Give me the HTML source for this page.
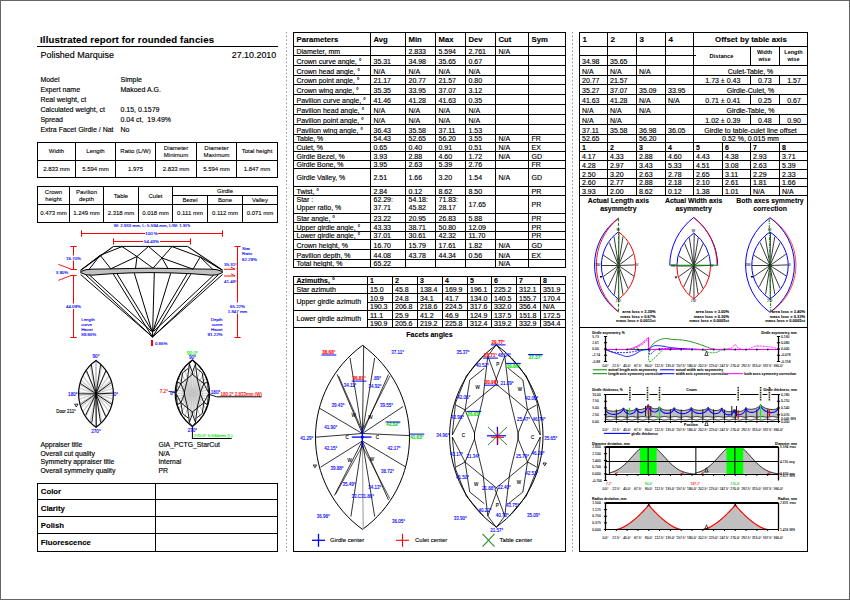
<!DOCTYPE html>
<html><head><meta charset="utf-8"><title>Illustrated report for rounded fancies</title>
<style>html,body{margin:0;padding:0;background:#fff;width:850px;height:600px;overflow:hidden}
svg{display:block} text{font-family:"Liberation Sans",sans-serif}</style></head>
<body><svg width="850" height="600" viewBox="0 0 850 600">
<rect width="850" height="600" fill="#fff"/>
<rect x="0" y="0" width="850" height="1" fill="#646464"/>
<rect x="0" y="599" width="850" height="1" fill="#646464"/>
<rect x="0" y="0" width="1" height="600" fill="#646464"/>
<rect x="849" y="0" width="1" height="600" fill="#646464"/>
<line x1="286.5" y1="32" x2="286.5" y2="552" stroke="#9a9a9a" stroke-width="1" stroke-dasharray="1.6,2.1"/>
<line x1="572.5" y1="32" x2="572.5" y2="552" stroke="#9a9a9a" stroke-width="1" stroke-dasharray="1.6,2.1"/>
<text x="40" y="42.7" font-size="9.6" font-weight="bold" stroke="#000" stroke-width="0.12" letter-spacing="0.15">Illustrated report for rounded fancies</text>
<rect x="37" y="46" width="241" height="1" fill="#000"/>
<text x="40.5" y="57.9" font-size="8.95" stroke="#000" stroke-width="0.15" >Polished Marquise</text>
<text x="276.2" y="57.9" font-size="8.9" text-anchor="end" stroke="#000" stroke-width="0.15" >27.10.2010</text>
<text x="40.4" y="81.8" font-size="7" stroke="#000" stroke-width="0.15" >Model</text>
<text x="120.5" y="81.8" font-size="7" stroke="#000" stroke-width="0.15" xml:space="preserve">Simple</text>
<text x="40.4" y="91.8" font-size="7" stroke="#000" stroke-width="0.15" >Expert name</text>
<text x="120.5" y="91.8" font-size="7" stroke="#000" stroke-width="0.15" xml:space="preserve">Makoed A.G.</text>
<text x="40.4" y="101.8" font-size="7" stroke="#000" stroke-width="0.15" >Real weight, ct</text>
<text x="120.5" y="101.8" font-size="7" stroke="#000" stroke-width="0.15" xml:space="preserve"></text>
<text x="40.4" y="111.8" font-size="7" stroke="#000" stroke-width="0.15" >Calculated weight, ct</text>
<text x="120.5" y="111.8" font-size="7" stroke="#000" stroke-width="0.15" xml:space="preserve">0.15, 0.1579</text>
<text x="40.4" y="121.6" font-size="7" stroke="#000" stroke-width="0.15" >Spread</text>
<text x="120.5" y="121.6" font-size="7" stroke="#000" stroke-width="0.15" xml:space="preserve">0.04 ct,  19.49%</text>
<text x="40.4" y="131.6" font-size="7" stroke="#000" stroke-width="0.15" >Extra Facet Girdle / Nat</text>
<text x="120.5" y="131.6" font-size="7" stroke="#000" stroke-width="0.15" xml:space="preserve">No</text>
<rect x="37" y="142" width="241" height="1" fill="#000"/>
<rect x="37" y="160" width="241" height="1" fill="#000"/>
<rect x="37" y="177" width="241" height="1" fill="#000"/>
<rect x="37" y="142" width="1" height="36" fill="#000"/>
<rect x="75" y="142" width="1" height="36" fill="#000"/>
<rect x="115" y="142" width="1" height="36" fill="#000"/>
<rect x="155" y="142" width="1" height="36" fill="#000"/>
<rect x="196" y="142" width="1" height="36" fill="#000"/>
<rect x="236" y="142" width="1" height="36" fill="#000"/>
<rect x="277" y="142" width="1" height="36" fill="#000"/>
<text x="56.5" y="153.3" font-size="6" text-anchor="middle" stroke="#000" stroke-width="0.1" >Width</text>
<text x="56.5" y="170.8" font-size="6" text-anchor="middle" stroke="#000" stroke-width="0.1" >2.833 mm</text>
<text x="95.5" y="153.3" font-size="6" text-anchor="middle" stroke="#000" stroke-width="0.1" >Length</text>
<text x="95.5" y="170.8" font-size="6" text-anchor="middle" stroke="#000" stroke-width="0.1" >5.594 mm</text>
<text x="135.5" y="153.3" font-size="6" text-anchor="middle" stroke="#000" stroke-width="0.1" >Ratio (L/W)</text>
<text x="135.5" y="170.8" font-size="6" text-anchor="middle" stroke="#000" stroke-width="0.1" >1.975</text>
<text x="176.0" y="149.7" font-size="6" text-anchor="middle" stroke="#000" stroke-width="0.1" >Diameter</text>
<text x="176.0" y="156.9" font-size="6" text-anchor="middle" stroke="#000" stroke-width="0.1" >Minimum</text>
<text x="176.0" y="170.8" font-size="6" text-anchor="middle" stroke="#000" stroke-width="0.1" >2.833 mm</text>
<text x="216.5" y="149.7" font-size="6" text-anchor="middle" stroke="#000" stroke-width="0.1" >Diameter</text>
<text x="216.5" y="156.9" font-size="6" text-anchor="middle" stroke="#000" stroke-width="0.1" >Maximum</text>
<text x="216.5" y="170.8" font-size="6" text-anchor="middle" stroke="#000" stroke-width="0.1" >5.594 mm</text>
<text x="257.0" y="153.3" font-size="6" text-anchor="middle" stroke="#000" stroke-width="0.1" >Total height</text>
<text x="257.0" y="170.8" font-size="6" text-anchor="middle" stroke="#000" stroke-width="0.1" >1.847 mm</text>
<rect x="37" y="186" width="241" height="1" fill="#000"/>
<rect x="37" y="204" width="241" height="1" fill="#000"/>
<rect x="37" y="222" width="241" height="1" fill="#000"/>
<rect x="172" y="195" width="106" height="1" fill="#000"/>
<rect x="37" y="186" width="1" height="37" fill="#000"/>
<rect x="69" y="186" width="1" height="37" fill="#000"/>
<rect x="103" y="186" width="1" height="37" fill="#000"/>
<rect x="138" y="186" width="1" height="37" fill="#000"/>
<rect x="172" y="186" width="1" height="37" fill="#000"/>
<rect x="207" y="195" width="1" height="28" fill="#000"/>
<rect x="242" y="195" width="1" height="28" fill="#000"/>
<rect x="277" y="186" width="1" height="37" fill="#000"/>
<text x="53.5" y="193.7" font-size="6" text-anchor="middle" stroke="#000" stroke-width="0.1" >Crown</text>
<text x="53.5" y="200.6" font-size="6" text-anchor="middle" stroke="#000" stroke-width="0.1" >height</text>
<text x="86.5" y="193.7" font-size="6" text-anchor="middle" stroke="#000" stroke-width="0.1" >Pavilion</text>
<text x="86.5" y="200.6" font-size="6" text-anchor="middle" stroke="#000" stroke-width="0.1" >depth</text>
<text x="121.0" y="197.5" font-size="6" text-anchor="middle" stroke="#000" stroke-width="0.1" >Table</text>
<text x="155.5" y="197.5" font-size="6" text-anchor="middle" stroke="#000" stroke-width="0.1" >Culet</text>
<text x="225.0" y="193" font-size="6" text-anchor="middle" stroke="#000" stroke-width="0.1" >Girdle</text>
<text x="190.0" y="202" font-size="6" text-anchor="middle" stroke="#000" stroke-width="0.1" >Bezel</text>
<text x="225.0" y="202" font-size="6" text-anchor="middle" stroke="#000" stroke-width="0.1" >Bone</text>
<text x="260.0" y="202" font-size="6" text-anchor="middle" stroke="#000" stroke-width="0.1" >Valley</text>
<text x="53.5" y="215.3" font-size="6" text-anchor="middle" stroke="#000" stroke-width="0.1" >0.473 mm</text>
<text x="86.5" y="215.3" font-size="6" text-anchor="middle" stroke="#000" stroke-width="0.1" >1.249 mm</text>
<text x="121.0" y="215.3" font-size="6" text-anchor="middle" stroke="#000" stroke-width="0.1" >2.318 mm</text>
<text x="155.5" y="215.3" font-size="6" text-anchor="middle" stroke="#000" stroke-width="0.1" >0.018 mm</text>
<text x="190.0" y="215.3" font-size="6" text-anchor="middle" stroke="#000" stroke-width="0.1" >0.111 mm</text>
<text x="225.0" y="215.3" font-size="6" text-anchor="middle" stroke="#000" stroke-width="0.1" >0.112 mm</text>
<text x="260.0" y="215.3" font-size="6" text-anchor="middle" stroke="#000" stroke-width="0.1" >0.071 mm</text>
<text x="40.5" y="447.1" font-size="6.85" stroke="#000" stroke-width="0.15" >Appraiser title</text>
<text x="158.4" y="447.1" font-size="6.85" stroke="#000" stroke-width="0.15" >GIA_PCTG_StarCut</text>
<text x="40.5" y="455.8" font-size="6.85" stroke="#000" stroke-width="0.15" >Overall cut quality</text>
<text x="158.4" y="455.8" font-size="6.85" stroke="#000" stroke-width="0.15" >N/A</text>
<text x="40.5" y="464.1" font-size="6.85" stroke="#000" stroke-width="0.15" >Symmetry appraiser title</text>
<text x="158.4" y="464.1" font-size="6.85" stroke="#000" stroke-width="0.15" >Internal</text>
<text x="40.5" y="472.5" font-size="6.85" stroke="#000" stroke-width="0.15" >Overall symmetry quality</text>
<text x="158.4" y="472.5" font-size="6.85" stroke="#000" stroke-width="0.15" >PR</text>
<rect x="37" y="483" width="241" height="1" fill="#000"/>
<rect x="37" y="499" width="241" height="1" fill="#000"/>
<rect x="37" y="516" width="241" height="1" fill="#000"/>
<rect x="37" y="533" width="241" height="1" fill="#000"/>
<rect x="37" y="551" width="241" height="1" fill="#000"/>
<rect x="37" y="483" width="1" height="69" fill="#000"/>
<rect x="155" y="483" width="1" height="69" fill="#000"/>
<rect x="277" y="483" width="1" height="69" fill="#000"/>
<text x="40.8" y="494.4" font-size="7.75" font-weight="bold" stroke="#000" stroke-width="0.12" >Color</text>
<text x="40.8" y="511.3" font-size="7.75" font-weight="bold" stroke="#000" stroke-width="0.12" >Clarity</text>
<text x="40.8" y="528.2" font-size="7.75" font-weight="bold" stroke="#000" stroke-width="0.12" >Polish</text>
<text x="40.8" y="545.4" font-size="7.75" font-weight="bold" stroke="#000" stroke-width="0.12" >Fluorescence</text>
<text x="152" y="227" font-size="4.4" fill="#00f" stroke="#00f" stroke-width="0.12" text-anchor="middle">W: 2.833 mm, L: 5.594 mm, L/W: 1.975</text>
<line x1="81.2" y1="233.5" x2="222.5" y2="233.5" stroke="#f00" stroke-width="1" />
<line x1="81.5" y1="230.3" x2="81.5" y2="236.7" stroke="#f00" stroke-width="1" />
<line x1="222.5" y1="230.3" x2="222.5" y2="236.7" stroke="#f00" stroke-width="1" />
<rect x="145" y="231" width="13" height="5" fill="#fff"/>
<text x="151.5" y="235.2" font-size="4.4" fill="#00f" stroke="#00f" stroke-width="0.12" text-anchor="middle">100 %</text>
<line x1="113.3" y1="241.5" x2="190.4" y2="241.5" stroke="#f00" stroke-width="1" />
<line x1="113.5" y1="238.4" x2="113.5" y2="244.6" stroke="#f00" stroke-width="1" />
<line x1="190.5" y1="238.4" x2="190.5" y2="244.6" stroke="#f00" stroke-width="1" />
<rect x="143" y="238.5" width="17" height="5" fill="#fff"/>
<text x="151.5" y="242.8" font-size="4.4" fill="#00f" stroke="#00f" stroke-width="0.12" text-anchor="middle">54.43%</text>
<line x1="73.5" y1="246.5" x2="73.5" y2="269.4" stroke="#f00" stroke-width="1" />
<line x1="70.5" y1="246.5" x2="76.7" y2="246.5" stroke="#f00" stroke-width="1" />
<line x1="70.5" y1="269.5" x2="76.7" y2="269.5" stroke="#f00" stroke-width="1" />
<rect x="64" y="255.5" width="18" height="5" fill="#fff"/>
<text x="73.4" y="259.6" font-size="4.4" fill="#00f" stroke="#00f" stroke-width="0.12" text-anchor="middle">16.70%</text>
<line x1="58.3" y1="264.3" x2="71.3" y2="269.2" stroke="#f00" stroke-width="0.9" />
<line x1="58.3" y1="280.4" x2="71.3" y2="275.4" stroke="#f00" stroke-width="0.9" />
<line x1="70.5" y1="275.5" x2="76.7" y2="275.5" stroke="#f00" stroke-width="1" />
<text x="62" y="274.2" font-size="4.4" fill="#00f" stroke="#00f" stroke-width="0.12" text-anchor="middle">3.90%</text>
<line x1="73.5" y1="275.6" x2="73.5" y2="337.5" stroke="#f00" stroke-width="1" />
<line x1="70.5" y1="337.5" x2="76.7" y2="337.5" stroke="#f00" stroke-width="1" />
<rect x="64" y="303.5" width="18" height="5.5" fill="#fff"/>
<text x="73.4" y="308" font-size="4.4" fill="#00f" stroke="#00f" stroke-width="0.12" text-anchor="middle">44.09%</text>
<text x="81.2" y="321.0" font-size="4.4" fill="#00f" stroke="#00f" stroke-width="0.12">Length</text>
<text x="81.2" y="326.1" font-size="4.4" fill="#00f" stroke="#00f" stroke-width="0.12">curve</text>
<text x="81.2" y="331.2" font-size="4.4" fill="#00f" stroke="#00f" stroke-width="0.12">Hacet</text>
<text x="81.2" y="336.3" font-size="4.4" fill="#00f" stroke="#00f" stroke-width="0.12">89.90%</text>
<line x1="237.5" y1="246.4" x2="237.5" y2="337.5" stroke="#f00" stroke-width="1" />
<line x1="234.4" y1="246.5" x2="240.6" y2="246.5" stroke="#f00" stroke-width="1" />
<line x1="234.4" y1="337.5" x2="240.6" y2="337.5" stroke="#f00" stroke-width="1" />
<rect x="228" y="302.5" width="20" height="11" fill="#fff"/>
<text x="237.5" y="307.8" font-size="4.4" fill="#00f" stroke="#00f" stroke-width="0.12" text-anchor="middle">65.22%</text>
<text x="237.5" y="312.9" font-size="4.4" fill="#00f" stroke="#00f" stroke-width="0.12" text-anchor="middle">1.847 mm</text>
<text x="242" y="249.6" font-size="4.4" fill="#00f" stroke="#00f" stroke-width="0.12">Star</text>
<text x="242" y="255.1" font-size="4.4" fill="#00f" stroke="#00f" stroke-width="0.12">Ratio</text>
<text x="242" y="261.40000000000003" font-size="4.4" fill="#00f" stroke="#00f" stroke-width="0.12">62.29%</text>
<text x="222.5" y="321.0" font-size="4.4" fill="#00f" stroke="#00f" stroke-width="0.12" text-anchor="end">Depth</text>
<text x="222.5" y="326.1" font-size="4.4" fill="#00f" stroke="#00f" stroke-width="0.12" text-anchor="end">curve</text>
<text x="222.5" y="331.2" font-size="4.4" fill="#00f" stroke="#00f" stroke-width="0.12" text-anchor="end">Hacet</text>
<text x="222.5" y="336.3" font-size="4.4" fill="#00f" stroke="#00f" stroke-width="0.12" text-anchor="end">91.22%</text>
<text x="224.1" y="265.5" font-size="4.4" fill="#00f" stroke="#00f" stroke-width="0.12">35.31°</text>
<text x="224.1" y="282.6" font-size="4.4" fill="#00f" stroke="#00f" stroke-width="0.12">41.48°</text>
<line x1="224" y1="269.3" x2="235" y2="269.3" stroke="#f00" stroke-width="0.9" />
<line x1="235" y1="269.3" x2="231" y2="267.2" stroke="#f00" stroke-width="0.9" />
<line x1="224" y1="276" x2="235" y2="276" stroke="#f00" stroke-width="0.9" />
<line x1="235" y1="276" x2="231" y2="273.8" stroke="#f00" stroke-width="0.9" />
<line x1="152" y1="340" x2="152" y2="346" stroke="#f00" stroke-width="2" />
<text x="155" y="345" font-size="4.4" fill="#00f" stroke="#00f" stroke-width="0.12">0.65%</text>
<polygon points="80.6,271.6 86,269.7 92,269.2 110,268.9 130,268.5 151,268.2 172,268.5 193,268.9 211,269.2 217,269.7 222.5,271.6 222.5,272.6 217,274.8 211,275.2 193,273.8 172,272.9 151,272.6 130,272.9 110,273.8 92,275.2 86,274.8 80.6,272.6" fill="#c0c0c0" stroke="#000" stroke-width="1"/>
<line x1="113.5" y1="246.4" x2="187.5" y2="246.4" stroke="#000" stroke-width="1" />
<polyline points="113.5,246.4 80.6,270.3" fill="none" stroke="#000" stroke-width="1.05" />
<polyline points="187.5,246.4 222.5,270.3" fill="none" stroke="#000" stroke-width="1.05" />
<polyline points="122.0,246.6 100.2,255.3 80.6,270.3" fill="none" stroke="#000" stroke-width="1.0" />
<polyline points="172.0,246.6 200.2,257.0 222.5,270.3" fill="none" stroke="#000" stroke-width="1.0" />
<polyline points="100.2,255.3 110.8,268.8" fill="none" stroke="#000" stroke-width="1.0" />
<polyline points="100.2,255.3 89.0,269.4" fill="none" stroke="#000" stroke-width="1.0" />
<polyline points="200.2,257.0 193.0,269.2" fill="none" stroke="#000" stroke-width="1.0" />
<polyline points="200.2,257.0 213.0,269.6" fill="none" stroke="#000" stroke-width="1.0" />
<polyline points="122.0,246.6 137.0,256.5 148.5,246.4 162.0,258.0 172.0,246.6" fill="none" stroke="#000" stroke-width="1.0" />
<polyline points="110.8,268.8 137.0,256.5 153.0,268.2 162.0,258.0 193.0,269.2" fill="none" stroke="#000" stroke-width="1.0" />
<polyline points="137.0,256.5 135.5,268.6" fill="none" stroke="#000" stroke-width="1.0" />
<polyline points="162.0,258.0 168.0,268.6" fill="none" stroke="#000" stroke-width="1.0" />
<line x1="80.6" y1="274.5" x2="152.5" y2="337" stroke="#000" stroke-width="1.0" />
<line x1="89.6" y1="275.2" x2="151.0" y2="331" stroke="#000" stroke-width="1.0" />
<line x1="86" y1="275" x2="152.5" y2="337" stroke="#000" stroke-width="1.0" />
<line x1="113.3" y1="274" x2="152.5" y2="337" stroke="#000" stroke-width="1.0" />
<line x1="117" y1="273.8" x2="152.0" y2="331" stroke="#000" stroke-width="1.0" />
<line x1="134.3" y1="273.2" x2="152.2" y2="332" stroke="#000" stroke-width="1.0" />
<line x1="154.3" y1="272.6" x2="152.5" y2="337" stroke="#000" stroke-width="1.0" />
<line x1="170.7" y1="273.2" x2="152.8" y2="332" stroke="#000" stroke-width="1.0" />
<line x1="187" y1="274" x2="153.0" y2="331" stroke="#000" stroke-width="1.0" />
<line x1="190.8" y1="274.2" x2="152.5" y2="337" stroke="#000" stroke-width="1.0" />
<line x1="213.6" y1="275.2" x2="154.0" y2="331" stroke="#000" stroke-width="1.0" />
<line x1="218" y1="275" x2="152.5" y2="337" stroke="#000" stroke-width="1.0" />
<line x1="222.5" y1="274.5" x2="152.5" y2="337" stroke="#000" stroke-width="1.0" />
<clipPath id="clipp96"><path d="M96,360.40000000000003 A40.76,40.76 0 0,1 96,427.2 A40.76,40.76 0 0,1 96,360.40000000000003 Z"/></clipPath>
<g clip-path="url(#clipp96)">
<line x1="113.4" y1="392.0" x2="78.6" y2="395.6" stroke="#c8c8c8" stroke-width="1.2"/>
<line x1="113.0" y1="388.3" x2="79.0" y2="399.3" stroke="#c8c8c8" stroke-width="1.2"/>
<line x1="112.3" y1="384.4" x2="79.7" y2="403.2" stroke="#c8c8c8" stroke-width="1.2"/>
<line x1="111.1" y1="380.2" x2="80.9" y2="407.4" stroke="#c8c8c8" stroke-width="1.2"/>
<line x1="109.2" y1="375.7" x2="82.8" y2="411.9" stroke="#c8c8c8" stroke-width="1.2"/>
<line x1="106.3" y1="370.8" x2="85.7" y2="416.8" stroke="#c8c8c8" stroke-width="1.2"/>
<line x1="102.0" y1="365.5" x2="90.0" y2="422.1" stroke="#c8c8c8" stroke-width="1.2"/>
<line x1="96.0" y1="360.4" x2="96.0" y2="427.2" stroke="#c8c8c8" stroke-width="1.2"/>
<line x1="90.0" y1="365.5" x2="102.0" y2="422.1" stroke="#c8c8c8" stroke-width="1.2"/>
<line x1="85.7" y1="370.8" x2="106.3" y2="416.8" stroke="#c8c8c8" stroke-width="1.2"/>
<line x1="82.8" y1="375.7" x2="109.2" y2="411.9" stroke="#c8c8c8" stroke-width="1.2"/>
<line x1="80.9" y1="380.2" x2="111.1" y2="407.4" stroke="#c8c8c8" stroke-width="1.2"/>
<line x1="79.7" y1="384.4" x2="112.3" y2="403.2" stroke="#c8c8c8" stroke-width="1.2"/>
<line x1="79.0" y1="388.3" x2="113.0" y2="399.3" stroke="#c8c8c8" stroke-width="1.2"/>
<line x1="78.6" y1="392.0" x2="113.4" y2="395.6" stroke="#c8c8c8" stroke-width="1.2"/>
<line x1="96" y1="360.40000000000003" x2="96" y2="427.2" stroke="#c8c8c8" stroke-width="1.8"/>
</g>
<line x1="91.4" y1="365.0" x2="96.0" y2="393.8" stroke="#000" stroke-width="0.9" />
<line x1="100.6" y1="365.0" x2="96.0" y2="393.8" stroke="#000" stroke-width="0.9" />
<line x1="86.7" y1="371.0" x2="96.0" y2="393.8" stroke="#000" stroke-width="0.9" />
<line x1="105.7" y1="371.0" x2="96.0" y2="393.8" stroke="#000" stroke-width="0.9" />
<line x1="80.2" y1="383.3" x2="96.0" y2="393.8" stroke="#000" stroke-width="0.9" />
<line x1="111.1" y1="382.7" x2="96.0" y2="393.8" stroke="#000" stroke-width="0.9" />
<line x1="78.6" y1="393.8" x2="96.0" y2="393.8" stroke="#000" stroke-width="0.9" />
<line x1="113.4" y1="393.2" x2="96.0" y2="393.8" stroke="#000" stroke-width="0.9" />
<line x1="96.3" y1="427.3" x2="96.0" y2="393.8" stroke="#000" stroke-width="0.9" />
<line x1="80.6" y1="404.7" x2="96.0" y2="393.8" stroke="#000" stroke-width="0.9" />
<line x1="85.7" y1="415.0" x2="96.0" y2="393.8" stroke="#000" stroke-width="0.9" />
<line x1="91.8" y1="422.6" x2="96.0" y2="393.8" stroke="#000" stroke-width="0.9" />
<line x1="100.6" y1="422.6" x2="96.0" y2="393.8" stroke="#000" stroke-width="0.9" />
<line x1="105.7" y1="416.6" x2="96.0" y2="393.8" stroke="#000" stroke-width="0.9" />
<line x1="112.1" y1="404.7" x2="96.0" y2="393.8" stroke="#000" stroke-width="0.9" />
<path d="M96,360.40000000000003 A40.76,40.76 0 0,1 96,427.2 A40.76,40.76 0 0,1 96,360.40000000000003 Z" fill="none" stroke="#000" stroke-width="1.2"/>
<text x="96" y="358.2" font-size="4.6" fill="#00f" stroke="#00f" stroke-width="0.12" text-anchor="middle">90°</text>
<text x="96" y="432.5" font-size="4.6" fill="#00f" stroke="#00f" stroke-width="0.12" text-anchor="middle">270°</text>
<text x="77.6" y="395.6" font-size="4.6" fill="#00f" stroke="#00f" stroke-width="0.12" text-anchor="end">180°</text>
<text x="113.8" y="395.6" font-size="4.6" fill="#00f" stroke="#00f" stroke-width="0.12">0°</text>
<path d="M74.6,404.2 L78,404.2 L76.3,407 Z" fill="none" stroke="#000" stroke-width="0.8"/>
<text x="56.2" y="412.6" font-size="4.45" fill="#000" stroke="#000" stroke-width="0.12">Door 211°</text>
<clipPath id="clipc192"><path d="M192.4,360.0 A40.64,40.64 0 0,1 192.4,426.4 A40.64,40.64 0 0,1 192.4,360.0 Z"/></clipPath>
<g clip-path="url(#clipc192)">
<path d="M192.4,372.616 A25.20,25.20 0 0,1 192.4,413.784 A25.20,25.20 0 0,1 192.4,372.616 Z" fill="#e2e2e2"/>
<line x1="209.6" y1="393.2" x2="175.2" y2="393.2" stroke="#c4c4c4" stroke-width="1.1"/>
<line x1="209.4" y1="389.6" x2="175.4" y2="396.8" stroke="#c4c4c4" stroke-width="1.1"/>
<line x1="208.9" y1="385.8" x2="175.9" y2="400.6" stroke="#c4c4c4" stroke-width="1.1"/>
<line x1="208.0" y1="381.9" x2="176.8" y2="404.5" stroke="#c4c4c4" stroke-width="1.1"/>
<line x1="206.5" y1="377.6" x2="178.3" y2="408.8" stroke="#c4c4c4" stroke-width="1.1"/>
<line x1="204.1" y1="372.9" x2="180.7" y2="413.5" stroke="#c4c4c4" stroke-width="1.1"/>
<line x1="200.7" y1="367.8" x2="184.1" y2="418.6" stroke="#c4c4c4" stroke-width="1.1"/>
<line x1="195.6" y1="362.5" x2="189.2" y2="423.9" stroke="#c4c4c4" stroke-width="1.1"/>
<line x1="189.2" y1="362.5" x2="195.6" y2="423.9" stroke="#c4c4c4" stroke-width="1.1"/>
<line x1="184.1" y1="367.8" x2="200.7" y2="418.6" stroke="#c4c4c4" stroke-width="1.1"/>
<line x1="180.7" y1="372.9" x2="204.1" y2="413.5" stroke="#c4c4c4" stroke-width="1.1"/>
<line x1="178.3" y1="377.6" x2="206.5" y2="408.8" stroke="#c4c4c4" stroke-width="1.1"/>
<line x1="176.8" y1="381.9" x2="208.0" y2="404.5" stroke="#c4c4c4" stroke-width="1.1"/>
<line x1="175.9" y1="385.8" x2="208.9" y2="400.6" stroke="#c4c4c4" stroke-width="1.1"/>
<line x1="175.4" y1="389.6" x2="209.4" y2="396.8" stroke="#c4c4c4" stroke-width="1.1"/>
</g>
<polyline points="192.4,359.8 189.3,364.0" fill="none" stroke="#000" stroke-width="0.9" />
<polyline points="189.3,364.0 193.0,373.9" fill="none" stroke="#000" stroke-width="0.9" />
<polyline points="193.0,373.9 180.9,383.7" fill="none" stroke="#000" stroke-width="0.9" />
<polyline points="189.3,364.0 187.5,379.3 184.4,392.1" fill="none" stroke="#000" stroke-width="0.9" />
<polyline points="188.0,368.5 182.6,372.8 180.9,383.7" fill="none" stroke="#000" stroke-width="0.9" />
<polyline points="180.9,383.7 176.2,392.8" fill="none" stroke="#000" stroke-width="0.9" />
<polyline points="180.9,383.7 184.4,392.1" fill="none" stroke="#000" stroke-width="0.9" />
<polyline points="187.6,364.0 181.4,371.3 177.4,381.2 176.2,392.8" fill="none" stroke="#000" stroke-width="0.9" />
<polyline points="180.9,383.7 177.6,381.9" fill="none" stroke="#000" stroke-width="0.9" />
<polyline points="184.4,392.1 184.4,394.3" fill="none" stroke="#000" stroke-width="0.9" />
<polyline points="192.4,426.6 189.3,422.4" fill="none" stroke="#000" stroke-width="0.9" />
<polyline points="189.3,422.4 193.0,412.5" fill="none" stroke="#000" stroke-width="0.9" />
<polyline points="193.0,412.5 180.9,402.7" fill="none" stroke="#000" stroke-width="0.9" />
<polyline points="189.3,422.4 187.5,407.1 184.4,394.3" fill="none" stroke="#000" stroke-width="0.9" />
<polyline points="188.0,417.9 182.6,413.6 180.9,402.7" fill="none" stroke="#000" stroke-width="0.9" />
<polyline points="180.9,402.7 176.2,393.6" fill="none" stroke="#000" stroke-width="0.9" />
<polyline points="180.9,402.7 184.4,394.3" fill="none" stroke="#000" stroke-width="0.9" />
<polyline points="187.6,422.4 181.4,415.1 177.4,405.2 176.2,393.6" fill="none" stroke="#000" stroke-width="0.9" />
<polyline points="180.9,402.7 177.6,404.5" fill="none" stroke="#000" stroke-width="0.9" />
<polyline points="184.4,394.3 184.4,392.1" fill="none" stroke="#000" stroke-width="0.9" />
<polyline points="192.4,359.8 195.5,364.0" fill="none" stroke="#000" stroke-width="0.9" />
<polyline points="195.5,364.0 191.8,373.9" fill="none" stroke="#000" stroke-width="0.9" />
<polyline points="191.8,373.9 203.9,383.7" fill="none" stroke="#000" stroke-width="0.9" />
<polyline points="195.5,364.0 197.3,379.3 200.4,392.1" fill="none" stroke="#000" stroke-width="0.9" />
<polyline points="196.8,368.5 202.2,372.8 203.9,383.7" fill="none" stroke="#000" stroke-width="0.9" />
<polyline points="203.9,383.7 208.6,392.8" fill="none" stroke="#000" stroke-width="0.9" />
<polyline points="203.9,383.7 200.4,392.1" fill="none" stroke="#000" stroke-width="0.9" />
<polyline points="197.2,364.0 203.4,371.3 207.4,381.2 208.6,392.8" fill="none" stroke="#000" stroke-width="0.9" />
<polyline points="203.9,383.7 207.2,381.9" fill="none" stroke="#000" stroke-width="0.9" />
<polyline points="200.4,392.1 200.4,394.3" fill="none" stroke="#000" stroke-width="0.9" />
<polyline points="192.4,426.6 195.5,422.4" fill="none" stroke="#000" stroke-width="0.9" />
<polyline points="195.5,422.4 191.8,412.5" fill="none" stroke="#000" stroke-width="0.9" />
<polyline points="191.8,412.5 203.9,402.7" fill="none" stroke="#000" stroke-width="0.9" />
<polyline points="195.5,422.4 197.3,407.1 200.4,394.3" fill="none" stroke="#000" stroke-width="0.9" />
<polyline points="196.8,417.9 202.2,413.6 203.9,402.7" fill="none" stroke="#000" stroke-width="0.9" />
<polyline points="203.9,402.7 208.6,393.6" fill="none" stroke="#000" stroke-width="0.9" />
<polyline points="203.9,402.7 200.4,394.3" fill="none" stroke="#000" stroke-width="0.9" />
<polyline points="197.2,422.4 203.4,415.1 207.4,405.2 208.6,393.6" fill="none" stroke="#000" stroke-width="0.9" />
<polyline points="203.9,402.7 207.2,404.5" fill="none" stroke="#000" stroke-width="0.9" />
<polyline points="200.4,394.3 200.4,392.1" fill="none" stroke="#000" stroke-width="0.9" />
<path d="M192.4,360.0 A40.64,40.64 0 0,1 192.4,426.4 A40.64,40.64 0 0,1 192.4,360.0 Z" fill="none" stroke="#000" stroke-width="1.2"/>
<line x1="192.4" y1="426.4" x2="192.4" y2="438.5" stroke="#000" stroke-width="1" />
<line x1="191.9" y1="438.5" x2="231.7" y2="438.5" stroke="#000" stroke-width="1" />
<line x1="209.6" y1="394.5" x2="216.7" y2="396.8" stroke="#000" stroke-width="0.9" />
<line x1="216.7" y1="396.8" x2="261.7" y2="396.8" stroke="#000" stroke-width="1" />
<line x1="168.5" y1="391.3" x2="175.3" y2="392.5" stroke="#000" stroke-width="0.8" />
<text x="192.4" y="355.2" font-size="4.6" fill="#0e0" stroke="#0e0" stroke-width="0.12" text-anchor="middle">90.0°</text>
<text x="192.4" y="359.2" font-size="4.6" fill="#00f" stroke="#00f" stroke-width="0.12" text-anchor="middle">90°</text>
<text x="192.4" y="432.2" font-size="4.6" fill="#00f" stroke="#00f" stroke-width="0.12" text-anchor="middle">270°</text>
<text x="174.6" y="394.5" font-size="4.6" fill="#00f" stroke="#00f" stroke-width="0.12" text-anchor="end">0°</text>
<text x="168" y="392.8" font-size="4.6" fill="#f00" stroke="#f00" stroke-width="0.12" text-anchor="end">7.2°</text>
<text x="210.8" y="394.2" font-size="4.6" fill="#00f" stroke="#00f" stroke-width="0.12">180°</text>
<text x="220.5" y="395.5" font-size="4.5" fill="#f00" stroke="#f00" stroke-width="0.12">180.2° 2.833mm (W)</text>
<text x="193.7" y="437.2" font-size="4.4" fill="#0e0" stroke="#0e0" stroke-width="0.12">270.0° 5.594mm (L)</text>
<rect x="293" y="32" width="273" height="1" fill="#000"/>
<rect x="293" y="46" width="273" height="1" fill="#000"/>
<rect x="293" y="55" width="273" height="1" fill="#000"/>
<rect x="293" y="65" width="273" height="1" fill="#000"/>
<rect x="293" y="75" width="273" height="1" fill="#000"/>
<rect x="293" y="84" width="273" height="1" fill="#000"/>
<rect x="293" y="94" width="273" height="1" fill="#000"/>
<rect x="293" y="104" width="273" height="1" fill="#000"/>
<rect x="293" y="114" width="273" height="1" fill="#000"/>
<rect x="293" y="124" width="273" height="1" fill="#000"/>
<rect x="293" y="134" width="273" height="1" fill="#000"/>
<rect x="293" y="142" width="273" height="1" fill="#000"/>
<rect x="293" y="151" width="273" height="1" fill="#000"/>
<rect x="293" y="160" width="273" height="1" fill="#000"/>
<rect x="293" y="168" width="273" height="1" fill="#000"/>
<rect x="293" y="186" width="273" height="1" fill="#000"/>
<rect x="293" y="195" width="273" height="1" fill="#000"/>
<rect x="293" y="213" width="273" height="1" fill="#000"/>
<rect x="293" y="222" width="273" height="1" fill="#000"/>
<rect x="293" y="231" width="273" height="1" fill="#000"/>
<rect x="293" y="239" width="273" height="1" fill="#000"/>
<rect x="293" y="249" width="273" height="1" fill="#000"/>
<rect x="293" y="259" width="273" height="1" fill="#000"/>
<rect x="293" y="267" width="273" height="1" fill="#000"/>
<rect x="293" y="32" width="1" height="236" fill="#000"/>
<rect x="370" y="32" width="1" height="236" fill="#000"/>
<rect x="405" y="32" width="1" height="236" fill="#000"/>
<rect x="435" y="32" width="1" height="236" fill="#000"/>
<rect x="465" y="32" width="1" height="236" fill="#000"/>
<rect x="495" y="32" width="1" height="236" fill="#000"/>
<rect x="528" y="32" width="1" height="236" fill="#000"/>
<rect x="565" y="32" width="1" height="236" fill="#000"/>
<text x="296.5" y="42.2" font-size="7.7" font-weight="bold" stroke="#000" stroke-width="0.12" >Parameters</text>
<text x="373.5" y="42.2" font-size="7.7" font-weight="bold" stroke="#000" stroke-width="0.12" >Avg</text>
<text x="408.5" y="42.2" font-size="7.7" font-weight="bold" stroke="#000" stroke-width="0.12" >Min</text>
<text x="438.5" y="42.2" font-size="7.7" font-weight="bold" stroke="#000" stroke-width="0.12" >Max</text>
<text x="468.5" y="42.2" font-size="7.7" font-weight="bold" stroke="#000" stroke-width="0.12" >Dev</text>
<text x="498.5" y="42.2" font-size="7.7" font-weight="bold" stroke="#000" stroke-width="0.12" >Cut</text>
<text x="531.5" y="42.2" font-size="7.7" font-weight="bold" stroke="#000" stroke-width="0.12" >Sym</text>
<text x="296.5" y="54.1" font-size="7" stroke="#000" stroke-width="0.15" >Diameter, mm</text>
<text x="408.5" y="54.1" font-size="7" stroke="#000" stroke-width="0.15" >2.833</text>
<text x="438.5" y="54.1" font-size="7" stroke="#000" stroke-width="0.15" >5.594</text>
<text x="468.5" y="54.1" font-size="7" stroke="#000" stroke-width="0.15" >2.761</text>
<text x="498.5" y="54.1" font-size="7" stroke="#000" stroke-width="0.15" >N/A</text>
<text x="296.5" y="64.1" font-size="7" stroke="#000" stroke-width="0.15" >Crown curve angle, °</text>
<text x="373.5" y="64.1" font-size="7" stroke="#000" stroke-width="0.15" >35.31</text>
<text x="408.5" y="64.1" font-size="7" stroke="#000" stroke-width="0.15" >34.98</text>
<text x="438.5" y="64.1" font-size="7" stroke="#000" stroke-width="0.15" >35.65</text>
<text x="468.5" y="64.1" font-size="7" stroke="#000" stroke-width="0.15" >0.67</text>
<text x="296.5" y="74.1" font-size="7" stroke="#000" stroke-width="0.15" >Crown head angle, °</text>
<text x="373.5" y="74.1" font-size="7" stroke="#000" stroke-width="0.15" >N/A</text>
<text x="408.5" y="74.1" font-size="7" stroke="#000" stroke-width="0.15" >N/A</text>
<text x="438.5" y="74.1" font-size="7" stroke="#000" stroke-width="0.15" >N/A</text>
<text x="468.5" y="74.1" font-size="7" stroke="#000" stroke-width="0.15" >N/A</text>
<text x="296.5" y="83.1" font-size="7" stroke="#000" stroke-width="0.15" >Crown point angle, °</text>
<text x="373.5" y="83.1" font-size="7" stroke="#000" stroke-width="0.15" >21.17</text>
<text x="408.5" y="83.1" font-size="7" stroke="#000" stroke-width="0.15" >20.77</text>
<text x="438.5" y="83.1" font-size="7" stroke="#000" stroke-width="0.15" >21.57</text>
<text x="468.5" y="83.1" font-size="7" stroke="#000" stroke-width="0.15" >0.80</text>
<text x="296.5" y="93.1" font-size="7" stroke="#000" stroke-width="0.15" >Crown wing angle, °</text>
<text x="373.5" y="93.1" font-size="7" stroke="#000" stroke-width="0.15" >35.35</text>
<text x="408.5" y="93.1" font-size="7" stroke="#000" stroke-width="0.15" >33.95</text>
<text x="438.5" y="93.1" font-size="7" stroke="#000" stroke-width="0.15" >37.07</text>
<text x="468.5" y="93.1" font-size="7" stroke="#000" stroke-width="0.15" >3.12</text>
<text x="296.5" y="103.1" font-size="7" stroke="#000" stroke-width="0.15" >Pavilion curve angle, °</text>
<text x="373.5" y="103.1" font-size="7" stroke="#000" stroke-width="0.15" >41.46</text>
<text x="408.5" y="103.1" font-size="7" stroke="#000" stroke-width="0.15" >41.28</text>
<text x="438.5" y="103.1" font-size="7" stroke="#000" stroke-width="0.15" >41.63</text>
<text x="468.5" y="103.1" font-size="7" stroke="#000" stroke-width="0.15" >0.35</text>
<text x="296.5" y="113.1" font-size="7" stroke="#000" stroke-width="0.15" >Pavilion head angle, °</text>
<text x="373.5" y="113.1" font-size="7" stroke="#000" stroke-width="0.15" >N/A</text>
<text x="408.5" y="113.1" font-size="7" stroke="#000" stroke-width="0.15" >N/A</text>
<text x="438.5" y="113.1" font-size="7" stroke="#000" stroke-width="0.15" >N/A</text>
<text x="468.5" y="113.1" font-size="7" stroke="#000" stroke-width="0.15" >N/A</text>
<text x="296.5" y="123.1" font-size="7" stroke="#000" stroke-width="0.15" >Pavilion point angle, °</text>
<text x="373.5" y="123.1" font-size="7" stroke="#000" stroke-width="0.15" >N/A</text>
<text x="408.5" y="123.1" font-size="7" stroke="#000" stroke-width="0.15" >N/A</text>
<text x="438.5" y="123.1" font-size="7" stroke="#000" stroke-width="0.15" >N/A</text>
<text x="468.5" y="123.1" font-size="7" stroke="#000" stroke-width="0.15" >N/A</text>
<text x="296.5" y="133.1" font-size="7" stroke="#000" stroke-width="0.15" >Pavilion wing angle, °</text>
<text x="373.5" y="133.1" font-size="7" stroke="#000" stroke-width="0.15" >36.43</text>
<text x="408.5" y="133.1" font-size="7" stroke="#000" stroke-width="0.15" >35.58</text>
<text x="438.5" y="133.1" font-size="7" stroke="#000" stroke-width="0.15" >37.11</text>
<text x="468.5" y="133.1" font-size="7" stroke="#000" stroke-width="0.15" >1.53</text>
<text x="296.5" y="141.1" font-size="7" stroke="#000" stroke-width="0.15" >Table, %</text>
<text x="373.5" y="141.1" font-size="7" stroke="#000" stroke-width="0.15" >54.43</text>
<text x="408.5" y="141.1" font-size="7" stroke="#000" stroke-width="0.15" >52.65</text>
<text x="438.5" y="141.1" font-size="7" stroke="#000" stroke-width="0.15" >56.20</text>
<text x="468.5" y="141.1" font-size="7" stroke="#000" stroke-width="0.15" >3.55</text>
<text x="498.5" y="141.1" font-size="7" stroke="#000" stroke-width="0.15" >N/A</text>
<text x="531.5" y="141.1" font-size="7" stroke="#000" stroke-width="0.15" >FR</text>
<text x="296.5" y="150.1" font-size="7" stroke="#000" stroke-width="0.15" >Culet, %</text>
<text x="373.5" y="150.1" font-size="7" stroke="#000" stroke-width="0.15" >0.65</text>
<text x="408.5" y="150.1" font-size="7" stroke="#000" stroke-width="0.15" >0.40</text>
<text x="438.5" y="150.1" font-size="7" stroke="#000" stroke-width="0.15" >0.91</text>
<text x="468.5" y="150.1" font-size="7" stroke="#000" stroke-width="0.15" >0.51</text>
<text x="498.5" y="150.1" font-size="7" stroke="#000" stroke-width="0.15" >N/A</text>
<text x="531.5" y="150.1" font-size="7" stroke="#000" stroke-width="0.15" >EX</text>
<text x="296.5" y="159.1" font-size="7" stroke="#000" stroke-width="0.15" >Girdle Bezel, %</text>
<text x="373.5" y="159.1" font-size="7" stroke="#000" stroke-width="0.15" >3.93</text>
<text x="408.5" y="159.1" font-size="7" stroke="#000" stroke-width="0.15" >2.88</text>
<text x="438.5" y="159.1" font-size="7" stroke="#000" stroke-width="0.15" >4.60</text>
<text x="468.5" y="159.1" font-size="7" stroke="#000" stroke-width="0.15" >1.72</text>
<text x="498.5" y="159.1" font-size="7" stroke="#000" stroke-width="0.15" >N/A</text>
<text x="531.5" y="159.1" font-size="7" stroke="#000" stroke-width="0.15" >GD</text>
<text x="296.5" y="167.1" font-size="7" stroke="#000" stroke-width="0.15" >Girdle Bone, %</text>
<text x="373.5" y="167.1" font-size="7" stroke="#000" stroke-width="0.15" >3.95</text>
<text x="408.5" y="167.1" font-size="7" stroke="#000" stroke-width="0.15" >2.63</text>
<text x="438.5" y="167.1" font-size="7" stroke="#000" stroke-width="0.15" >5.39</text>
<text x="468.5" y="167.1" font-size="7" stroke="#000" stroke-width="0.15" >2.76</text>
<text x="531.5" y="167.1" font-size="7" stroke="#000" stroke-width="0.15" >FR</text>
<text x="296.5" y="179.8" font-size="7" stroke="#000" stroke-width="0.15" >Girdle Valley, %</text>
<text x="373.5" y="179.8" font-size="7" stroke="#000" stroke-width="0.15" >2.51</text>
<text x="408.5" y="179.8" font-size="7" stroke="#000" stroke-width="0.15" >1.66</text>
<text x="438.5" y="179.8" font-size="7" stroke="#000" stroke-width="0.15" >3.20</text>
<text x="468.5" y="179.8" font-size="7" stroke="#000" stroke-width="0.15" >1.54</text>
<text x="498.5" y="179.8" font-size="7" stroke="#000" stroke-width="0.15" >N/A</text>
<text x="531.5" y="179.8" font-size="7" stroke="#000" stroke-width="0.15" >GD</text>
<text x="296.5" y="194.1" font-size="7" stroke="#000" stroke-width="0.15" >Twist, °</text>
<text x="373.5" y="194.1" font-size="7" stroke="#000" stroke-width="0.15" >2.84</text>
<text x="408.5" y="194.1" font-size="7" stroke="#000" stroke-width="0.15" >0.12</text>
<text x="438.5" y="194.1" font-size="7" stroke="#000" stroke-width="0.15" >8.62</text>
<text x="468.5" y="194.1" font-size="7" stroke="#000" stroke-width="0.15" >8.50</text>
<text x="531.5" y="194.1" font-size="7" stroke="#000" stroke-width="0.15" >PR</text>
<text x="468.5" y="206.8" font-size="7" stroke="#000" stroke-width="0.15" >17.65</text>
<text x="531.5" y="206.8" font-size="7" stroke="#000" stroke-width="0.15" >PR</text>
<text x="296.5" y="221.1" font-size="7" stroke="#000" stroke-width="0.15" >Star angle, °</text>
<text x="373.5" y="221.1" font-size="7" stroke="#000" stroke-width="0.15" >23.22</text>
<text x="408.5" y="221.1" font-size="7" stroke="#000" stroke-width="0.15" >20.95</text>
<text x="438.5" y="221.1" font-size="7" stroke="#000" stroke-width="0.15" >26.83</text>
<text x="468.5" y="221.1" font-size="7" stroke="#000" stroke-width="0.15" >5.88</text>
<text x="531.5" y="221.1" font-size="7" stroke="#000" stroke-width="0.15" >PR</text>
<text x="296.5" y="230.1" font-size="7" stroke="#000" stroke-width="0.15" >Upper girdle angle, °</text>
<text x="373.5" y="230.1" font-size="7" stroke="#000" stroke-width="0.15" >43.33</text>
<text x="408.5" y="230.1" font-size="7" stroke="#000" stroke-width="0.15" >38.71</text>
<text x="438.5" y="230.1" font-size="7" stroke="#000" stroke-width="0.15" >50.80</text>
<text x="468.5" y="230.1" font-size="7" stroke="#000" stroke-width="0.15" >12.09</text>
<text x="531.5" y="230.1" font-size="7" stroke="#000" stroke-width="0.15" >PR</text>
<text x="296.5" y="238.1" font-size="7" stroke="#000" stroke-width="0.15" >Lower girdle angle, °</text>
<text x="373.5" y="238.1" font-size="7" stroke="#000" stroke-width="0.15" >37.01</text>
<text x="408.5" y="238.1" font-size="7" stroke="#000" stroke-width="0.15" >30.61</text>
<text x="438.5" y="238.1" font-size="7" stroke="#000" stroke-width="0.15" >42.32</text>
<text x="468.5" y="238.1" font-size="7" stroke="#000" stroke-width="0.15" >11.70</text>
<text x="531.5" y="238.1" font-size="7" stroke="#000" stroke-width="0.15" >PR</text>
<text x="296.5" y="248.1" font-size="7" stroke="#000" stroke-width="0.15" >Crown height, %</text>
<text x="373.5" y="248.1" font-size="7" stroke="#000" stroke-width="0.15" >16.70</text>
<text x="408.5" y="248.1" font-size="7" stroke="#000" stroke-width="0.15" >15.79</text>
<text x="438.5" y="248.1" font-size="7" stroke="#000" stroke-width="0.15" >17.61</text>
<text x="468.5" y="248.1" font-size="7" stroke="#000" stroke-width="0.15" >1.82</text>
<text x="498.5" y="248.1" font-size="7" stroke="#000" stroke-width="0.15" >N/A</text>
<text x="531.5" y="248.1" font-size="7" stroke="#000" stroke-width="0.15" >GD</text>
<text x="296.5" y="258.1" font-size="7" stroke="#000" stroke-width="0.15" >Pavilion depth, %</text>
<text x="373.5" y="258.1" font-size="7" stroke="#000" stroke-width="0.15" >44.08</text>
<text x="408.5" y="258.1" font-size="7" stroke="#000" stroke-width="0.15" >43.78</text>
<text x="438.5" y="258.1" font-size="7" stroke="#000" stroke-width="0.15" >44.34</text>
<text x="468.5" y="258.1" font-size="7" stroke="#000" stroke-width="0.15" >0.56</text>
<text x="498.5" y="258.1" font-size="7" stroke="#000" stroke-width="0.15" >N/A</text>
<text x="531.5" y="258.1" font-size="7" stroke="#000" stroke-width="0.15" >EX</text>
<text x="296.5" y="266.1" font-size="7" stroke="#000" stroke-width="0.15" >Total height, %</text>
<text x="373.5" y="266.1" font-size="7" stroke="#000" stroke-width="0.15" >65.22</text>
<text x="498.5" y="266.1" font-size="7" stroke="#000" stroke-width="0.15" >N/A</text>
<text x="296.5" y="202.1" font-size="7" stroke="#000" stroke-width="0.15" >Star :</text>
<text x="296.5" y="210.4" font-size="7" stroke="#000" stroke-width="0.15" >Upper ratio, %</text>
<text x="373.5" y="202.1" font-size="7" stroke="#000" stroke-width="0.15" >62.29:</text>
<text x="373.5" y="210.4" font-size="7" stroke="#000" stroke-width="0.15" >37.71</text>
<text x="408.5" y="202.1" font-size="7" stroke="#000" stroke-width="0.15" >54.18:</text>
<text x="408.5" y="210.4" font-size="7" stroke="#000" stroke-width="0.15" >45.82</text>
<text x="438.5" y="202.1" font-size="7" stroke="#000" stroke-width="0.15" >71.83:</text>
<text x="438.5" y="210.4" font-size="7" stroke="#000" stroke-width="0.15" >28.17</text>
<rect x="293" y="276" width="273" height="1" fill="#000"/>
<rect x="293" y="284" width="273" height="1" fill="#000"/>
<rect x="293" y="293" width="273" height="1" fill="#000"/>
<rect x="293" y="310" width="273" height="1" fill="#000"/>
<rect x="293" y="327" width="273" height="1" fill="#000"/>
<rect x="367" y="302" width="199" height="1" fill="#000"/>
<rect x="367" y="319" width="199" height="1" fill="#000"/>
<rect x="293" y="276" width="1" height="52" fill="#000"/>
<rect x="367" y="276" width="1" height="52" fill="#000"/>
<rect x="392" y="276" width="1" height="52" fill="#000"/>
<rect x="417" y="276" width="1" height="52" fill="#000"/>
<rect x="442" y="276" width="1" height="52" fill="#000"/>
<rect x="467" y="276" width="1" height="52" fill="#000"/>
<rect x="491" y="276" width="1" height="52" fill="#000"/>
<rect x="516" y="276" width="1" height="52" fill="#000"/>
<rect x="540" y="276" width="1" height="52" fill="#000"/>
<rect x="565" y="276" width="1" height="52" fill="#000"/>
<text x="296.5" y="282.5" font-size="7" font-weight="bold" stroke="#000" stroke-width="0.12" >Azimuths, °</text>
<text x="370" y="282.5" font-size="7" font-weight="bold" stroke="#000" stroke-width="0.12" >1</text>
<text x="395" y="282.5" font-size="7" font-weight="bold" stroke="#000" stroke-width="0.12" >2</text>
<text x="420" y="282.5" font-size="7" font-weight="bold" stroke="#000" stroke-width="0.12" >3</text>
<text x="445" y="282.5" font-size="7" font-weight="bold" stroke="#000" stroke-width="0.12" >4</text>
<text x="470" y="282.5" font-size="7" font-weight="bold" stroke="#000" stroke-width="0.12" >5</text>
<text x="494" y="282.5" font-size="7" font-weight="bold" stroke="#000" stroke-width="0.12" >6</text>
<text x="519" y="282.5" font-size="7" font-weight="bold" stroke="#000" stroke-width="0.12" >7</text>
<text x="543" y="282.5" font-size="7" font-weight="bold" stroke="#000" stroke-width="0.12" >8</text>
<text x="370" y="292.1" font-size="7" stroke="#000" stroke-width="0.15" >15.0</text>
<text x="395" y="292.1" font-size="7" stroke="#000" stroke-width="0.15" >45.8</text>
<text x="420" y="292.1" font-size="7" stroke="#000" stroke-width="0.15" >138.4</text>
<text x="445" y="292.1" font-size="7" stroke="#000" stroke-width="0.15" >169.9</text>
<text x="470" y="292.1" font-size="7" stroke="#000" stroke-width="0.15" >196.1</text>
<text x="494" y="292.1" font-size="7" stroke="#000" stroke-width="0.15" >225.2</text>
<text x="519" y="292.1" font-size="7" stroke="#000" stroke-width="0.15" >312.1</text>
<text x="543" y="292.1" font-size="7" stroke="#000" stroke-width="0.15" >351.9</text>
<text x="370" y="301.1" font-size="7" stroke="#000" stroke-width="0.15" >10.9</text>
<text x="395" y="301.1" font-size="7" stroke="#000" stroke-width="0.15" >24.8</text>
<text x="420" y="301.1" font-size="7" stroke="#000" stroke-width="0.15" >34.1</text>
<text x="445" y="301.1" font-size="7" stroke="#000" stroke-width="0.15" >41.7</text>
<text x="470" y="301.1" font-size="7" stroke="#000" stroke-width="0.15" >134.0</text>
<text x="494" y="301.1" font-size="7" stroke="#000" stroke-width="0.15" >140.5</text>
<text x="519" y="301.1" font-size="7" stroke="#000" stroke-width="0.15" >155.7</text>
<text x="543" y="301.1" font-size="7" stroke="#000" stroke-width="0.15" >170.4</text>
<text x="370" y="309.1" font-size="7" stroke="#000" stroke-width="0.15" >190.3</text>
<text x="395" y="309.1" font-size="7" stroke="#000" stroke-width="0.15" >206.8</text>
<text x="420" y="309.1" font-size="7" stroke="#000" stroke-width="0.15" >218.6</text>
<text x="445" y="309.1" font-size="7" stroke="#000" stroke-width="0.15" >224.5</text>
<text x="470" y="309.1" font-size="7" stroke="#000" stroke-width="0.15" >317.6</text>
<text x="494" y="309.1" font-size="7" stroke="#000" stroke-width="0.15" >332.0</text>
<text x="519" y="309.1" font-size="7" stroke="#000" stroke-width="0.15" >356.4</text>
<text x="543" y="309.1" font-size="7" stroke="#000" stroke-width="0.15" >N/A</text>
<text x="370" y="318.1" font-size="7" stroke="#000" stroke-width="0.15" >11.1</text>
<text x="395" y="318.1" font-size="7" stroke="#000" stroke-width="0.15" >25.9</text>
<text x="420" y="318.1" font-size="7" stroke="#000" stroke-width="0.15" >41.2</text>
<text x="445" y="318.1" font-size="7" stroke="#000" stroke-width="0.15" >46.9</text>
<text x="470" y="318.1" font-size="7" stroke="#000" stroke-width="0.15" >124.9</text>
<text x="494" y="318.1" font-size="7" stroke="#000" stroke-width="0.15" >137.5</text>
<text x="519" y="318.1" font-size="7" stroke="#000" stroke-width="0.15" >151.8</text>
<text x="543" y="318.1" font-size="7" stroke="#000" stroke-width="0.15" >172.5</text>
<text x="370" y="326.1" font-size="7" stroke="#000" stroke-width="0.15" >190.9</text>
<text x="395" y="326.1" font-size="7" stroke="#000" stroke-width="0.15" >205.6</text>
<text x="420" y="326.1" font-size="7" stroke="#000" stroke-width="0.15" >219.2</text>
<text x="445" y="326.1" font-size="7" stroke="#000" stroke-width="0.15" >225.8</text>
<text x="470" y="326.1" font-size="7" stroke="#000" stroke-width="0.15" >312.4</text>
<text x="494" y="326.1" font-size="7" stroke="#000" stroke-width="0.15" >319.2</text>
<text x="519" y="326.1" font-size="7" stroke="#000" stroke-width="0.15" >332.9</text>
<text x="543" y="326.1" font-size="7" stroke="#000" stroke-width="0.15" >354.4</text>
<text x="296.5" y="292.1" font-size="7" stroke="#000" stroke-width="0.15" >Star azimuth</text>
<text x="296.5" y="304" font-size="7" stroke="#000" stroke-width="0.15" >Upper girdle azimuth</text>
<text x="296.5" y="321" font-size="7" stroke="#000" stroke-width="0.15" >Lower girdle azimuth</text>
<rect x="293" y="551" width="273" height="1" fill="#000"/>
<rect x="293" y="327" width="1" height="225" fill="#000"/>
<rect x="565" y="327" width="1" height="225" fill="#000"/>
<text x="429.5" y="337" font-size="7" font-weight="bold" text-anchor="middle" stroke="#000" stroke-width="0.12" >Facets angles</text>
<path d="M362.5,345.4 A113.54,113.54 0 0,1 362.5,529.4 A113.54,113.54 0 0,1 362.5,345.4 Z" fill="none" stroke="#000" stroke-width="1"/>
<line x1="363.7" y1="345.4" x2="362.5" y2="430" stroke="#000" stroke-width="0.8" />
<line x1="362.5" y1="445" x2="363.2" y2="529.5" stroke="#999" stroke-width="1" />
<line x1="350" y1="357.9" x2="362.3" y2="433.5" stroke="#000" stroke-width="0.8" />
<line x1="374.7" y1="357.9" x2="362.3" y2="433.5" stroke="#000" stroke-width="0.8" />
<line x1="337.1" y1="374.4" x2="362.3" y2="433.5" stroke="#000" stroke-width="0.8" />
<line x1="388.5" y1="374.4" x2="362.3" y2="433.5" stroke="#000" stroke-width="0.8" />
<line x1="319.7" y1="408.3" x2="362.3" y2="433.5" stroke="#000" stroke-width="0.8" />
<line x1="403.1" y1="406.5" x2="362.3" y2="433.5" stroke="#000" stroke-width="0.8" />
<line x1="315.4" y1="437.2" x2="362.3" y2="433.5" stroke="#000" stroke-width="0.8" />
<line x1="409.4" y1="435.6" x2="362.3" y2="433.5" stroke="#000" stroke-width="0.8" />
<line x1="338.6" y1="375.9" x2="361.055" y2="428" stroke="#000" stroke-width="0.7" />
<line x1="390.0" y1="375.9" x2="363.625" y2="428" stroke="#000" stroke-width="0.7" />
<line x1="320.7" y1="467.1" x2="362.3" y2="441" stroke="#000" stroke-width="0.8" />
<line x1="334.4" y1="495.6" x2="362.3" y2="441" stroke="#000" stroke-width="0.8" />
<line x1="350.9" y1="516.6" x2="362.3" y2="441" stroke="#000" stroke-width="0.8" />
<line x1="374.7" y1="516.6" x2="362.3" y2="441" stroke="#000" stroke-width="0.8" />
<line x1="388.5" y1="500.1" x2="362.3" y2="441" stroke="#000" stroke-width="0.8" />
<line x1="405.9" y1="467.1" x2="362.3" y2="441" stroke="#000" stroke-width="0.8" />
<line x1="335.7" y1="494.1" x2="362.3" y2="446" stroke="#000" stroke-width="0.7" />
<line x1="389.8" y1="498.6" x2="362.3" y2="446" stroke="#000" stroke-width="0.7" />
<line x1="351.8" y1="437.1" x2="371.5" y2="437.1" stroke="#00f" stroke-width="1.3" />
<line x1="362.3" y1="427.5" x2="362.3" y2="447.5" stroke="#00f" stroke-width="1.3" />
<circle cx="362.3" cy="437.1" r="1.6" fill="#00f"/>
<text x="328.9" y="354.0" font-size="4.6" fill="#f00" stroke="#f00" stroke-width="0.1" text-anchor="middle" font-weight="bold">38.68°</text>
<line x1="321.5" y1="355.0" x2="336.3" y2="355.0" stroke="#00f" stroke-width="1"/>
<text x="397.6" y="354.0" font-size="4.5" fill="#00f" stroke="#00f" stroke-width="0.12" text-anchor="middle">37.11°</text>
<text x="359.1" y="380.1" font-size="4.6" fill="#f00" stroke="#f00" stroke-width="0.1" text-anchor="middle" font-weight="bold">36.81°</text>
<line x1="351.7" y1="381.1" x2="366.5" y2="381.1" stroke="#00f" stroke-width="1"/>
<text x="377" y="379.6" font-size="4.5" fill="#00f" stroke="#00f" stroke-width="0.12" text-anchor="middle">.89°</text>
<text x="350" y="387.0" font-size="4.5" fill="#00f" stroke="#00f" stroke-width="0.12" text-anchor="middle">34.11°</text>
<text x="375" y="388.3" font-size="4.5" fill="#00f" stroke="#00f" stroke-width="0.12" text-anchor="middle">34.92°</text>
<text x="338" y="407.1" font-size="4.5" fill="#00f" stroke="#00f" stroke-width="0.12" text-anchor="middle">39.43°</text>
<text x="386.6" y="407.1" font-size="4.5" fill="#00f" stroke="#00f" stroke-width="0.12" text-anchor="middle">39.55°</text>
<text x="330.7" y="429.1" font-size="4.5" fill="#00f" stroke="#00f" stroke-width="0.12" text-anchor="middle">41.90°</text>
<text x="306.9" y="440.3" font-size="4.5" fill="#00f" stroke="#00f" stroke-width="0.12" text-anchor="middle">41.29°</text>
<text x="330.7" y="450.40000000000003" font-size="4.5" fill="#00f" stroke="#00f" stroke-width="0.12" text-anchor="middle">42.15°</text>
<text x="394" y="449.5" font-size="4.5" fill="#00f" stroke="#00f" stroke-width="0.12" text-anchor="middle">42.17°</text>
<text x="337.1" y="470.0" font-size="4.5" fill="#00f" stroke="#00f" stroke-width="0.12" text-anchor="middle">39.88°</text>
<text x="387.5" y="473.3" font-size="4.5" fill="#00f" stroke="#00f" stroke-width="0.12" text-anchor="middle">38.72°</text>
<text x="349" y="486.20000000000005" font-size="4.5" fill="#00f" stroke="#00f" stroke-width="0.12" text-anchor="middle">35.49°</text>
<text x="374.7" y="488.90000000000003" font-size="4.5" fill="#00f" stroke="#00f" stroke-width="0.12" text-anchor="middle">34.13°</text>
<text x="362.8" y="497.70000000000005" font-size="4.5" fill="#00f" stroke="#00f" stroke-width="0.12" text-anchor="middle">33.C31.86°</text>
<text x="323.4" y="518.2" font-size="4.5" fill="#00f" stroke="#00f" stroke-width="0.12" text-anchor="middle">36.98°</text>
<text x="398.5" y="522.8000000000001" font-size="4.5" fill="#00f" stroke="#00f" stroke-width="0.12" text-anchor="middle">36.05°</text>
<text x="393" y="426.40000000000003" font-size="4.6" fill="#0d0" stroke="#0d0" stroke-width="0.1" text-anchor="middle" font-weight="bold">42.52°</text>
<line x1="385.6" y1="422.0" x2="400.4" y2="422.0" stroke="#00f" stroke-width="1"/>
<text x="416.9" y="438.5" font-size="4.6" fill="#0d0" stroke="#0d0" stroke-width="0.1" text-anchor="middle" font-weight="bold">41.63°</text>
<line x1="409.5" y1="434.1" x2="424.3" y2="434.1" stroke="#00f" stroke-width="1"/>
<text x="353.6" y="417.20000000000005" font-size="4.6" fill="#000" stroke="#000" stroke-width="0.12" text-anchor="middle">W</text>
<text x="370.5" y="419.40000000000003" font-size="4.6" fill="#000" stroke="#000" stroke-width="0.12" text-anchor="middle">W</text>
<text x="349.6" y="462.3" font-size="4.6" fill="#000" stroke="#000" stroke-width="0.12" text-anchor="middle">W</text>
<text x="372" y="460.5" font-size="4.6" fill="#000" stroke="#000" stroke-width="0.12" text-anchor="middle">W</text>
<text x="347.2" y="439.1" font-size="4.6" fill="#000" stroke="#000" stroke-width="0.12" text-anchor="middle">C</text>
<text x="377.5" y="439.1" font-size="4.6" fill="#000" stroke="#000" stroke-width="0.12" text-anchor="middle">C</text>
<path d="M313.2,465 L316.6,465 L314.9,467.8 Z" fill="none" stroke="#000" stroke-width="0.8"/>
<polyline points="496.3,344.5 487.8,356.0" fill="none" stroke="#000" stroke-width="0.8" />
<polyline points="487.8,356.0 497.8,383.0" fill="none" stroke="#000" stroke-width="0.8" />
<polyline points="497.8,383.0 465.1,410.0" fill="none" stroke="#000" stroke-width="0.8" />
<polyline points="487.8,356.0 483.0,398.0 474.5,433.0" fill="none" stroke="#000" stroke-width="0.8" />
<polyline points="484.3,368.3 469.7,380.0 465.1,410.0" fill="none" stroke="#000" stroke-width="0.8" />
<polyline points="465.1,410.0 452.3,435.0" fill="none" stroke="#000" stroke-width="0.8" />
<polyline points="465.1,410.0 474.5,433.0" fill="none" stroke="#000" stroke-width="0.8" />
<polyline points="483.3,356.0 466.3,376.0 455.5,403.0 452.3,435.0" fill="none" stroke="#000" stroke-width="0.8" />
<polyline points="465.1,410.0 456.0,405.0" fill="none" stroke="#000" stroke-width="0.8" />
<polyline points="474.5,433.0 474.5,439.0" fill="none" stroke="#000" stroke-width="0.8" />
<polyline points="496.3,527.5 487.8,516.0" fill="none" stroke="#000" stroke-width="0.8" />
<polyline points="487.8,516.0 497.8,489.0" fill="none" stroke="#000" stroke-width="0.8" />
<polyline points="497.8,489.0 465.1,462.0" fill="none" stroke="#000" stroke-width="0.8" />
<polyline points="487.8,516.0 483.0,474.0 474.5,439.0" fill="none" stroke="#000" stroke-width="0.8" />
<polyline points="484.3,503.7 469.7,492.0 465.1,462.0" fill="none" stroke="#000" stroke-width="0.8" />
<polyline points="465.1,462.0 452.3,437.0" fill="none" stroke="#000" stroke-width="0.8" />
<polyline points="465.1,462.0 474.5,439.0" fill="none" stroke="#000" stroke-width="0.8" />
<polyline points="483.3,516.0 466.3,496.0 455.5,469.0 452.3,437.0" fill="none" stroke="#000" stroke-width="0.8" />
<polyline points="465.1,462.0 456.0,467.0" fill="none" stroke="#000" stroke-width="0.8" />
<polyline points="474.5,439.0 474.5,433.0" fill="none" stroke="#000" stroke-width="0.8" />
<polyline points="496.3,344.5 504.8,356.0" fill="none" stroke="#000" stroke-width="0.8" />
<polyline points="504.8,356.0 494.8,383.0" fill="none" stroke="#000" stroke-width="0.8" />
<polyline points="494.8,383.0 527.5,410.0" fill="none" stroke="#000" stroke-width="0.8" />
<polyline points="504.8,356.0 509.6,398.0 518.1,433.0" fill="none" stroke="#000" stroke-width="0.8" />
<polyline points="508.3,368.3 522.9,380.0 527.5,410.0" fill="none" stroke="#000" stroke-width="0.8" />
<polyline points="527.5,410.0 540.3,435.0" fill="none" stroke="#000" stroke-width="0.8" />
<polyline points="527.5,410.0 518.1,433.0" fill="none" stroke="#000" stroke-width="0.8" />
<polyline points="509.3,356.0 526.3,376.0 537.1,403.0 540.3,435.0" fill="none" stroke="#000" stroke-width="0.8" />
<polyline points="527.5,410.0 536.6,405.0" fill="none" stroke="#000" stroke-width="0.8" />
<polyline points="518.1,433.0 518.1,439.0" fill="none" stroke="#000" stroke-width="0.8" />
<polyline points="496.3,527.5 504.8,516.0" fill="none" stroke="#000" stroke-width="0.8" />
<polyline points="504.8,516.0 494.8,489.0" fill="none" stroke="#000" stroke-width="0.8" />
<polyline points="494.8,489.0 527.5,462.0" fill="none" stroke="#000" stroke-width="0.8" />
<polyline points="504.8,516.0 509.6,474.0 518.1,439.0" fill="none" stroke="#000" stroke-width="0.8" />
<polyline points="508.3,503.7 522.9,492.0 527.5,462.0" fill="none" stroke="#000" stroke-width="0.8" />
<polyline points="527.5,462.0 540.3,437.0" fill="none" stroke="#000" stroke-width="0.8" />
<polyline points="527.5,462.0 518.1,439.0" fill="none" stroke="#000" stroke-width="0.8" />
<polyline points="509.3,516.0 526.3,496.0 537.1,469.0 540.3,437.0" fill="none" stroke="#000" stroke-width="0.8" />
<polyline points="527.5,462.0 536.6,467.0" fill="none" stroke="#000" stroke-width="0.8" />
<polyline points="518.1,439.0 518.1,433.0" fill="none" stroke="#000" stroke-width="0.8" />
<path d="M496.3,345.0 A112.01,112.01 0 0,1 496.3,527.0 A112.01,112.01 0 0,1 496.3,345.0 Z" fill="none" stroke="#000" stroke-width="1"/>
<line x1="488" y1="427" x2="507" y2="445" stroke="#2a8a2a" stroke-width="1" />
<line x1="488" y1="445" x2="507" y2="427" stroke="#2a8a2a" stroke-width="1" />
<line x1="487" y1="435.8" x2="506" y2="435.8" stroke="#00f" stroke-width="1.2" />
<line x1="497.4" y1="426.8" x2="497.4" y2="445" stroke="#00f" stroke-width="1.2" />
<line x1="491" y1="437.3" x2="504" y2="437.3" stroke="#f00" stroke-width="1" />
<line x1="497.8" y1="431" x2="497.8" y2="444" stroke="#f00" stroke-width="1" />
<text x="498.2" y="343.90000000000003" font-size="4.6" fill="#f00" stroke="#f00" stroke-width="0.1" text-anchor="middle" font-weight="bold">29.77°</text>
<line x1="490.8" y1="344.9" x2="505.6" y2="344.9" stroke="#00f" stroke-width="1"/>
<text x="490.5" y="357.1" font-size="4.6" fill="#f00" stroke="#f00" stroke-width="0.1" text-anchor="middle" font-weight="bold">28.71°</text>
<line x1="483.1" y1="358.1" x2="497.9" y2="358.1" stroke="#00f" stroke-width="1"/>
<text x="504.2" y="357.1" font-size="4.5" fill="#00f" stroke="#00f" stroke-width="0.12" text-anchor="middle">48.04°</text>
<text x="535.4" y="359.0" font-size="4.6" fill="#0d0" stroke="#0d0" stroke-width="0.1" text-anchor="middle" font-weight="bold">27.37°</text>
<line x1="528.0" y1="354.6" x2="542.8" y2="354.6" stroke="#00f" stroke-width="1"/>
<text x="513.4" y="367.8" font-size="4.6" fill="#0d0" stroke="#0d0" stroke-width="0.1" text-anchor="middle" font-weight="bold">30.86°</text>
<line x1="506.0" y1="363.4" x2="520.8" y2="363.4" stroke="#00f" stroke-width="1"/>
<text x="491.4" y="384.20000000000005" font-size="4.6" fill="#f00" stroke="#f00" stroke-width="0.1" text-anchor="middle" font-weight="bold">20.96°</text>
<line x1="484.0" y1="385.2" x2="498.8" y2="385.2" stroke="#00f" stroke-width="1"/>
<text x="507" y="385.20000000000005" font-size="4.5" fill="#00f" stroke="#00f" stroke-width="0.12" text-anchor="middle">21.09°</text>
<text x="474" y="415.8" font-size="4.6" fill="#0d0" stroke="#0d0" stroke-width="0.1" text-anchor="middle" font-weight="bold">26.63°</text>
<line x1="466.6" y1="411.4" x2="481.4" y2="411.4" stroke="#00f" stroke-width="1"/>
<text x="463" y="354.0" font-size="4.5" fill="#00f" stroke="#00f" stroke-width="0.12" text-anchor="middle">35.37°</text>
<text x="482.2" y="366.8" font-size="4.5" fill="#00f" stroke="#00f" stroke-width="0.12" text-anchor="middle">40.52°</text>
<text x="463.9" y="398.90000000000003" font-size="4.5" fill="#00f" stroke="#00f" stroke-width="0.12" text-anchor="middle">42.06°</text>
<text x="531.7" y="399.8" font-size="4.5" fill="#00f" stroke="#00f" stroke-width="0.12" text-anchor="middle">42.00°</text>
<text x="457.5" y="419.1" font-size="4.5" fill="#00f" stroke="#00f" stroke-width="0.12" text-anchor="middle">43.98°</text>
<text x="523.5" y="420.90000000000003" font-size="4.5" fill="#00f" stroke="#00f" stroke-width="0.12" text-anchor="middle">25.47°</text>
<text x="539" y="420.90000000000003" font-size="4.5" fill="#00f" stroke="#00f" stroke-width="0.12" text-anchor="middle">46.74°</text>
<text x="442.8" y="436.70000000000005" font-size="4.5" fill="#00f" stroke="#00f" stroke-width="0.12" text-anchor="middle">34.96°</text>
<text x="550.9" y="439.8" font-size="4.5" fill="#00f" stroke="#00f" stroke-width="0.12" text-anchor="middle">35.65°</text>
<text x="456.6" y="455.90000000000003" font-size="4.5" fill="#00f" stroke="#00f" stroke-width="0.12" text-anchor="middle">43.17°</text>
<text x="473" y="458.1" font-size="4.5" fill="#00f" stroke="#00f" stroke-width="0.12" text-anchor="middle">21.34°</text>
<text x="522.5" y="458.1" font-size="4.5" fill="#00f" stroke="#00f" stroke-width="0.12" text-anchor="middle">25.79°</text>
<text x="538.1" y="455.0" font-size="4.5" fill="#00f" stroke="#00f" stroke-width="0.12" text-anchor="middle">46.20°</text>
<text x="462.6" y="478.8" font-size="4.5" fill="#00f" stroke="#00f" stroke-width="0.12" text-anchor="middle">41.50°</text>
<text x="531.7" y="475.20000000000005" font-size="4.5" fill="#00f" stroke="#00f" stroke-width="0.12" text-anchor="middle">42.51°</text>
<text x="488.6" y="489.8" font-size="4.5" fill="#00f" stroke="#00f" stroke-width="0.12" text-anchor="middle">21.88°</text>
<text x="504.2" y="488.90000000000003" font-size="4.5" fill="#00f" stroke="#00f" stroke-width="0.12" text-anchor="middle">22.40°</text>
<text x="512.5" y="506.90000000000003" font-size="4.5" fill="#00f" stroke="#00f" stroke-width="0.12" text-anchor="middle">43.75°</text>
<text x="485" y="511.8" font-size="4.5" fill="#00f" stroke="#00f" stroke-width="0.12" text-anchor="middle">40.22°</text>
<text x="502.4" y="517.3000000000001" font-size="4.5" fill="#00f" stroke="#00f" stroke-width="0.12" text-anchor="middle">40.73°</text>
<text x="460.2" y="520.1" font-size="4.5" fill="#00f" stroke="#00f" stroke-width="0.12" text-anchor="middle">33.90°</text>
<text x="533.5" y="517.3000000000001" font-size="4.5" fill="#00f" stroke="#00f" stroke-width="0.12" text-anchor="middle">35.09°</text>
<text x="496.9" y="532.0" font-size="4.5" fill="#00f" stroke="#00f" stroke-width="0.12" text-anchor="middle">21.57°</text>
<text x="497.8" y="365.6" font-size="4.6" fill="#000" stroke="#000" stroke-width="0.12" text-anchor="middle">P</text>
<text x="497.3" y="507.20000000000005" font-size="4.6" fill="#000" stroke="#000" stroke-width="0.12" text-anchor="middle">P</text>
<text x="477.6" y="388.8" font-size="4.6" fill="#000" stroke="#000" stroke-width="0.12" text-anchor="middle">W</text>
<text x="519.8" y="390.70000000000005" font-size="4.6" fill="#000" stroke="#000" stroke-width="0.12" text-anchor="middle">W</text>
<text x="476.2" y="485.6" font-size="4.6" fill="#000" stroke="#000" stroke-width="0.12" text-anchor="middle">W</text>
<text x="518.9" y="483.8" font-size="4.6" fill="#000" stroke="#000" stroke-width="0.12" text-anchor="middle">W</text>
<text x="463.5" y="437.1" font-size="4.6" fill="#000" stroke="#000" stroke-width="0.12" text-anchor="middle">C</text>
<text x="532.6" y="439.1" font-size="4.6" fill="#000" stroke="#000" stroke-width="0.12" text-anchor="middle">C</text>
<path d="M543,463 L546.4,463 L544.7,465.8 Z" fill="none" stroke="#000" stroke-width="0.8"/>
<line x1="312" y1="540.3" x2="325" y2="540.3" stroke="#00f" stroke-width="1.3" />
<line x1="318.5" y1="533.8" x2="318.5" y2="546.8" stroke="#00f" stroke-width="1.3" />
<text x="330" y="542.1" font-size="6.0" fill="#000" stroke="#000" stroke-width="0.1">Girdle center</text>
<line x1="396" y1="540.3" x2="409" y2="540.3" stroke="#f00" stroke-width="1.1" />
<line x1="402.5" y1="533.8" x2="402.5" y2="546.8" stroke="#f00" stroke-width="1.1" />
<text x="415" y="542.1" font-size="6.0" fill="#000" stroke="#000" stroke-width="0.1">Culet center</text>
<line x1="482.5" y1="533.8" x2="494.5" y2="546.6" stroke="#2a8a2a" stroke-width="1.1" />
<line x1="482.5" y1="546.6" x2="494.5" y2="533.8" stroke="#2a8a2a" stroke-width="1.1" />
<text x="499.6" y="542.1" font-size="6.0" fill="#000" stroke="#000" stroke-width="0.1">Table center</text>
<rect x="579" y="32" width="229" height="1" fill="#000"/>
<rect x="579" y="46" width="229" height="1" fill="#000"/>
<rect x="579" y="55" width="117" height="1" fill="#000"/>
<rect x="579" y="65" width="229" height="1" fill="#000"/>
<rect x="579" y="75" width="229" height="1" fill="#000"/>
<rect x="579" y="84" width="229" height="1" fill="#000"/>
<rect x="579" y="94" width="229" height="1" fill="#000"/>
<rect x="579" y="104" width="229" height="1" fill="#000"/>
<rect x="579" y="114" width="229" height="1" fill="#000"/>
<rect x="579" y="124" width="229" height="1" fill="#000"/>
<rect x="579" y="134" width="229" height="1" fill="#000"/>
<rect x="579" y="142" width="229" height="1" fill="#000"/>
<rect x="579" y="151" width="229" height="1" fill="#000"/>
<rect x="579" y="160" width="229" height="1" fill="#000"/>
<rect x="579" y="169" width="229" height="1" fill="#000"/>
<rect x="579" y="178" width="229" height="1" fill="#000"/>
<rect x="579" y="186" width="229" height="1" fill="#000"/>
<rect x="579" y="195" width="229" height="1" fill="#000"/>
<rect x="579" y="32" width="1" height="164" fill="#000"/>
<rect x="607" y="32" width="1" height="164" fill="#000"/>
<rect x="636" y="32" width="1" height="164" fill="#000"/>
<rect x="665" y="32" width="1" height="164" fill="#000"/>
<rect x="693" y="32" width="1" height="164" fill="#000"/>
<rect x="807" y="32" width="1" height="164" fill="#000"/>
<rect x="750" y="46" width="1" height="20" fill="#000"/>
<rect x="750" y="75" width="1" height="10" fill="#000"/>
<rect x="750" y="94" width="1" height="11" fill="#000"/>
<rect x="750" y="114" width="1" height="11" fill="#000"/>
<rect x="779" y="46" width="1" height="20" fill="#000"/>
<rect x="779" y="75" width="1" height="10" fill="#000"/>
<rect x="779" y="94" width="1" height="11" fill="#000"/>
<rect x="779" y="114" width="1" height="11" fill="#000"/>
<rect x="722" y="142" width="1" height="54" fill="#000"/>
<rect x="750" y="142" width="1" height="54" fill="#000"/>
<rect x="779" y="142" width="1" height="54" fill="#000"/>
<text x="582.5" y="42" font-size="8" font-weight="bold" stroke="#000" stroke-width="0.12" >1</text>
<text x="610.5" y="42" font-size="8" font-weight="bold" stroke="#000" stroke-width="0.12" >2</text>
<text x="639.5" y="42" font-size="8" font-weight="bold" stroke="#000" stroke-width="0.12" >3</text>
<text x="668.5" y="42" font-size="8" font-weight="bold" stroke="#000" stroke-width="0.12" >4</text>
<text x="751" y="42.2" font-size="7.83" font-weight="bold" text-anchor="middle" stroke="#000" stroke-width="0.12" >Offset by table axis</text>
<text x="721.5" y="58.2" font-size="5.75" font-weight="bold" text-anchor="middle" stroke="none" >Distance</text>
<text x="764.5" y="54" font-size="5.5" font-weight="bold" text-anchor="middle" stroke="none" >Width</text>
<text x="764.5" y="61" font-size="5.5" font-weight="bold" text-anchor="middle" stroke="none" >wise</text>
<text x="793.5" y="54" font-size="5.5" font-weight="bold" text-anchor="middle" stroke="none" >Length</text>
<text x="793.5" y="61" font-size="5.5" font-weight="bold" text-anchor="middle" stroke="none" >wise</text>
<text x="582" y="64.1" font-size="7" stroke="#000" stroke-width="0.15" >34.98</text>
<text x="610" y="64.1" font-size="7" stroke="#000" stroke-width="0.15" >35.65</text>
<text x="582" y="74.1" font-size="7" stroke="#000" stroke-width="0.15" >N/A</text>
<text x="610" y="74.1" font-size="7" stroke="#000" stroke-width="0.15" >N/A</text>
<text x="639" y="74.1" font-size="7" stroke="#000" stroke-width="0.15" >N/A</text>
<text x="582" y="83.1" font-size="7" stroke="#000" stroke-width="0.15" >20.77</text>
<text x="610" y="83.1" font-size="7" stroke="#000" stroke-width="0.15" >21.57</text>
<text x="582" y="93.1" font-size="7" stroke="#000" stroke-width="0.15" >35.27</text>
<text x="610" y="93.1" font-size="7" stroke="#000" stroke-width="0.15" >37.07</text>
<text x="639" y="93.1" font-size="7" stroke="#000" stroke-width="0.15" >35.09</text>
<text x="668" y="93.1" font-size="7" stroke="#000" stroke-width="0.15" >33.95</text>
<text x="582" y="103.1" font-size="7" stroke="#000" stroke-width="0.15" >41.63</text>
<text x="610" y="103.1" font-size="7" stroke="#000" stroke-width="0.15" >41.28</text>
<text x="639" y="103.1" font-size="7" stroke="#000" stroke-width="0.15" >N/A</text>
<text x="668" y="103.1" font-size="7" stroke="#000" stroke-width="0.15" >N/A</text>
<text x="582" y="113.1" font-size="7" stroke="#000" stroke-width="0.15" >N/A</text>
<text x="610" y="113.1" font-size="7" stroke="#000" stroke-width="0.15" >N/A</text>
<text x="639" y="113.1" font-size="7" stroke="#000" stroke-width="0.15" >N/A</text>
<text x="582" y="123.1" font-size="7" stroke="#000" stroke-width="0.15" >N/A</text>
<text x="610" y="123.1" font-size="7" stroke="#000" stroke-width="0.15" >N/A</text>
<text x="582" y="133.1" font-size="7" stroke="#000" stroke-width="0.15" >37.11</text>
<text x="610" y="133.1" font-size="7" stroke="#000" stroke-width="0.15" >35.58</text>
<text x="639" y="133.1" font-size="7" stroke="#000" stroke-width="0.15" >36.98</text>
<text x="668" y="133.1" font-size="7" stroke="#000" stroke-width="0.15" >36.05</text>
<text x="582" y="141.1" font-size="7" stroke="#000" stroke-width="0.15" >52.65</text>
<text x="639" y="141.1" font-size="7" stroke="#000" stroke-width="0.15" >56.20</text>
<text x="750.5" y="74.1" font-size="7" text-anchor="middle" stroke="#000" stroke-width="0.15" >Culet-Table, %</text>
<text x="750.5" y="93.1" font-size="7" text-anchor="middle" stroke="#000" stroke-width="0.15" >Girdle-Culet, %</text>
<text x="750.5" y="113.1" font-size="7" text-anchor="middle" stroke="#000" stroke-width="0.15" >Girdle-Table, %</text>
<text x="750.5" y="133.1" font-size="7" text-anchor="middle" stroke="#000" stroke-width="0.15" >Girdle to table-culet line offset</text>
<text x="750.5" y="141.1" font-size="7" text-anchor="middle" stroke="#000" stroke-width="0.15" >0.52 %, 0.015 mm</text>
<text x="722.8" y="83.1" font-size="7" text-anchor="middle" stroke="#000" stroke-width="0.15" >1.73 ± 0.43</text>
<text x="764.8" y="83.1" font-size="7" text-anchor="middle" stroke="#000" stroke-width="0.15" >0.73</text>
<text x="794" y="83.1" font-size="7" text-anchor="middle" stroke="#000" stroke-width="0.15" >1.57</text>
<text x="722.8" y="103.1" font-size="7" text-anchor="middle" stroke="#000" stroke-width="0.15" >0.71 ± 0.41</text>
<text x="764.8" y="103.1" font-size="7" text-anchor="middle" stroke="#000" stroke-width="0.15" >0.25</text>
<text x="794" y="103.1" font-size="7" text-anchor="middle" stroke="#000" stroke-width="0.15" >0.67</text>
<text x="722.8" y="123.1" font-size="7" text-anchor="middle" stroke="#000" stroke-width="0.15" >1.02 ± 0.39</text>
<text x="764.8" y="123.1" font-size="7" text-anchor="middle" stroke="#000" stroke-width="0.15" >0.48</text>
<text x="794" y="123.1" font-size="7" text-anchor="middle" stroke="#000" stroke-width="0.15" >0.90</text>
<text x="582" y="149.5" font-size="7" font-weight="bold" stroke="#000" stroke-width="0.12" >1</text>
<text x="610" y="149.5" font-size="7" font-weight="bold" stroke="#000" stroke-width="0.12" >2</text>
<text x="639" y="149.5" font-size="7" font-weight="bold" stroke="#000" stroke-width="0.12" >3</text>
<text x="668" y="149.5" font-size="7" font-weight="bold" stroke="#000" stroke-width="0.12" >4</text>
<text x="696" y="149.5" font-size="7" font-weight="bold" stroke="#000" stroke-width="0.12" >5</text>
<text x="725" y="149.5" font-size="7" font-weight="bold" stroke="#000" stroke-width="0.12" >6</text>
<text x="753" y="149.5" font-size="7" font-weight="bold" stroke="#000" stroke-width="0.12" >7</text>
<text x="782" y="149.5" font-size="7" font-weight="bold" stroke="#000" stroke-width="0.12" >8</text>
<text x="582" y="159.1" font-size="7" stroke="#000" stroke-width="0.15" >4.17</text>
<text x="610" y="159.1" font-size="7" stroke="#000" stroke-width="0.15" >4.33</text>
<text x="639" y="159.1" font-size="7" stroke="#000" stroke-width="0.15" >2.88</text>
<text x="668" y="159.1" font-size="7" stroke="#000" stroke-width="0.15" >4.60</text>
<text x="696" y="159.1" font-size="7" stroke="#000" stroke-width="0.15" >4.43</text>
<text x="725" y="159.1" font-size="7" stroke="#000" stroke-width="0.15" >4.38</text>
<text x="753" y="159.1" font-size="7" stroke="#000" stroke-width="0.15" >2.93</text>
<text x="782" y="159.1" font-size="7" stroke="#000" stroke-width="0.15" >3.71</text>
<text x="582" y="168.1" font-size="7" stroke="#000" stroke-width="0.15" >4.28</text>
<text x="610" y="168.1" font-size="7" stroke="#000" stroke-width="0.15" >2.97</text>
<text x="639" y="168.1" font-size="7" stroke="#000" stroke-width="0.15" >3.43</text>
<text x="668" y="168.1" font-size="7" stroke="#000" stroke-width="0.15" >5.33</text>
<text x="696" y="168.1" font-size="7" stroke="#000" stroke-width="0.15" >4.51</text>
<text x="725" y="168.1" font-size="7" stroke="#000" stroke-width="0.15" >3.08</text>
<text x="753" y="168.1" font-size="7" stroke="#000" stroke-width="0.15" >2.63</text>
<text x="782" y="168.1" font-size="7" stroke="#000" stroke-width="0.15" >5.39</text>
<text x="582" y="177.1" font-size="7" stroke="#000" stroke-width="0.15" >2.50</text>
<text x="610" y="177.1" font-size="7" stroke="#000" stroke-width="0.15" >3.20</text>
<text x="639" y="177.1" font-size="7" stroke="#000" stroke-width="0.15" >2.63</text>
<text x="668" y="177.1" font-size="7" stroke="#000" stroke-width="0.15" >2.78</text>
<text x="696" y="177.1" font-size="7" stroke="#000" stroke-width="0.15" >2.65</text>
<text x="725" y="177.1" font-size="7" stroke="#000" stroke-width="0.15" >3.11</text>
<text x="753" y="177.1" font-size="7" stroke="#000" stroke-width="0.15" >2.29</text>
<text x="782" y="177.1" font-size="7" stroke="#000" stroke-width="0.15" >2.33</text>
<text x="582" y="185.1" font-size="7" stroke="#000" stroke-width="0.15" >2.60</text>
<text x="610" y="185.1" font-size="7" stroke="#000" stroke-width="0.15" >2.77</text>
<text x="639" y="185.1" font-size="7" stroke="#000" stroke-width="0.15" >2.88</text>
<text x="668" y="185.1" font-size="7" stroke="#000" stroke-width="0.15" >2.18</text>
<text x="696" y="185.1" font-size="7" stroke="#000" stroke-width="0.15" >2.10</text>
<text x="725" y="185.1" font-size="7" stroke="#000" stroke-width="0.15" >2.61</text>
<text x="753" y="185.1" font-size="7" stroke="#000" stroke-width="0.15" >1.81</text>
<text x="782" y="185.1" font-size="7" stroke="#000" stroke-width="0.15" >1.66</text>
<text x="582" y="194.1" font-size="7" stroke="#000" stroke-width="0.15" >3.93</text>
<text x="610" y="194.1" font-size="7" stroke="#000" stroke-width="0.15" >2.00</text>
<text x="639" y="194.1" font-size="7" stroke="#000" stroke-width="0.15" >8.62</text>
<text x="668" y="194.1" font-size="7" stroke="#000" stroke-width="0.15" >0.12</text>
<text x="696" y="194.1" font-size="7" stroke="#000" stroke-width="0.15" >1.38</text>
<text x="725" y="194.1" font-size="7" stroke="#000" stroke-width="0.15" >1.01</text>
<text x="753" y="194.1" font-size="7" stroke="#000" stroke-width="0.15" >N/A</text>
<text x="782" y="194.1" font-size="7" stroke="#000" stroke-width="0.15" >N/A</text>
<rect x="579" y="195" width="1" height="357" fill="#000"/>
<rect x="807" y="195" width="1" height="357" fill="#000"/>
<rect x="579" y="327" width="229" height="1" fill="#000"/>
<rect x="579" y="551" width="229" height="1" fill="#000"/>
<text x="618.4" y="203.2" font-size="6.9" fill="#000" stroke="#000" stroke-width="0.1" text-anchor="middle" font-weight="bold">Actual Length axis</text>
<text x="618.4" y="211.1" font-size="6.9" fill="#000" stroke="#000" stroke-width="0.1" text-anchor="middle" font-weight="bold">asymmetry</text>
<text x="693.7" y="203.2" font-size="6.9" fill="#000" stroke="#000" stroke-width="0.1" text-anchor="middle" font-weight="bold">Actual Width axis</text>
<text x="693.7" y="211.1" font-size="6.9" fill="#000" stroke="#000" stroke-width="0.1" text-anchor="middle" font-weight="bold">asymmetry</text>
<text x="770" y="203.2" font-size="6.9" fill="#000" stroke="#000" stroke-width="0.1" text-anchor="middle" font-weight="bold">Both axes symmetry</text>
<text x="770" y="211.1" font-size="6.9" fill="#000" stroke="#000" stroke-width="0.1" text-anchor="middle" font-weight="bold">correction</text>
<line x1="614.0" y1="236.5" x2="618.5" y2="265.5" stroke="#222" stroke-width="0.9"/>
<line x1="623.0" y1="236.5" x2="618.5" y2="265.5" stroke="#222" stroke-width="0.9"/>
<line x1="609.3" y1="242.5" x2="618.5" y2="265.5" stroke="#222" stroke-width="0.9"/>
<line x1="628.0" y1="242.5" x2="618.5" y2="265.5" stroke="#222" stroke-width="0.9"/>
<line x1="603.0" y1="254.9" x2="618.5" y2="265.5" stroke="#222" stroke-width="0.9"/>
<line x1="633.3" y1="254.3" x2="618.5" y2="265.5" stroke="#222" stroke-width="0.9"/>
<line x1="601.4" y1="265.5" x2="618.5" y2="265.5" stroke="#222" stroke-width="0.9"/>
<line x1="635.6" y1="264.9" x2="618.5" y2="265.5" stroke="#222" stroke-width="0.9"/>
<line x1="603.4" y1="276.5" x2="618.5" y2="265.5" stroke="#222" stroke-width="0.9"/>
<line x1="608.3" y1="286.9" x2="618.5" y2="265.5" stroke="#222" stroke-width="0.9"/>
<line x1="614.4" y1="294.6" x2="618.5" y2="265.5" stroke="#222" stroke-width="0.9"/>
<line x1="623.0" y1="294.6" x2="618.5" y2="265.5" stroke="#222" stroke-width="0.9"/>
<line x1="628.0" y1="288.5" x2="618.5" y2="265.5" stroke="#222" stroke-width="0.9"/>
<line x1="634.4" y1="276.5" x2="618.5" y2="265.5" stroke="#222" stroke-width="0.9"/>
<line x1="619.0" y1="231.9" x2="618.5" y2="265.5" stroke="#222" stroke-width="0.9"/>
<line x1="618.8" y1="299.3" x2="618.5" y2="265.5" stroke="#222" stroke-width="0.9"/>
<path d="M618.5,231.8 A41.76,41.76 0 0,0 618.5,299.2" fill="none" stroke="#00f" stroke-width="1"/>
<path d="M618.5,231.8 A41.76,41.76 0 0,1 618.5,299.2" fill="none" stroke="#f00" stroke-width="1"/>
<path d="M618.5,218.20000000000002 A57.68,57.68 0 0,0 618.5,311.8" fill="none" stroke="#00f" stroke-width="1"/>
<path d="M618.5,218.20000000000002 A60.43,60.43 0 0,0 618.5,311.8" fill="none" stroke="#f00" stroke-width="0.9"/>
<line x1="618.5" y1="218.4" x2="618.5" y2="312.6" stroke="#080" stroke-width="1" stroke-dasharray="3,1.5"/>
<text x="618.5" y="231.0" font-size="2.6" fill="#000" stroke="#000" stroke-width="0.06" text-anchor="middle">90°</text>
<text x="618.5" y="301.8" font-size="2.6" fill="#000" stroke="#000" stroke-width="0.06" text-anchor="middle">270°</text>
<text x="600.8" y="266.4" font-size="2.6" fill="#000" stroke="#000" stroke-width="0.06" text-anchor="end">180°</text>
<text x="636.2" y="266.4" font-size="2.6" fill="#000" stroke="#000" stroke-width="0.06">0°</text>
<path d="M599.6,276 L602.4,276 L601,278.3 Z" fill="#000"/>
<line x1="689.3" y1="237.6" x2="693.7" y2="266.0" stroke="#222" stroke-width="0.9"/>
<line x1="698.2" y1="237.6" x2="693.7" y2="266.0" stroke="#222" stroke-width="0.9"/>
<line x1="684.6" y1="243.5" x2="693.7" y2="266.0" stroke="#222" stroke-width="0.9"/>
<line x1="703.1" y1="243.5" x2="693.7" y2="266.0" stroke="#222" stroke-width="0.9"/>
<line x1="678.4" y1="255.6" x2="693.7" y2="266.0" stroke="#222" stroke-width="0.9"/>
<line x1="708.4" y1="255.0" x2="693.7" y2="266.0" stroke="#222" stroke-width="0.9"/>
<line x1="676.8" y1="266.0" x2="693.7" y2="266.0" stroke="#222" stroke-width="0.9"/>
<line x1="710.6" y1="265.4" x2="693.7" y2="266.0" stroke="#222" stroke-width="0.9"/>
<line x1="678.7" y1="276.7" x2="693.7" y2="266.0" stroke="#222" stroke-width="0.9"/>
<line x1="683.7" y1="286.9" x2="693.7" y2="266.0" stroke="#222" stroke-width="0.9"/>
<line x1="689.6" y1="294.5" x2="693.7" y2="266.0" stroke="#222" stroke-width="0.9"/>
<line x1="698.2" y1="294.5" x2="693.7" y2="266.0" stroke="#222" stroke-width="0.9"/>
<line x1="703.1" y1="288.6" x2="693.7" y2="266.0" stroke="#222" stroke-width="0.9"/>
<line x1="709.4" y1="276.7" x2="693.7" y2="266.0" stroke="#222" stroke-width="0.9"/>
<line x1="694.2" y1="233.1" x2="693.7" y2="266.0" stroke="#222" stroke-width="0.9"/>
<line x1="694.0" y1="299.1" x2="693.7" y2="266.0" stroke="#222" stroke-width="0.9"/>
<path d="M676.8000000000001,266 A40.67,40.67 0 0,1 693.7,233 A40.67,40.67 0 0,1 710.6,266" fill="none" stroke="#00f" stroke-width="1"/>
<path d="M710.6,266 A40.67,40.67 0 0,1 693.7,299 A40.67,40.67 0 0,1 676.8000000000001,266" fill="none" stroke="#f00" stroke-width="1"/>
<path d="M669.7,265.2 A61.01,61.01 0 0,1 693.7,217.5 A61.01,61.01 0 0,1 717.7,265.2" fill="none" stroke="#00f" stroke-width="1"/>
<path d="M693.7,217.5 A60.01,60.01 0 0,1 717.1,265.2" fill="none" stroke="#f00" stroke-width="0.9"/>
<line x1="669.7" y1="265.2" x2="717.7" y2="265.2" stroke="#080" stroke-width="1.1" />
<text x="693.7" y="232.2" font-size="2.6" fill="#000" stroke="#000" stroke-width="0.06" text-anchor="middle">90°</text>
<text x="693.7" y="301.6" font-size="2.6" fill="#000" stroke="#000" stroke-width="0.06" text-anchor="middle">270°</text>
<text x="676.2" y="266.9" font-size="2.6" fill="#000" stroke="#000" stroke-width="0.06" text-anchor="end">180°</text>
<text x="711.2" y="266.9" font-size="2.6" fill="#000" stroke="#000" stroke-width="0.06">0°</text>
<path d="M674.6,276.5 L677.4,276.5 L676,278.8 Z" fill="#000"/>
<line x1="765.2" y1="236.6" x2="770.0" y2="265.5" stroke="#222" stroke-width="0.9"/>
<line x1="774.8" y1="236.6" x2="770.0" y2="265.5" stroke="#222" stroke-width="0.9"/>
<line x1="760.2" y1="242.6" x2="770.0" y2="265.5" stroke="#222" stroke-width="0.9"/>
<line x1="780.1" y1="242.6" x2="770.0" y2="265.5" stroke="#222" stroke-width="0.9"/>
<line x1="753.5" y1="255.0" x2="770.0" y2="265.5" stroke="#222" stroke-width="0.9"/>
<line x1="785.8" y1="254.3" x2="770.0" y2="265.5" stroke="#222" stroke-width="0.9"/>
<line x1="751.8" y1="265.5" x2="770.0" y2="265.5" stroke="#222" stroke-width="0.9"/>
<line x1="788.2" y1="264.9" x2="770.0" y2="265.5" stroke="#222" stroke-width="0.9"/>
<line x1="753.9" y1="276.4" x2="770.0" y2="265.5" stroke="#222" stroke-width="0.9"/>
<line x1="759.2" y1="286.8" x2="770.0" y2="265.5" stroke="#222" stroke-width="0.9"/>
<line x1="765.6" y1="294.4" x2="770.0" y2="265.5" stroke="#222" stroke-width="0.9"/>
<line x1="774.8" y1="294.4" x2="770.0" y2="265.5" stroke="#222" stroke-width="0.9"/>
<line x1="780.1" y1="288.4" x2="770.0" y2="265.5" stroke="#222" stroke-width="0.9"/>
<line x1="786.9" y1="276.4" x2="770.0" y2="265.5" stroke="#222" stroke-width="0.9"/>
<line x1="770.5" y1="232.1" x2="770.0" y2="265.5" stroke="#222" stroke-width="0.9"/>
<line x1="770.3" y1="299.1" x2="770.0" y2="265.5" stroke="#222" stroke-width="0.9"/>
<path d="M770,232.0 A39.93,39.93 0 0,1 770,299.0 A39.93,39.93 0 0,1 770,232.0 Z" fill="none" stroke="#00f" stroke-width="1"/>
<path d="M770,217.7 A58.05,58.05 0 0,1 770,312.3 A58.05,58.05 0 0,1 770,217.7 Z" fill="none" stroke="#00f" stroke-width="1"/>
<path d="M770,217.7 A56.05,56.05 0 0,1 770,312.3" fill="none" stroke="#f00" stroke-width="0.7"/>
<line x1="769.2" y1="219.2" x2="770.8" y2="311.8" stroke="#080" stroke-width="1" stroke-dasharray="3,1,1,1"/>
<text x="770" y="231.2" font-size="2.6" fill="#000" stroke="#000" stroke-width="0.06" text-anchor="middle">90°</text>
<text x="770" y="301.6" font-size="2.6" fill="#000" stroke="#000" stroke-width="0.06" text-anchor="middle">270°</text>
<text x="751.1999999999999" y="266.4" font-size="2.6" fill="#000" stroke="#000" stroke-width="0.06" text-anchor="end">180°</text>
<text x="788.8000000000001" y="266.4" font-size="2.6" fill="#000" stroke="#000" stroke-width="0.06">0°</text>
<path d="M750.6,276 L753.4,276 L752,278.3 Z" fill="#000"/>
<text x="655.6" y="313.4" font-size="4.0" fill="#000" stroke="#000" stroke-width="0.06" text-anchor="end" font-weight="bold">area loss = 3.39%</text>
<text x="655.6" y="317.7" font-size="4.0" fill="#000" stroke="#000" stroke-width="0.06" text-anchor="end" font-weight="bold">mass loss = 0.67%</text>
<text x="655.6" y="322.4" font-size="4.0" fill="#000" stroke="#000" stroke-width="0.06" text-anchor="end" font-weight="bold">mass loss = 0.0011ct</text>
<text x="729" y="313.4" font-size="4.0" fill="#000" stroke="#000" stroke-width="0.06" text-anchor="end" font-weight="bold">area loss = 3.00%</text>
<text x="729" y="317.7" font-size="4.0" fill="#000" stroke="#000" stroke-width="0.06" text-anchor="end" font-weight="bold">mass loss = 0.30%</text>
<text x="729" y="322.4" font-size="4.0" fill="#000" stroke="#000" stroke-width="0.06" text-anchor="end" font-weight="bold">mass loss = 0.0005ct</text>
<text x="805" y="313.4" font-size="4.0" fill="#000" stroke="#000" stroke-width="0.06" text-anchor="end" font-weight="bold">area loss = 3.40%</text>
<text x="805" y="317.7" font-size="4.0" fill="#000" stroke="#000" stroke-width="0.06" text-anchor="end" font-weight="bold">mass loss = 0.33%</text>
<text x="805" y="322.4" font-size="4.0" fill="#000" stroke="#000" stroke-width="0.06" text-anchor="end" font-weight="bold">mass loss = 0.0005ct</text>
<text x="592" y="334.1" font-size="3.35" fill="#000" stroke="#000" stroke-width="0.06" font-weight="bold">Girdle asymmetry, %</text>
<text x="796.8" y="334.1" font-size="3.35" fill="#000" stroke="#000" stroke-width="0.06" text-anchor="end" font-weight="bold">Girdle asymmetry, mm</text>
<line x1="605.5" y1="349.5" x2="778.5" y2="349.5" stroke="#000" stroke-width="1.1" />
<path d="M605.5,349.5 L648.8,349.5 L648.8,349.5 L649.1,349.0 L649.6,348.4 L650.2,347.6 L650.8,346.7 L651.5,345.8 L652.2,345.0 L652.9,344.2 L653.6,343.5 L654.2,342.9 L654.9,342.4 L655.6,341.9 L656.3,341.5 L657.1,341.1 L657.8,340.7 L658.6,340.3 L659.3,340.0 L660.1,339.7 L660.8,339.4 L661.6,339.2 L662.4,339.0 L663.1,338.8 L663.9,338.7 L664.7,338.6 L665.6,338.5 L666.4,338.5 L667.2,338.6 L668.1,338.7 L669.0,338.9 L669.9,339.1 L670.8,339.2 L671.8,339.4 L672.8,339.5 L673.9,339.6 L675.0,339.6 L676.2,339.7 L677.4,339.7 L678.7,339.7 L679.9,339.8 L681.2,339.9 L682.4,340.0 L683.6,340.2 L684.8,340.4 L686.0,340.6 L687.2,340.8 L688.4,341.1 L689.6,341.4 L690.8,341.7 L692.0,342.0 L693.2,342.3 L694.4,342.7 L695.6,343.0 L696.8,343.4 L698.0,343.8 L699.2,344.2 L700.4,344.6 L701.6,345.0 L702.8,345.4 L704.1,345.9 L705.3,346.4 L706.6,346.9 L707.8,347.3 L709.0,347.8 L710.1,348.2 L711.2,348.5 L712.2,348.8 L713.2,349.0 L714.1,349.1 L715.0,349.2 L715.8,349.3 L716.7,349.4 L717.5,349.5 L718.4,349.5 L719.3,349.5 L720.2,349.5 L721.0,349.5 L721.9,349.4 L722.8,349.3 L723.7,349.3 L724.6,349.2 L725.6,349.2 L726.8,349.2 L728.1,349.2 L729.5,349.3 L730.9,349.3 L732.2,349.4 L733.5,349.4 L734.5,349.5 L735.2,349.5 L778.5,349.5" fill="none" stroke="#080" stroke-width="0.9"/>
<path d="M648.8,349.5 L648.7,350.5 L648.7,352.1 L648.6,353.9 L648.6,355.8 L648.6,357.7 L648.7,359.4 L648.9,360.7 L649.2,361.5 L649.8,361.7 L650.5,361.5 L651.3,360.9 L652.2,360.1 L653.2,359.2 L654.2,358.2 L655.1,357.3 L656.0,356.5 L656.8,355.8 L657.6,355.0 L658.4,354.1 L659.1,353.2 L659.9,352.4 L660.7,351.7 L661.5,351.0 L662.2,350.5 L662.8,350.1 L663.0,349.9 L663.2,349.7 L663.4,349.6 L663.8,349.5 L664.6,349.5 L665.9,349.5 L668.0,349.5 L671.0,349.5 L675.0,349.5 L679.7,349.5 L684.7,349.5 L689.7,349.6 L694.4,349.7 L698.5,349.8 L701.6,350.0 L703.8,350.2 L705.3,350.5 L706.3,350.9 L706.9,351.3 L707.3,351.7 L707.6,352.0 L708.1,352.3 L708.8,352.5 L709.7,352.6 L710.6,352.7 L711.5,352.8 L712.4,352.8 L713.3,352.8 L714.2,352.8 L715.1,352.7 L716.0,352.5 L716.9,352.2 L717.7,351.9 L718.5,351.5 L719.3,351.0 L720.2,350.5 L721.1,350.1 L722.1,349.8 L723.2,349.5 L724.6,349.4 L726.2,349.3 L727.9,349.3 L729.7,349.3 L731.4,349.4 L733.0,349.4 L734.3,349.5 L735.2,349.5" fill="none" stroke="#080" stroke-width="0.9" stroke-dasharray="2,1"/>
<path d="M605.5,349.5 L606.1,349.7 L606.8,350.0 L607.7,350.4 L608.7,350.8 L609.7,351.2 L610.7,351.6 L611.8,352.0 L612.7,352.3 L613.6,352.6 L614.5,352.9 L615.4,353.2 L616.3,353.5 L617.2,353.7 L618.1,354.0 L619.0,354.2 L619.9,354.5 L620.8,354.8 L621.7,355.1 L622.6,355.4 L623.5,355.8 L624.4,356.1 L625.3,356.3 L626.2,356.4 L627.1,356.5 L628.0,356.5 L628.9,356.3 L629.8,356.1 L630.7,355.9 L631.6,355.6 L632.5,355.2 L633.4,354.9 L634.3,354.5 L635.2,354.1 L636.1,353.6 L637.0,353.0 L637.9,352.4 L638.8,351.9 L639.7,351.3 L640.6,350.9 L641.5,350.5 L642.5,350.2 L643.5,350.0 L644.6,349.9 L645.6,349.8 L646.6,349.7 L647.5,349.6 L648.2,349.6 L648.8,349.5 L648.8,349.5 L649.1,349.2 L649.6,348.8 L650.1,348.3 L650.7,347.8 L651.4,347.2 L652.1,346.7 L652.8,346.3 L653.6,346.0 L654.3,345.8 L655.1,345.7 L656.0,345.6 L656.9,345.6 L657.8,345.7 L658.7,345.7 L659.7,345.8 L660.8,345.9 L661.8,346.0 L662.9,346.2 L664.1,346.4 L665.3,346.6 L666.5,346.9 L667.7,347.1 L669.0,347.3 L670.4,347.5 L671.7,347.7 L673.0,347.8 L674.4,348.0 L675.8,348.1 L677.3,348.3 L678.8,348.4 L680.5,348.6 L682.4,348.7 L684.1,348.8 L685.3,348.9 L686.5,349.1 L687.9,349.2 L689.9,349.3 L692.6,349.4 L696.4,349.4 L701.6,349.5 L709.0,349.5 L718.6,349.6 L729.6,349.6 L741.3,349.6 L752.8,349.5 L763.3,349.5 L772.2,349.5 L778.5,349.5" fill="none" stroke="#00f" stroke-width="0.9"/>
<path d="M605.5,349.5 L606.1,349.7 L606.8,350.0 L607.7,350.3 L608.7,350.7 L609.7,351.1 L610.7,351.5 L611.8,351.8 L612.7,352.0 L613.6,352.2 L614.5,352.3 L615.4,352.4 L616.3,352.4 L617.2,352.4 L618.1,352.5 L619.0,352.5 L619.9,352.5 L620.8,352.5 L621.7,352.6 L622.6,352.6 L623.5,352.6 L624.4,352.6 L625.3,352.6 L626.2,352.6 L627.1,352.5 L628.0,352.4 L628.9,352.3 L629.8,352.2 L630.7,352.1 L631.6,352.0 L632.5,351.8 L633.4,351.7 L634.3,351.5 L635.2,351.3 L636.1,351.1 L637.0,350.9 L637.9,350.7 L638.8,350.5 L639.7,350.3 L640.6,350.1 L641.5,350.0 L642.5,349.9 L643.5,349.7 L644.5,349.5 L645.5,349.3 L646.5,349.2 L647.4,349.2 L648.1,349.3 L648.8,349.5 L649.1,349.9 L649.4,350.6 L649.4,351.3 L649.4,352.2 L649.4,353.0 L649.4,353.7 L649.5,354.2 L649.7,354.5 L650.0,354.5 L650.4,354.3 L650.9,353.9 L651.4,353.5 L651.9,352.9 L652.5,352.4 L653.0,351.9 L653.6,351.5 L654.0,351.1 L654.5,350.8 L654.9,350.4 L655.3,350.1 L655.8,349.8 L656.5,349.5 L657.3,349.2 L658.4,349.0 L659.7,348.8 L661.2,348.7 L662.9,348.6 L664.7,348.6 L666.6,348.5 L668.6,348.5 L670.7,348.5 L672.8,348.5 L675.0,348.5 L677.5,348.6 L680.1,348.6 L682.7,348.7 L685.3,348.8 L687.8,348.9 L690.0,348.9 L692.0,349.0 L693.7,349.1 L695.3,349.1 L696.7,349.2 L698.0,349.3 L699.1,349.3 L700.1,349.4 L700.9,349.5 L701.6,349.5" fill="none" stroke="#00f" stroke-width="0.9" stroke-dasharray="2,1"/>
<path d="M605.5,349.5 L627.1,349.5 L627.1,349.5 L627.7,349.4 L628.4,349.2 L629.3,349.0 L630.3,348.8 L631.3,348.5 L632.4,348.2 L633.4,347.9 L634.3,347.5 L635.2,347.1 L636.2,346.7 L637.1,346.2 L638.0,345.7 L638.9,345.2 L639.8,344.7 L640.7,344.1 L641.5,343.5 L642.4,342.8 L643.3,342.1 L644.2,341.3 L645.1,340.5 L645.9,339.7 L646.7,339.0 L647.3,338.4 L647.8,338.0 L648.5,337.5 L648.8,349.5 L778.5,349.5" fill="none" stroke="#f0f" stroke-width="1"/>
<path d="M627.1,349.5 L627.7,349.4 L628.4,349.4 L629.3,349.3 L630.3,349.2 L631.3,349.1 L632.4,348.9 L633.4,348.8 L634.3,348.5 L635.2,348.2 L636.2,347.8 L637.1,347.4 L638.0,347.0 L638.9,346.5 L639.8,346.0 L640.7,345.5 L641.5,345.0 L642.4,344.4 L643.3,343.6 L644.2,342.8 L645.1,342.0 L645.9,341.2 L646.6,340.7 L647.3,340.4 L647.8,340.5 L648.1,341.0 L648.3,342.0 L648.4,343.3 L648.4,344.7 L648.3,346.2 L648.4,347.6 L648.5,348.7 L648.8,349.5 L649.2,349.9 L649.7,350.1 L650.3,350.2 L650.9,350.1 L651.6,349.9 L652.3,349.7 L652.9,349.6 L653.6,349.5 L654.1,349.5 L654.6,349.4 L655.1,349.3 L655.7,349.3 L656.2,349.2 L656.8,349.1 L657.5,349.1 L658.4,349.0 L659.3,348.9 L660.4,348.9 L661.6,348.8 L662.9,348.8 L664.2,348.8 L665.5,348.7 L666.7,348.7 L668.0,348.7 L669.2,348.7 L670.4,348.7 L671.6,348.8 L672.8,348.8 L674.0,348.8 L675.2,348.9 L676.4,348.9 L677.6,349.0 L678.9,349.1 L680.2,349.1 L681.6,349.2 L683.0,349.3 L684.3,349.3 L685.5,349.4 L686.5,349.5 L687.2,349.5" fill="none" stroke="#f0f" stroke-width="0.9" stroke-dasharray="2,1"/>
<path d="M728.0,349.5 L728.4,349.3 L729.0,349.1 L729.6,348.7 L730.3,348.4 L731.0,348.0 L731.7,347.7 L732.3,347.3 L732.8,347.0 L733.3,346.6 L733.6,346.2 L733.9,345.8 L734.2,345.4 L734.5,345.0 L734.7,344.7 L735.0,344.5 L735.2,344.5 L735.5,344.6 L735.8,344.9 L736.0,345.3 L736.3,345.7 L736.6,346.2 L736.9,346.7 L737.2,347.1 L737.7,347.5 L738.1,347.8 L738.7,348.1 L739.3,348.4 L739.9,348.7 L740.6,348.9 L741.2,349.2 L741.8,349.4 L742.5,349.5 L743.1,349.6 L743.7,349.7 L744.3,349.7 L744.9,349.8 L745.5,349.7 L746.1,349.7 L746.7,349.6 L747.3,349.5 L747.9,349.3 L748.5,349.1 L749.1,348.9 L749.7,348.6 L750.3,348.3 L750.9,348.0 L751.5,347.7 L752.1,347.5 L752.6,347.3 L753.2,347.0 L753.7,346.8 L754.2,346.6 L754.7,346.4 L755.3,346.2 L756.0,346.1 L756.9,346.0 L757.9,346.0 L759.0,346.0 L760.2,346.0 L761.5,346.1 L762.8,346.2 L764.1,346.3 L765.4,346.4 L766.5,346.5 L767.5,346.6 L768.5,346.7 L769.5,346.8 L770.4,346.9 L771.3,347.0 L772.1,347.2 L772.9,347.3 L773.7,347.5 L774.4,347.7 L775.2,348.0 L775.9,348.3 L776.5,348.6 L777.2,348.9 L777.7,349.1 L778.1,349.3 L778.5,349.5" fill="none" stroke="#f0f" stroke-width="0.9" stroke-dasharray="2,1"/>
<line x1="605.5" y1="336.5" x2="605.5" y2="361.5" stroke="#000" stroke-width="1.3" />
<line x1="603.9" y1="336.5" x2="607.1" y2="336.5" stroke="#000" stroke-width="1" />
<line x1="603.9" y1="342.75" x2="607.1" y2="342.75" stroke="#000" stroke-width="1" />
<line x1="603.9" y1="349.0" x2="607.1" y2="349.0" stroke="#000" stroke-width="1" />
<line x1="603.9" y1="355.25" x2="607.1" y2="355.25" stroke="#000" stroke-width="1" />
<line x1="603.9" y1="361.5" x2="607.1" y2="361.5" stroke="#000" stroke-width="1" />
<line x1="778.5" y1="336.5" x2="778.5" y2="361.5" stroke="#000" stroke-width="1.3" />
<line x1="776.9" y1="336.5" x2="780.1" y2="336.5" stroke="#000" stroke-width="1" />
<line x1="776.9" y1="342.75" x2="780.1" y2="342.75" stroke="#000" stroke-width="1" />
<line x1="776.9" y1="349.0" x2="780.1" y2="349.0" stroke="#000" stroke-width="1" />
<line x1="776.9" y1="355.25" x2="780.1" y2="355.25" stroke="#000" stroke-width="1" />
<line x1="776.9" y1="361.5" x2="780.1" y2="361.5" stroke="#000" stroke-width="1" />
<circle cx="605.5" cy="349.5" r="0.9" fill="#000"/>
<circle cx="616.3" cy="349.5" r="0.9" fill="#000"/>
<circle cx="627.1" cy="349.5" r="0.9" fill="#000"/>
<circle cx="637.9" cy="349.5" r="0.9" fill="#000"/>
<circle cx="648.8" cy="349.5" r="0.9" fill="#000"/>
<circle cx="659.6" cy="349.5" r="0.9" fill="#000"/>
<circle cx="670.4" cy="349.5" r="0.9" fill="#000"/>
<circle cx="681.2" cy="349.5" r="0.9" fill="#000"/>
<circle cx="692.0" cy="349.5" r="0.9" fill="#000"/>
<circle cx="702.8" cy="349.5" r="0.9" fill="#000"/>
<circle cx="713.6" cy="349.5" r="0.9" fill="#000"/>
<circle cx="724.4" cy="349.5" r="0.9" fill="#000"/>
<circle cx="735.2" cy="349.5" r="0.9" fill="#000"/>
<circle cx="746.1" cy="349.5" r="0.9" fill="#000"/>
<circle cx="756.9" cy="349.5" r="0.9" fill="#000"/>
<circle cx="767.7" cy="349.5" r="0.9" fill="#000"/>
<circle cx="778.5" cy="349.5" r="0.9" fill="#000"/>
<text x="592.3" y="337.7" font-size="3.4" fill="#000" stroke="#000" stroke-width="0.06">5.73</text>
<text x="592.3" y="343.95" font-size="3.4" fill="#000" stroke="#000" stroke-width="0.06">2.61</text>
<text x="592.3" y="350.2" font-size="3.4" fill="#000" stroke="#000" stroke-width="0.06">0.00</text>
<text x="592.3" y="356.45" font-size="3.4" fill="#000" stroke="#000" stroke-width="0.06">-2.74</text>
<text x="592.3" y="362.7" font-size="3.4" fill="#000" stroke="#000" stroke-width="0.06">-5.88</text>
<text x="781" y="337.7" font-size="3.4" fill="#000" stroke="#000" stroke-width="0.06">0.160</text>
<text x="781" y="343.95" font-size="3.4" fill="#000" stroke="#000" stroke-width="0.06">0.080</text>
<text x="781" y="350.2" font-size="3.4" fill="#000" stroke="#000" stroke-width="0.06">0.000</text>
<text x="781" y="356.45" font-size="3.4" fill="#000" stroke="#000" stroke-width="0.06">-0.078</text>
<text x="781" y="362.7" font-size="3.4" fill="#000" stroke="#000" stroke-width="0.06">-0.158</text>
<text x="605.5" y="367.2" font-size="3.4" fill="#000" stroke="#000" stroke-width="0.06" text-anchor="middle">0.0°</text>
<text x="616.3125" y="367.2" font-size="3.4" fill="#000" stroke="#000" stroke-width="0.06" text-anchor="middle">22.5°</text>
<text x="627.125" y="367.2" font-size="3.4" fill="#000" stroke="#000" stroke-width="0.06" text-anchor="middle">45.0°</text>
<text x="637.9375" y="367.2" font-size="3.4" fill="#000" stroke="#000" stroke-width="0.06" text-anchor="middle">67.5°</text>
<text x="648.75" y="367.2" font-size="3.4" fill="#000" stroke="#000" stroke-width="0.06" text-anchor="middle">90.0°</text>
<text x="659.5625" y="367.2" font-size="3.4" fill="#000" stroke="#000" stroke-width="0.06" text-anchor="middle">112.5°</text>
<text x="670.375" y="367.2" font-size="3.4" fill="#000" stroke="#000" stroke-width="0.06" text-anchor="middle">135.0°</text>
<text x="681.1875" y="367.2" font-size="3.4" fill="#000" stroke="#000" stroke-width="0.06" text-anchor="middle">157.5°</text>
<text x="692.0" y="367.2" font-size="3.4" fill="#000" stroke="#000" stroke-width="0.06" text-anchor="middle">180.0°</text>
<text x="702.8125" y="367.2" font-size="3.4" fill="#000" stroke="#000" stroke-width="0.06" text-anchor="middle">202.5°</text>
<text x="713.625" y="367.2" font-size="3.4" fill="#000" stroke="#000" stroke-width="0.06" text-anchor="middle">225.0°</text>
<text x="724.4375" y="367.2" font-size="3.4" fill="#000" stroke="#000" stroke-width="0.06" text-anchor="middle">247.5°</text>
<text x="735.25" y="367.2" font-size="3.4" fill="#000" stroke="#000" stroke-width="0.06" text-anchor="middle">270.0°</text>
<text x="746.0625" y="367.2" font-size="3.4" fill="#000" stroke="#000" stroke-width="0.06" text-anchor="middle">292.5°</text>
<text x="756.875" y="367.2" font-size="3.4" fill="#000" stroke="#000" stroke-width="0.06" text-anchor="middle">315.0°</text>
<text x="767.6875" y="367.2" font-size="3.4" fill="#000" stroke="#000" stroke-width="0.06" text-anchor="middle">337.5°</text>
<text x="778.5" y="367.2" font-size="3.4" fill="#000" stroke="#000" stroke-width="0.06" text-anchor="middle">360.0°</text>
<path d="M704.8,355.5 L708.2,355.5 L706.5,351.3 Z" fill="none" stroke="#000" stroke-width="0.7"/>
<line x1="592.8" y1="369.8" x2="607" y2="369.8" stroke="#080" stroke-width="1" />
<text x="608.3" y="371.0" font-size="3.5" fill="#000" stroke="#000" stroke-width="0.06" font-weight="bold">actual length axis asymmetry</text>
<line x1="660.1" y1="369.8" x2="674.4" y2="369.8" stroke="#00f" stroke-width="1" />
<text x="675.6999999999999" y="371.0" font-size="3.5" fill="#000" stroke="#000" stroke-width="0.06" font-weight="bold">actual width axis asymmetry</text>
<line x1="592.8" y1="373.7" x2="607" y2="373.7" stroke="#080" stroke-width="1" />
<text x="608.3" y="374.9" font-size="3.5" fill="#000" stroke="#000" stroke-width="0.06" font-weight="bold">length axis symmetry correction</text>
<line x1="660.1" y1="373.7" x2="674.4" y2="373.7" stroke="#00f" stroke-width="1" />
<text x="675.6999999999999" y="374.9" font-size="3.5" fill="#000" stroke="#000" stroke-width="0.06" font-weight="bold">width axis symmetry correction</text>
<line x1="726.2" y1="373.7" x2="743" y2="373.7" stroke="#f0f" stroke-width="1" />
<text x="744.3" y="374.9" font-size="3.5" fill="#000" stroke="#000" stroke-width="0.06" font-weight="bold">both axes symmetry correction</text>
<text x="592" y="391.2" font-size="3.35" fill="#000" stroke="#000" stroke-width="0.06" font-weight="bold">Girdle thickness, %</text>
<text x="691.5" y="391.2" font-size="3.35" fill="#000" stroke="#000" stroke-width="0.06" text-anchor="middle" font-weight="bold">Crown</text>
<text x="797" y="391.2" font-size="3.35" fill="#000" stroke="#000" stroke-width="0.06" text-anchor="end" font-weight="bold">Girdle thickness, mm</text>
<polygon points="605.3,408.5 606.1,409.5 607.0,409.9 607.8,410.3 608.6,410.5 609.4,410.7 610.3,410.9 611.1,411.0 611.9,411.1 612.7,411.2 613.6,411.2 614.4,411.1 615.2,411.1 616.1,411.0 616.9,410.9 617.7,410.8 618.5,410.6 619.4,410.4 620.2,410.1 621.0,409.8 621.8,409.4 622.7,408.8 623.5,407.8 624.3,409.0 625.1,409.6 625.9,410.0 626.8,410.3 627.6,410.5 628.4,410.7 629.2,410.8 630.0,410.8 630.8,410.8 631.6,410.7 632.4,410.5 633.2,410.3 634.1,410.0 634.9,409.6 635.7,409.0 636.5,407.8 637.3,408.9 638.2,409.3 639.0,409.5 639.8,409.5 640.7,409.5 641.5,409.4 642.4,409.2 643.2,408.9 644.0,408.6 644.9,408.2 645.7,407.6 646.5,407.0 647.4,406.1 648.2,404.6 649.1,406.1 649.9,406.9 650.8,407.5 651.6,408.0 652.5,408.3 653.4,408.6 654.2,408.8 655.1,408.9 656.0,408.8 656.8,408.7 657.7,408.5 658.5,408.0 659.4,406.8 660.2,408.0 661.0,408.6 661.9,409.0 662.7,409.4 663.5,409.6 664.3,409.9 665.1,410.0 665.9,410.1 666.8,410.2 667.6,410.2 668.4,410.2 669.2,410.1 670.0,410.0 670.8,409.8 671.6,409.5 672.5,409.2 673.3,408.7 674.1,407.6 674.9,408.6 675.7,409.1 676.5,409.5 677.4,409.8 678.2,410.0 679.0,410.2 679.8,410.3 680.6,410.4 681.4,410.5 682.2,410.5 683.1,410.5 683.9,410.4 684.7,410.4 685.5,410.3 686.3,410.1 687.1,409.9 687.9,409.7 688.8,409.3 689.6,409.0 690.4,408.4 691.2,407.4 692.0,408.4 692.8,408.9 693.6,409.3 694.4,409.6 695.2,409.8 696.1,410.0 696.9,410.1 697.7,410.2 698.5,410.3 699.3,410.3 700.1,410.3 700.9,410.2 701.7,410.2 702.5,410.1 703.3,409.9 704.2,409.7 705.0,409.5 705.8,409.1 706.6,408.8 707.4,408.2 708.2,407.2 709.1,408.4 709.9,409.1 710.8,409.5 711.6,409.9 712.5,410.1 713.3,410.3 714.1,410.4 715.0,410.5 715.9,410.5 716.7,410.5 717.5,410.3 718.4,410.2 719.2,409.9 720.1,409.5 720.9,409.0 721.8,407.8 722.6,409.2 723.4,409.9 724.3,410.4 725.1,410.8 725.9,411.2 726.7,411.4 727.5,411.6 728.4,411.7 729.2,411.7 730.0,411.7 730.8,411.6 731.6,411.4 732.5,411.1 733.3,410.6 734.1,409.5 734.9,410.7 735.8,411.1 736.6,411.4 737.5,411.6 738.3,411.6 739.2,411.6 740.0,411.5 740.8,411.3 741.7,411.1 742.5,410.7 743.4,410.3 744.2,409.7 745.1,409.0 745.9,407.5 746.7,408.5 747.5,408.9 748.4,409.1 749.2,409.2 750.0,409.3 750.8,409.3 751.6,409.3 752.4,409.2 753.2,409.1 754.1,408.9 754.9,408.6 755.7,408.4 756.5,408.0 757.3,407.6 758.1,407.2 759.0,406.6 759.8,405.9 760.6,404.6 761.4,405.8 762.2,406.4 763.1,407.0 763.9,407.4 764.7,407.8 765.5,408.2 766.3,408.5 767.2,408.7 768.0,408.9 768.8,409.1 769.6,409.3 770.4,409.4 771.2,409.5 772.1,409.5 772.9,409.5 773.7,409.5 774.5,409.4 775.3,409.3 776.2,409.0 777.0,408.7 777.8,407.8 778.1,417.2 777.2,417.2 776.3,417.1 775.4,417.0 774.5,416.8 773.6,416.7 772.7,416.6 771.8,416.6 770.9,416.7 770.0,416.8 769.1,417.0 768.2,417.1 767.3,417.2 766.4,417.2 765.5,417.1 764.6,417.0 763.7,416.8 762.8,416.7 761.9,416.6 761.0,416.6 760.1,416.7 759.2,416.8 758.3,417.0 757.4,417.1 756.5,417.2 755.6,417.2 754.7,417.1 753.8,417.0 752.9,416.8 752.0,416.7 751.1,416.6 750.2,416.6 749.3,416.7 748.4,416.8 747.5,417.0 746.6,417.1 745.7,417.2 744.8,417.2 743.9,417.1 743.0,417.0 742.1,416.8 741.2,416.7 740.3,416.6 739.4,416.6 738.5,416.7 737.6,416.8 736.7,417.0 735.8,417.1 734.9,417.2 734.0,417.2 733.1,417.1 732.2,417.0 731.3,416.8 730.4,416.7 729.5,416.6 728.6,416.6 727.7,416.7 726.8,416.8 725.9,417.0 725.0,417.1 724.1,417.2 723.2,417.2 722.3,417.1 721.4,417.0 720.5,416.8 719.6,416.7 718.7,416.6 717.8,416.6 716.9,416.7 716.0,416.8 715.1,417.0 714.2,417.1 713.3,417.2 712.4,417.2 711.5,417.1 710.6,417.0 709.7,416.8 708.8,416.7 707.9,416.6 707.0,416.6 706.1,416.7 705.2,416.8 704.3,417.0 703.4,417.1 702.5,417.2 701.6,417.2 700.7,417.1 699.8,417.0 698.9,416.8 698.0,416.7 697.1,416.6 696.2,416.6 695.3,416.7 694.4,416.8 693.5,417.0 692.6,417.1 691.7,417.2 690.8,417.2 689.9,417.1 689.0,417.0 688.1,416.8 687.2,416.7 686.3,416.6 685.4,416.6 684.5,416.7 683.6,416.8 682.7,417.0 681.8,417.1 680.9,417.2 680.0,417.2 679.1,417.1 678.2,417.0 677.3,416.8 676.4,416.7 675.5,416.6 674.6,416.6 673.7,416.7 672.8,416.8 671.9,417.0 671.0,417.1 670.1,417.2 669.2,417.2 668.3,417.1 667.4,417.0 666.5,416.8 665.6,416.7 664.7,416.6 663.8,416.6 662.9,416.7 662.0,416.8 661.1,417.0 660.2,417.1 659.3,417.2 658.4,417.2 657.5,417.1 656.6,417.0 655.7,416.8 654.8,416.7 653.9,416.6 653.0,416.6 652.1,416.7 651.2,416.8 650.3,417.0 649.4,417.1 648.5,417.2 647.6,417.2 646.7,417.1 645.8,417.0 644.9,416.8 644.0,416.7 643.1,416.6 642.2,416.6 641.3,416.7 640.4,416.8 639.5,417.0 638.6,417.1 637.7,417.2 636.8,417.2 635.9,417.1 635.0,417.0 634.1,416.8 633.2,416.7 632.3,416.6 631.4,416.6 630.5,416.7 629.6,416.8 628.7,417.0 627.8,417.1 626.9,417.2 626.0,417.2 625.1,417.1 624.2,417.0 623.3,416.8 622.4,416.7 621.5,416.6 620.6,416.6 619.7,416.7 618.8,416.8 617.9,417.0 617.0,417.1 616.1,417.2 615.2,417.2 614.3,417.1 613.4,417.0 612.5,416.8 611.6,416.7 610.7,416.6 609.8,416.6 608.9,416.7 608.0,416.8 607.1,417.0 606.2,417.1 605.3,417.2" fill="#c0c0c0" stroke="none"/>
<path d="M605.3,408.5 L606.1,409.5 L607.0,409.9 L607.8,410.3 L608.6,410.5 L609.4,410.7 L610.3,410.9 L611.1,411.0 L611.9,411.1 L612.7,411.2 L613.6,411.2 L614.4,411.1 L615.2,411.1 L616.1,411.0 L616.9,410.9 L617.7,410.8 L618.5,410.6 L619.4,410.4 L620.2,410.1 L621.0,409.8 L621.8,409.4 L622.7,408.8 L623.5,407.8 L624.3,409.0 L625.1,409.6 L625.9,410.0 L626.8,410.3 L627.6,410.5 L628.4,410.7 L629.2,410.8 L630.0,410.8 L630.8,410.8 L631.6,410.7 L632.4,410.5 L633.2,410.3 L634.1,410.0 L634.9,409.6 L635.7,409.0 L636.5,407.8 L637.3,408.9 L638.2,409.3 L639.0,409.5 L639.8,409.5 L640.7,409.5 L641.5,409.4 L642.4,409.2 L643.2,408.9 L644.0,408.6 L644.9,408.2 L645.7,407.6 L646.5,407.0 L647.4,406.1 L648.2,404.6 L649.1,406.1 L649.9,406.9 L650.8,407.5 L651.6,408.0 L652.5,408.3 L653.4,408.6 L654.2,408.8 L655.1,408.9 L656.0,408.8 L656.8,408.7 L657.7,408.5 L658.5,408.0 L659.4,406.8 L660.2,408.0 L661.0,408.6 L661.9,409.0 L662.7,409.4 L663.5,409.6 L664.3,409.9 L665.1,410.0 L665.9,410.1 L666.8,410.2 L667.6,410.2 L668.4,410.2 L669.2,410.1 L670.0,410.0 L670.8,409.8 L671.6,409.5 L672.5,409.2 L673.3,408.7 L674.1,407.6 L674.9,408.6 L675.7,409.1 L676.5,409.5 L677.4,409.8 L678.2,410.0 L679.0,410.2 L679.8,410.3 L680.6,410.4 L681.4,410.5 L682.2,410.5 L683.1,410.5 L683.9,410.4 L684.7,410.4 L685.5,410.3 L686.3,410.1 L687.1,409.9 L687.9,409.7 L688.8,409.3 L689.6,409.0 L690.4,408.4 L691.2,407.4 L692.0,408.4 L692.8,408.9 L693.6,409.3 L694.4,409.6 L695.2,409.8 L696.1,410.0 L696.9,410.1 L697.7,410.2 L698.5,410.3 L699.3,410.3 L700.1,410.3 L700.9,410.2 L701.7,410.2 L702.5,410.1 L703.3,409.9 L704.2,409.7 L705.0,409.5 L705.8,409.1 L706.6,408.8 L707.4,408.2 L708.2,407.2 L709.1,408.4 L709.9,409.1 L710.8,409.5 L711.6,409.9 L712.5,410.1 L713.3,410.3 L714.1,410.4 L715.0,410.5 L715.9,410.5 L716.7,410.5 L717.5,410.3 L718.4,410.2 L719.2,409.9 L720.1,409.5 L720.9,409.0 L721.8,407.8 L722.6,409.2 L723.4,409.9 L724.3,410.4 L725.1,410.8 L725.9,411.2 L726.7,411.4 L727.5,411.6 L728.4,411.7 L729.2,411.7 L730.0,411.7 L730.8,411.6 L731.6,411.4 L732.5,411.1 L733.3,410.6 L734.1,409.5 L734.9,410.7 L735.8,411.1 L736.6,411.4 L737.5,411.6 L738.3,411.6 L739.2,411.6 L740.0,411.5 L740.8,411.3 L741.7,411.1 L742.5,410.7 L743.4,410.3 L744.2,409.7 L745.1,409.0 L745.9,407.5 L746.7,408.5 L747.5,408.9 L748.4,409.1 L749.2,409.2 L750.0,409.3 L750.8,409.3 L751.6,409.3 L752.4,409.2 L753.2,409.1 L754.1,408.9 L754.9,408.6 L755.7,408.4 L756.5,408.0 L757.3,407.6 L758.1,407.2 L759.0,406.6 L759.8,405.9 L760.6,404.6 L761.4,405.8 L762.2,406.4 L763.1,407.0 L763.9,407.4 L764.7,407.8 L765.5,408.2 L766.3,408.5 L767.2,408.7 L768.0,408.9 L768.8,409.1 L769.6,409.3 L770.4,409.4 L771.2,409.5 L772.1,409.5 L772.9,409.5 L773.7,409.5 L774.5,409.4 L775.3,409.3 L776.2,409.0 L777.0,408.7 L777.8,407.8" fill="none" stroke="#000" stroke-width="0.8"/>
<path d="M605.3,417.2 L606.2,417.1 L607.1,417.0 L608.0,416.8 L608.9,416.7 L609.8,416.6 L610.7,416.6 L611.6,416.7 L612.5,416.8 L613.4,417.0 L614.3,417.1 L615.2,417.2 L616.1,417.2 L617.0,417.1 L617.9,417.0 L618.8,416.8 L619.7,416.7 L620.6,416.6 L621.5,416.6 L622.4,416.7 L623.3,416.8 L624.2,417.0 L625.1,417.1 L626.0,417.2 L626.9,417.2 L627.8,417.1 L628.7,417.0 L629.6,416.8 L630.5,416.7 L631.4,416.6 L632.3,416.6 L633.2,416.7 L634.1,416.8 L635.0,417.0 L635.9,417.1 L636.8,417.2 L637.7,417.2 L638.6,417.1 L639.5,417.0 L640.4,416.8 L641.3,416.7 L642.2,416.6 L643.1,416.6 L644.0,416.7 L644.9,416.8 L645.8,417.0 L646.7,417.1 L647.6,417.2 L648.5,417.2 L649.4,417.1 L650.3,417.0 L651.2,416.8 L652.1,416.7 L653.0,416.6 L653.9,416.6 L654.8,416.7 L655.7,416.8 L656.6,417.0 L657.5,417.1 L658.4,417.2 L659.3,417.2 L660.2,417.1 L661.1,417.0 L662.0,416.8 L662.9,416.7 L663.8,416.6 L664.7,416.6 L665.6,416.7 L666.5,416.8 L667.4,417.0 L668.3,417.1 L669.2,417.2 L670.1,417.2 L671.0,417.1 L671.9,417.0 L672.8,416.8 L673.7,416.7 L674.6,416.6 L675.5,416.6 L676.4,416.7 L677.3,416.8 L678.2,417.0 L679.1,417.1 L680.0,417.2 L680.9,417.2 L681.8,417.1 L682.7,417.0 L683.6,416.8 L684.5,416.7 L685.4,416.6 L686.3,416.6 L687.2,416.7 L688.1,416.8 L689.0,417.0 L689.9,417.1 L690.8,417.2 L691.7,417.2 L692.6,417.1 L693.5,417.0 L694.4,416.8 L695.3,416.7 L696.2,416.6 L697.1,416.6 L698.0,416.7 L698.9,416.8 L699.8,417.0 L700.7,417.1 L701.6,417.2 L702.5,417.2 L703.4,417.1 L704.3,417.0 L705.2,416.8 L706.1,416.7 L707.0,416.6 L707.9,416.6 L708.8,416.7 L709.7,416.8 L710.6,417.0 L711.5,417.1 L712.4,417.2 L713.3,417.2 L714.2,417.1 L715.1,417.0 L716.0,416.8 L716.9,416.7 L717.8,416.6 L718.7,416.6 L719.6,416.7 L720.5,416.8 L721.4,417.0 L722.3,417.1 L723.2,417.2 L724.1,417.2 L725.0,417.1 L725.9,417.0 L726.8,416.8 L727.7,416.7 L728.6,416.6 L729.5,416.6 L730.4,416.7 L731.3,416.8 L732.2,417.0 L733.1,417.1 L734.0,417.2 L734.9,417.2 L735.8,417.1 L736.7,417.0 L737.6,416.8 L738.5,416.7 L739.4,416.6 L740.3,416.6 L741.2,416.7 L742.1,416.8 L743.0,417.0 L743.9,417.1 L744.8,417.2 L745.7,417.2 L746.6,417.1 L747.5,417.0 L748.4,416.8 L749.3,416.7 L750.2,416.6 L751.1,416.6 L752.0,416.7 L752.9,416.8 L753.8,417.0 L754.7,417.1 L755.6,417.2 L756.5,417.2 L757.4,417.1 L758.3,417.0 L759.2,416.8 L760.1,416.7 L761.0,416.6 L761.9,416.6 L762.8,416.7 L763.7,416.8 L764.6,417.0 L765.5,417.1 L766.4,417.2 L767.3,417.2 L768.2,417.1 L769.1,417.0 L770.0,416.8 L770.9,416.7 L771.8,416.6 L772.7,416.6 L773.6,416.7 L774.5,416.8 L775.4,417.0 L776.3,417.1 L777.2,417.2 L778.1,417.2" fill="none" stroke="#000" stroke-width="0.8"/>
<path d="M605.3,419.2 L606.2,419.3 L607.1,419.5 L608.0,419.7 L608.9,419.9 L609.8,420.0 L610.7,420.0 L611.6,419.9 L612.5,419.7 L613.4,419.5 L614.3,419.3 L615.2,419.2 L616.1,419.2 L617.0,419.3 L617.9,419.5 L618.8,419.7 L619.7,419.9 L620.6,420.0 L621.5,420.0 L622.4,419.9 L623.3,419.7 L624.2,419.5 L625.1,419.3 L626.0,419.2 L626.9,419.2 L627.8,419.3 L628.7,419.5 L629.6,419.7 L630.5,419.9 L631.4,420.0 L632.3,420.0 L633.2,419.9 L634.1,419.7 L635.0,419.5 L635.9,419.3 L636.8,419.2 L637.7,419.2 L638.6,419.3 L639.5,419.5 L640.4,419.7 L641.3,419.9 L642.2,420.0 L643.1,420.0 L644.0,419.9 L644.9,419.7 L645.8,419.5 L646.7,419.3 L647.6,419.2 L648.5,419.2 L649.4,419.3 L650.3,419.5 L651.2,419.7 L652.1,419.9 L653.0,420.0 L653.9,420.0 L654.8,419.9 L655.7,419.7 L656.6,419.5 L657.5,419.3 L658.4,419.2 L659.3,419.2 L660.2,419.3 L661.1,419.5 L662.0,419.7 L662.9,419.9 L663.8,420.0 L664.7,420.0 L665.6,419.9 L666.5,419.7 L667.4,419.5 L668.3,419.3 L669.2,419.2 L670.1,419.2 L671.0,419.3 L671.9,419.5 L672.8,419.7 L673.7,419.9 L674.6,420.0 L675.5,420.0 L676.4,419.9 L677.3,419.7 L678.2,419.5 L679.1,419.3 L680.0,419.2 L680.9,419.2 L681.8,419.3 L682.7,419.5 L683.6,419.7 L684.5,419.9 L685.4,420.0 L686.3,420.0 L687.2,419.9 L688.1,419.7 L689.0,419.5 L689.9,419.3 L690.8,419.2 L691.7,419.2 L692.6,419.3 L693.5,419.5 L694.4,419.7 L695.3,419.9 L696.2,420.0 L697.1,420.0 L698.0,419.9 L698.9,419.7 L699.8,419.5 L700.7,419.3 L701.6,419.2 L702.5,419.2 L703.4,419.3 L704.3,419.5 L705.2,419.7 L706.1,419.9 L707.0,420.0 L707.9,420.0 L708.8,419.9 L709.7,419.7 L710.6,419.5 L711.5,419.3 L712.4,419.2 L713.3,419.2 L714.2,419.3 L715.1,419.5 L716.0,419.7 L716.9,419.9 L717.8,420.0 L718.7,420.0 L719.6,419.9 L720.5,419.7 L721.4,419.5 L722.3,419.3 L723.2,419.2 L724.1,419.2 L725.0,419.3 L725.9,419.5 L726.8,419.7 L727.7,419.9 L728.6,420.0 L729.5,420.0 L730.4,419.9 L731.3,419.7 L732.2,419.5 L733.1,419.3 L734.0,419.2 L734.9,419.2 L735.8,419.3 L736.7,419.5 L737.6,419.7 L738.5,419.9 L739.4,420.0 L740.3,420.0 L741.2,419.9 L742.1,419.7 L743.0,419.5 L743.9,419.3 L744.8,419.2 L745.7,419.2 L746.6,419.3 L747.5,419.5 L748.4,419.7 L749.3,419.9 L750.2,420.0 L751.1,420.0 L752.0,419.9 L752.9,419.7 L753.8,419.5 L754.7,419.3 L755.6,419.2 L756.5,419.2 L757.4,419.3 L758.3,419.5 L759.2,419.7 L760.1,419.9 L761.0,420.0 L761.9,420.0 L762.8,419.9 L763.7,419.7 L764.6,419.5 L765.5,419.3 L766.4,419.2 L767.3,419.2 L768.2,419.3 L769.1,419.5 L770.0,419.7 L770.9,419.9 L771.8,420.0 L772.7,420.0 L773.6,419.9 L774.5,419.7 L775.4,419.5 L776.3,419.3 L777.2,419.2 L778.1,419.2" fill="none" stroke="#000" stroke-width="0.8"/>
<line x1="605.5" y1="409.5" x2="605.5" y2="420.5" stroke="#000" stroke-width="0.9" />
<line x1="616.3125" y1="409.5" x2="616.3125" y2="420.5" stroke="#000" stroke-width="0.9" />
<line x1="627.125" y1="409.5" x2="627.125" y2="420.5" stroke="#000" stroke-width="0.9" />
<line x1="637.9375" y1="409.5" x2="637.9375" y2="420.5" stroke="#000" stroke-width="0.9" />
<line x1="648.75" y1="409.5" x2="648.75" y2="420.5" stroke="#000" stroke-width="0.9" />
<line x1="659.5625" y1="409.5" x2="659.5625" y2="420.5" stroke="#000" stroke-width="0.9" />
<line x1="670.375" y1="409.5" x2="670.375" y2="420.5" stroke="#000" stroke-width="0.9" />
<line x1="681.1875" y1="409.5" x2="681.1875" y2="420.5" stroke="#000" stroke-width="0.9" />
<line x1="692.0" y1="409.5" x2="692.0" y2="420.5" stroke="#000" stroke-width="0.9" />
<line x1="702.8125" y1="409.5" x2="702.8125" y2="420.5" stroke="#000" stroke-width="0.9" />
<line x1="713.625" y1="409.5" x2="713.625" y2="420.5" stroke="#000" stroke-width="0.9" />
<line x1="724.4375" y1="409.5" x2="724.4375" y2="420.5" stroke="#000" stroke-width="0.9" />
<line x1="735.25" y1="409.5" x2="735.25" y2="420.5" stroke="#000" stroke-width="0.9" />
<line x1="746.0625" y1="409.5" x2="746.0625" y2="420.5" stroke="#000" stroke-width="0.9" />
<line x1="756.875" y1="409.5" x2="756.875" y2="420.5" stroke="#000" stroke-width="0.9" />
<line x1="767.6875" y1="409.5" x2="767.6875" y2="420.5" stroke="#000" stroke-width="0.9" />
<line x1="778.5" y1="409.5" x2="778.5" y2="420.5" stroke="#000" stroke-width="0.9" />
<line x1="645.6" y1="406" x2="645.6" y2="416" stroke="#000" stroke-width="0.9" />
<line x1="650.8" y1="406" x2="650.8" y2="416" stroke="#000" stroke-width="0.9" />
<line x1="731.8" y1="406" x2="731.8" y2="416" stroke="#000" stroke-width="0.9" />
<line x1="736.5" y1="406" x2="736.5" y2="416" stroke="#000" stroke-width="0.9" />
<path d="M605.3,409.7 L606.1,411.1 L607.0,411.9 L607.8,412.5 L608.6,413.0 L609.4,413.4 L610.3,413.7 L611.1,414.0 L611.9,414.2 L612.7,414.3 L613.6,414.4 L614.4,414.4 L615.2,414.3 L616.1,414.2 L616.9,414.0 L617.7,413.7 L618.5,413.4 L619.4,413.0 L620.2,412.6 L621.0,412.0 L621.8,411.3 L622.7,410.5 L623.5,409.0 L624.3,410.8 L625.1,411.8 L625.9,412.5 L626.8,413.1 L627.6,413.5 L628.4,413.8 L629.2,413.9 L630.0,414.0 L630.8,413.9 L631.6,413.8 L632.4,413.5 L633.2,413.1 L634.1,412.5 L634.9,411.8 L635.7,410.8 L636.5,409.0 L637.3,410.7 L638.2,411.5 L639.0,412.1 L639.8,412.4 L640.7,412.6 L641.5,412.6 L642.4,412.4 L643.2,412.1 L644.0,411.6 L644.9,411.0 L645.7,410.3 L646.5,409.3 L647.4,408.0 L648.2,405.8 L649.1,408.0 L649.9,409.3 L650.8,410.2 L651.6,410.9 L652.5,411.5 L653.4,411.8 L654.2,412.0 L655.1,412.0 L656.0,411.8 L656.8,411.4 L657.7,410.8 L658.5,409.9 L659.4,408.0 L660.2,409.7 L661.0,410.7 L661.9,411.4 L662.7,412.0 L663.5,412.5 L664.3,412.9 L665.1,413.1 L665.9,413.3 L666.8,413.4 L667.6,413.4 L668.4,413.3 L669.2,413.1 L670.0,412.9 L670.8,412.5 L671.6,412.0 L672.5,411.3 L673.3,410.4 L674.1,408.8 L674.9,410.3 L675.7,411.1 L676.5,411.8 L677.4,412.3 L678.2,412.7 L679.0,413.1 L679.8,413.3 L680.6,413.5 L681.4,413.6 L682.2,413.7 L683.1,413.7 L683.9,413.6 L684.7,413.5 L685.5,413.3 L686.3,413.0 L687.1,412.6 L687.9,412.2 L688.8,411.6 L689.6,411.0 L690.4,410.1 L691.2,408.6 L692.0,410.1 L692.8,410.9 L693.6,411.6 L694.4,412.1 L695.2,412.5 L696.1,412.9 L696.9,413.1 L697.7,413.3 L698.5,413.4 L699.3,413.5 L700.1,413.5 L700.9,413.4 L701.7,413.3 L702.5,413.1 L703.3,412.8 L704.2,412.4 L705.0,412.0 L705.8,411.4 L706.6,410.8 L707.4,409.9 L708.2,408.4 L709.1,410.2 L709.9,411.2 L710.8,412.0 L711.6,412.6 L712.5,413.1 L713.3,413.4 L714.1,413.6 L715.0,413.7 L715.9,413.7 L716.7,413.5 L717.5,413.3 L718.4,412.9 L719.2,412.4 L720.1,411.7 L720.9,410.7 L721.8,409.0 L722.6,411.0 L723.4,412.1 L724.3,413.0 L725.1,413.6 L725.9,414.2 L726.7,414.5 L727.5,414.8 L728.4,414.9 L729.2,414.9 L730.0,414.7 L730.8,414.4 L731.6,414.0 L732.5,413.4 L733.3,412.4 L734.1,410.7 L734.9,412.5 L735.8,413.4 L736.6,414.0 L737.5,414.5 L738.3,414.7 L739.2,414.8 L740.0,414.7 L740.8,414.5 L741.7,414.1 L742.5,413.6 L743.4,412.9 L744.2,412.0 L745.1,410.8 L745.9,408.7 L746.7,410.2 L747.5,411.0 L748.4,411.5 L749.2,411.9 L750.0,412.2 L750.8,412.3 L751.6,412.4 L752.4,412.4 L753.2,412.2 L754.1,412.0 L754.9,411.8 L755.7,411.4 L756.5,410.9 L757.3,410.3 L758.1,409.6 L759.0,408.7 L759.8,407.6 L760.6,405.8 L761.4,407.4 L762.2,408.4 L763.1,409.3 L763.9,410.0 L764.7,410.5 L765.5,411.0 L766.3,411.5 L767.2,411.8 L768.0,412.1 L768.8,412.3 L769.6,412.5 L770.4,412.6 L771.2,412.6 L772.1,412.5 L772.9,412.4 L773.7,412.2 L774.5,411.9 L775.3,411.5 L776.2,411.0 L777.0,410.3 L777.8,409.0" fill="none" stroke="#00f" stroke-width="1.1"/>
<line x1="629.4" y1="407.8" x2="629.4" y2="414" stroke="#0f0" stroke-width="1.1" />
<line x1="659.4" y1="406.5" x2="659.4" y2="418.5" stroke="#0f0" stroke-width="1.1" />
<line x1="760.6" y1="404.8" x2="760.6" y2="419" stroke="#0f0" stroke-width="1.1" />
<line x1="648.2" y1="404.8" x2="648.2" y2="413.5" stroke="#f00" stroke-width="1.1" />
<line x1="738.2" y1="410" x2="738.2" y2="419" stroke="#f00" stroke-width="1.1" />
<line x1="769.4" y1="409" x2="769.4" y2="416.5" stroke="#f00" stroke-width="1.1" />
<line x1="605.5" y1="394.5" x2="605.5" y2="421.5" stroke="#000" stroke-width="1.3" />
<line x1="603.9" y1="394.5" x2="607.1" y2="394.5" stroke="#000" stroke-width="1" />
<line x1="603.9" y1="401.25" x2="607.1" y2="401.25" stroke="#000" stroke-width="1" />
<line x1="603.9" y1="408.0" x2="607.1" y2="408.0" stroke="#000" stroke-width="1" />
<line x1="603.9" y1="414.75" x2="607.1" y2="414.75" stroke="#000" stroke-width="1" />
<line x1="603.9" y1="421.5" x2="607.1" y2="421.5" stroke="#000" stroke-width="1" />
<line x1="778.5" y1="394.5" x2="778.5" y2="421.5" stroke="#000" stroke-width="1.3" />
<line x1="776.9" y1="394.5" x2="780.1" y2="394.5" stroke="#000" stroke-width="1" />
<line x1="776.9" y1="401.25" x2="780.1" y2="401.25" stroke="#000" stroke-width="1" />
<line x1="776.9" y1="408.0" x2="780.1" y2="408.0" stroke="#000" stroke-width="1" />
<line x1="776.9" y1="414.75" x2="780.1" y2="414.75" stroke="#000" stroke-width="1" />
<line x1="776.9" y1="421.5" x2="780.1" y2="421.5" stroke="#000" stroke-width="1" />
<line x1="605.5" y1="421.5" x2="778.5" y2="421.5" stroke="#000" stroke-width="1.2" />
<line x1="605.5" y1="394.5" x2="778.5" y2="394.5" stroke="#000" stroke-width="1" />
<line x1="605.5" y1="421.5" x2="605.5" y2="423.0" stroke="#000" stroke-width="1" />
<line x1="616.3125" y1="421.5" x2="616.3125" y2="423.0" stroke="#000" stroke-width="1" />
<line x1="627.125" y1="421.5" x2="627.125" y2="423.0" stroke="#000" stroke-width="1" />
<line x1="637.9375" y1="421.5" x2="637.9375" y2="423.0" stroke="#000" stroke-width="1" />
<line x1="648.75" y1="421.5" x2="648.75" y2="423.0" stroke="#000" stroke-width="1" />
<line x1="659.5625" y1="421.5" x2="659.5625" y2="423.0" stroke="#000" stroke-width="1" />
<line x1="670.375" y1="421.5" x2="670.375" y2="423.0" stroke="#000" stroke-width="1" />
<line x1="681.1875" y1="421.5" x2="681.1875" y2="423.0" stroke="#000" stroke-width="1" />
<line x1="692.0" y1="421.5" x2="692.0" y2="423.0" stroke="#000" stroke-width="1" />
<line x1="702.8125" y1="421.5" x2="702.8125" y2="423.0" stroke="#000" stroke-width="1" />
<line x1="713.625" y1="421.5" x2="713.625" y2="423.0" stroke="#000" stroke-width="1" />
<line x1="724.4375" y1="421.5" x2="724.4375" y2="423.0" stroke="#000" stroke-width="1" />
<line x1="735.25" y1="421.5" x2="735.25" y2="423.0" stroke="#000" stroke-width="1" />
<line x1="746.0625" y1="421.5" x2="746.0625" y2="423.0" stroke="#000" stroke-width="1" />
<line x1="756.875" y1="421.5" x2="756.875" y2="423.0" stroke="#000" stroke-width="1" />
<line x1="767.6875" y1="421.5" x2="767.6875" y2="423.0" stroke="#000" stroke-width="1" />
<line x1="778.5" y1="421.5" x2="778.5" y2="423.0" stroke="#000" stroke-width="1" />
<text x="592.3" y="395.7" font-size="3.4" fill="#000" stroke="#000" stroke-width="0.06">10.00</text>
<text x="592.3" y="402.45" font-size="3.4" fill="#000" stroke="#000" stroke-width="0.06">7.50</text>
<text x="592.3" y="409.2" font-size="3.4" fill="#000" stroke="#000" stroke-width="0.06">5.00</text>
<text x="592.3" y="415.95" font-size="3.4" fill="#000" stroke="#000" stroke-width="0.06">2.50</text>
<text x="592.3" y="422.7" font-size="3.4" fill="#000" stroke="#000" stroke-width="0.06">0.00</text>
<text x="781" y="395.7" font-size="3.4" fill="#000" stroke="#000" stroke-width="0.06">0.280</text>
<text x="781" y="402.45" font-size="3.4" fill="#000" stroke="#000" stroke-width="0.06">0.210</text>
<text x="781" y="409.2" font-size="3.4" fill="#000" stroke="#000" stroke-width="0.06">0.140</text>
<text x="781" y="415.95" font-size="3.4" fill="#000" stroke="#000" stroke-width="0.06">0.070</text>
<text x="781" y="422.7" font-size="3.4" fill="#000" stroke="#000" stroke-width="0.06">0.000</text>
<text x="781" y="419.5" font-size="3.4" fill="#000" stroke="#000" stroke-width="0.06">0.045 MG</text>
<rect x="627.9" y="393" width="4" height="3" fill="#fff"/>
<line x1="629.9" y1="387" x2="629.9" y2="401.5" stroke="#3a3020" stroke-width="1.6" stroke-dasharray="1.6,0.8"/>
<rect x="645.5" y="393" width="4" height="3" fill="#fff"/>
<line x1="647.5" y1="387" x2="647.5" y2="401.5" stroke="#3a3020" stroke-width="1.6" stroke-dasharray="1.6,0.8"/>
<rect x="657.5" y="393" width="4" height="3" fill="#fff"/>
<line x1="659.5" y1="387" x2="659.5" y2="401.5" stroke="#3a3020" stroke-width="1.6" stroke-dasharray="1.6,0.8"/>
<rect x="736.2" y="393" width="4" height="3" fill="#fff"/>
<line x1="738.2" y1="387" x2="738.2" y2="401.5" stroke="#3a3020" stroke-width="1.6" stroke-dasharray="1.6,0.8"/>
<rect x="758.6" y="393" width="4" height="3" fill="#fff"/>
<line x1="760.6" y1="387" x2="760.6" y2="401.5" stroke="#3a3020" stroke-width="1.6" stroke-dasharray="1.6,0.8"/>
<rect x="767.4" y="393" width="4" height="3" fill="#fff"/>
<line x1="769.4" y1="387" x2="769.4" y2="401.5" stroke="#3a3020" stroke-width="1.6" stroke-dasharray="1.6,0.8"/>
<text x="691" y="425.8" font-size="3.5" fill="#000" stroke="#000" stroke-width="0.06" text-anchor="middle" font-weight="bold">Position</text>
<path d="M704.8,425.5 L708.2,425.5 L706.5,421.3 Z" fill="none" stroke="#000" stroke-width="0.7"/>
<text x="605.5" y="430.6" font-size="3.4" fill="#000" stroke="#000" stroke-width="0.06" text-anchor="middle">0.0°</text>
<text x="616.3125" y="430.6" font-size="3.4" fill="#000" stroke="#000" stroke-width="0.06" text-anchor="middle">22.5°</text>
<text x="627.125" y="430.6" font-size="3.4" fill="#000" stroke="#000" stroke-width="0.06" text-anchor="middle">45.0°</text>
<text x="637.9375" y="430.6" font-size="3.4" fill="#000" stroke="#000" stroke-width="0.06" text-anchor="middle">67.5°</text>
<text x="648.75" y="430.6" font-size="3.4" fill="#000" stroke="#000" stroke-width="0.06" text-anchor="middle">90.0°</text>
<text x="659.5625" y="430.6" font-size="3.4" fill="#000" stroke="#000" stroke-width="0.06" text-anchor="middle">112.5°</text>
<text x="670.375" y="430.6" font-size="3.4" fill="#000" stroke="#000" stroke-width="0.06" text-anchor="middle">135.0°</text>
<text x="681.1875" y="430.6" font-size="3.4" fill="#000" stroke="#000" stroke-width="0.06" text-anchor="middle">157.5°</text>
<text x="692.0" y="430.6" font-size="3.4" fill="#000" stroke="#000" stroke-width="0.06" text-anchor="middle">180.0°</text>
<text x="702.8125" y="430.6" font-size="3.4" fill="#000" stroke="#000" stroke-width="0.06" text-anchor="middle">202.5°</text>
<text x="713.625" y="430.6" font-size="3.4" fill="#000" stroke="#000" stroke-width="0.06" text-anchor="middle">225.0°</text>
<text x="724.4375" y="430.6" font-size="3.4" fill="#000" stroke="#000" stroke-width="0.06" text-anchor="middle">247.5°</text>
<text x="735.25" y="430.6" font-size="3.4" fill="#000" stroke="#000" stroke-width="0.06" text-anchor="middle">270.0°</text>
<text x="746.0625" y="430.6" font-size="3.4" fill="#000" stroke="#000" stroke-width="0.06" text-anchor="middle">292.5°</text>
<text x="756.875" y="430.6" font-size="3.4" fill="#000" stroke="#000" stroke-width="0.06" text-anchor="middle">315.0°</text>
<text x="767.6875" y="430.6" font-size="3.4" fill="#000" stroke="#000" stroke-width="0.06" text-anchor="middle">337.5°</text>
<text x="778.5" y="430.6" font-size="3.4" fill="#000" stroke="#000" stroke-width="0.06" text-anchor="middle">360.0°</text>
<line x1="603.9" y1="433.4" x2="630" y2="433.4" stroke="#00f" stroke-width="1.1" />
<text x="631.2" y="434.6" font-size="3.5" fill="#000" stroke="#000" stroke-width="0.06" font-weight="bold">girdle thickness</text>
<text x="592" y="444.6" font-size="3.35" fill="#000" stroke="#000" stroke-width="0.06" font-weight="bold">Diameter deviation, mm</text>
<text x="797" y="444.6" font-size="3.35" fill="#000" stroke="#000" stroke-width="0.06" text-anchor="end" font-weight="bold">Diameter, mm</text>
<polygon points="609.0,473.0 609.5,472.9 610.0,472.8 610.5,472.7 611.0,472.5 611.5,472.4 612.0,472.2 612.5,472.0 613.0,471.9 613.5,471.7 614.0,471.5 614.6,471.3 615.1,471.0 615.6,470.8 616.1,470.6 616.6,470.3 617.1,470.0 617.6,469.8 618.1,469.5 618.6,469.2 619.1,468.8 619.6,468.5 620.2,468.2 620.7,467.8 621.2,467.4 621.7,467.0 622.2,466.6 622.7,466.2 623.2,465.8 623.7,465.4 624.2,464.9 624.7,464.4 625.2,464.0 625.8,463.5 626.3,463.0 626.8,462.5 627.3,462.0 627.8,461.4 628.3,460.9 628.8,460.4 629.3,459.8 629.8,459.3 630.3,458.7 630.8,458.1 631.3,457.6 631.9,457.0 632.4,456.4 632.9,455.9 633.4,455.3 633.9,454.7 634.4,454.2 634.9,453.6 635.4,453.1 635.9,452.5 636.4,452.0 636.9,451.5 637.5,451.0 638.0,450.5 638.5,450.0 639.0,449.5 639.5,449.1 640.0,448.7 640.5,448.3 641.0,447.9 641.5,447.5 642.0,447.1 642.5,447.0 643.1,447.0 643.6,447.0 644.1,447.0 644.6,447.0 645.1,447.0 645.6,447.0 646.1,447.0 646.6,447.0 647.1,447.0 647.6,447.0 648.1,447.0 648.6,447.0 649.2,447.0 649.7,447.0 650.2,447.0 650.7,447.0 651.2,447.0 651.7,447.0 652.2,447.0 652.7,447.0 653.2,447.0 653.7,447.0 654.2,447.1 654.8,447.4 655.3,447.8 655.8,448.2 656.3,448.6 656.8,449.0 657.3,449.4 657.8,449.9 658.3,450.4 658.8,450.9 659.3,451.4 659.8,451.9 660.4,452.4 660.9,453.0 661.4,453.5 661.9,454.1 662.4,454.6 662.9,455.2 663.4,455.7 663.9,456.3 664.4,456.9 664.9,457.4 665.4,458.0 665.9,458.6 666.5,459.1 667.0,459.7 667.5,460.2 668.0,460.8 668.5,461.3 669.0,461.8 669.5,462.4 670.0,462.9 670.5,463.4 671.0,463.9 671.5,464.3 672.1,464.8 672.6,465.3 673.1,465.7 673.6,466.1 674.1,466.5 674.6,466.9 675.1,467.3 675.6,467.7 676.1,468.1 676.6,468.4 677.1,468.8 677.7,469.1 678.2,469.4 678.7,469.7 679.2,470.0 679.7,470.3 680.2,470.5 680.7,470.8 681.2,471.0 681.7,471.2 682.2,471.4 682.7,471.6 683.2,471.8 683.8,472.0 684.3,472.2 684.8,472.3 685.3,472.5 685.8,472.6 686.3,472.8 686.8,472.9 687.3,473.0 687.8,473.1 688.3,473.2 688.8,473.3 689.4,473.4 689.9,473.5 690.4,473.6 690.9,473.7 691.4,473.7 691.9,473.8 692.4,473.9 692.9,473.9 693.4,474.0 693.9,474.0 694.4,474.0 695.0,474.1 695.5,474.1" fill="#c0c0c0" stroke="none"/>
<path d="M609.0,473.0 L609.5,472.9 L610.0,472.8 L610.5,472.7 L611.0,472.5 L611.5,472.4 L612.0,472.2 L612.5,472.0 L613.0,471.9 L613.5,471.7 L614.0,471.5 L614.6,471.3 L615.1,471.0 L615.6,470.8 L616.1,470.6 L616.6,470.3 L617.1,470.0 L617.6,469.8 L618.1,469.5 L618.6,469.2 L619.1,468.8 L619.6,468.5 L620.2,468.2 L620.7,467.8 L621.2,467.4 L621.7,467.0 L622.2,466.6 L622.7,466.2 L623.2,465.8 L623.7,465.4 L624.2,464.9 L624.7,464.4 L625.2,464.0 L625.8,463.5 L626.3,463.0 L626.8,462.5 L627.3,462.0 L627.8,461.4 L628.3,460.9 L628.8,460.4 L629.3,459.8 L629.8,459.3 L630.3,458.7 L630.8,458.1 L631.3,457.6 L631.9,457.0 L632.4,456.4 L632.9,455.9 L633.4,455.3 L633.9,454.7 L634.4,454.2 L634.9,453.6 L635.4,453.1 L635.9,452.5 L636.4,452.0 L636.9,451.5 L637.5,451.0 L638.0,450.5 L638.5,450.0 L639.0,449.5 L639.5,449.1 L640.0,448.7 L640.5,448.3 L641.0,447.9 L641.5,447.5 L642.0,447.1 L642.5,447.0 L643.1,447.0 L643.6,447.0 L644.1,447.0 L644.6,447.0 L645.1,447.0 L645.6,447.0 L646.1,447.0 L646.6,447.0 L647.1,447.0 L647.6,447.0 L648.1,447.0 L648.6,447.0 L649.2,447.0 L649.7,447.0 L650.2,447.0 L650.7,447.0 L651.2,447.0 L651.7,447.0 L652.2,447.0 L652.7,447.0 L653.2,447.0 L653.7,447.0 L654.2,447.1 L654.8,447.4 L655.3,447.8 L655.8,448.2 L656.3,448.6 L656.8,449.0 L657.3,449.4 L657.8,449.9 L658.3,450.4 L658.8,450.9 L659.3,451.4 L659.8,451.9 L660.4,452.4 L660.9,453.0 L661.4,453.5 L661.9,454.1 L662.4,454.6 L662.9,455.2 L663.4,455.7 L663.9,456.3 L664.4,456.9 L664.9,457.4 L665.4,458.0 L665.9,458.6 L666.5,459.1 L667.0,459.7 L667.5,460.2 L668.0,460.8 L668.5,461.3 L669.0,461.8 L669.5,462.4 L670.0,462.9 L670.5,463.4 L671.0,463.9 L671.5,464.3 L672.1,464.8 L672.6,465.3 L673.1,465.7 L673.6,466.1 L674.1,466.5 L674.6,466.9 L675.1,467.3 L675.6,467.7 L676.1,468.1 L676.6,468.4 L677.1,468.8 L677.7,469.1 L678.2,469.4 L678.7,469.7 L679.2,470.0 L679.7,470.3 L680.2,470.5 L680.7,470.8 L681.2,471.0 L681.7,471.2 L682.2,471.4 L682.7,471.6 L683.2,471.8 L683.8,472.0 L684.3,472.2 L684.8,472.3 L685.3,472.5 L685.8,472.6 L686.3,472.8 L686.8,472.9 L687.3,473.0 L687.8,473.1 L688.3,473.2 L688.8,473.3 L689.4,473.4 L689.9,473.5 L690.4,473.6 L690.9,473.7 L691.4,473.7 L691.9,473.8 L692.4,473.9 L692.9,473.9 L693.4,474.0 L693.9,474.0 L694.4,474.0 L695.0,474.1 L695.5,474.1" fill="none" stroke="#000" stroke-width="0.9"/>
<rect x="639.9" y="447.0" width="16.7" height="27.5" fill="#0f0"/>
<line x1="648.2" y1="447.0" x2="648.2" y2="474.5" stroke="#000" stroke-width="1.1" />
<line x1="609.36" y1="447.0" x2="609.36" y2="474.5" stroke="#000" stroke-width="1" />
<line x1="614.7" y1="473.7" x2="617.7" y2="472.7" stroke="#f00" stroke-width="1" />
<line x1="680.7" y1="473.7" x2="683.7" y2="472.7" stroke="#f00" stroke-width="1" />
<polygon points="695.5,473.1 696.0,473.0 696.5,472.8 697.0,472.7 697.5,472.6 698.0,472.4 698.5,472.2 699.0,472.1 699.5,471.9 700.0,471.7 700.5,471.5 701.1,471.3 701.6,471.1 702.1,470.9 702.6,470.6 703.1,470.4 703.6,470.1 704.1,469.8 704.6,469.5 705.1,469.2 705.6,468.9 706.1,468.6 706.7,468.2 707.2,467.9 707.7,467.5 708.2,467.1 708.7,466.7 709.2,466.3 709.7,465.9 710.2,465.5 710.7,465.0 711.2,464.5 711.7,464.1 712.3,463.6 712.8,463.1 713.3,462.6 713.8,462.1 714.3,461.5 714.8,461.0 715.3,460.5 715.8,459.9 716.3,459.4 716.8,458.8 717.3,458.3 717.8,457.7 718.4,457.1 718.9,456.6 719.4,456.0 719.9,455.4 720.4,454.9 720.9,454.3 721.4,453.7 721.9,453.2 722.4,452.6 722.9,452.1 723.4,451.6 724.0,451.1 724.5,450.6 725.0,450.1 725.5,449.6 726.0,449.2 726.5,448.7 727.0,448.3 727.5,447.9 728.0,447.6 728.5,447.2 729.0,447.0 729.6,447.0 730.1,447.0 730.6,447.0 731.1,447.0 731.6,447.0 732.1,447.0 732.6,447.0 733.1,447.0 733.6,447.0 734.1,447.0 734.6,447.0 735.1,447.0 735.7,447.0 736.2,447.0 736.7,447.0 737.2,447.0 737.7,447.0 738.2,447.0 738.7,447.0 739.2,447.0 739.7,447.0 740.2,447.0 740.7,447.0 741.3,447.3 741.8,447.7 742.3,448.1 742.8,448.5 743.3,448.9 743.8,449.3 744.3,449.8 744.8,450.3 745.3,450.8 745.8,451.3 746.3,451.8 746.9,452.3 747.4,452.8 747.9,453.4 748.4,453.9 748.9,454.5 749.4,455.1 749.9,455.6 750.4,456.2 750.9,456.8 751.4,457.3 751.9,457.9 752.4,458.5 753.0,459.0 753.5,459.6 754.0,460.1 754.5,460.7 755.0,461.2 755.5,461.7 756.0,462.3 756.5,462.8 757.0,463.3 757.5,463.8 758.0,464.2 758.6,464.7 759.1,465.2 759.6,465.6 760.1,466.0 760.6,466.5 761.1,466.9 761.6,467.3 762.1,467.6 762.6,468.0 763.1,468.4 763.6,468.7 764.2,469.0 764.7,469.3 765.2,469.6 765.7,469.9 766.2,470.2 766.7,470.5 767.2,470.7 767.7,470.9 768.2,471.2 768.7,471.4 769.2,471.6 769.7,471.8 770.3,472.0 770.8,472.1 771.3,472.3 771.8,472.5 772.3,472.6 772.8,472.7 773.3,472.9 773.8,473.0 774.3,473.1 774.8,473.2 775.3,473.3 775.9,473.4 776.4,473.5 776.9,473.6 777.4,473.6 777.9,473.7 778.4,473.8 778.9,473.8 779.4,473.9 779.9,473.9 780.4,474.0 780.9,474.0 781.5,474.1 782.0,474.1" fill="#c0c0c0" stroke="none"/>
<path d="M695.5,473.1 L696.0,473.0 L696.5,472.8 L697.0,472.7 L697.5,472.6 L698.0,472.4 L698.5,472.2 L699.0,472.1 L699.5,471.9 L700.0,471.7 L700.5,471.5 L701.1,471.3 L701.6,471.1 L702.1,470.9 L702.6,470.6 L703.1,470.4 L703.6,470.1 L704.1,469.8 L704.6,469.5 L705.1,469.2 L705.6,468.9 L706.1,468.6 L706.7,468.2 L707.2,467.9 L707.7,467.5 L708.2,467.1 L708.7,466.7 L709.2,466.3 L709.7,465.9 L710.2,465.5 L710.7,465.0 L711.2,464.5 L711.7,464.1 L712.3,463.6 L712.8,463.1 L713.3,462.6 L713.8,462.1 L714.3,461.5 L714.8,461.0 L715.3,460.5 L715.8,459.9 L716.3,459.4 L716.8,458.8 L717.3,458.3 L717.8,457.7 L718.4,457.1 L718.9,456.6 L719.4,456.0 L719.9,455.4 L720.4,454.9 L720.9,454.3 L721.4,453.7 L721.9,453.2 L722.4,452.6 L722.9,452.1 L723.4,451.6 L724.0,451.1 L724.5,450.6 L725.0,450.1 L725.5,449.6 L726.0,449.2 L726.5,448.7 L727.0,448.3 L727.5,447.9 L728.0,447.6 L728.5,447.2 L729.0,447.0 L729.6,447.0 L730.1,447.0 L730.6,447.0 L731.1,447.0 L731.6,447.0 L732.1,447.0 L732.6,447.0 L733.1,447.0 L733.6,447.0 L734.1,447.0 L734.6,447.0 L735.1,447.0 L735.7,447.0 L736.2,447.0 L736.7,447.0 L737.2,447.0 L737.7,447.0 L738.2,447.0 L738.7,447.0 L739.2,447.0 L739.7,447.0 L740.2,447.0 L740.7,447.0 L741.3,447.3 L741.8,447.7 L742.3,448.1 L742.8,448.5 L743.3,448.9 L743.8,449.3 L744.3,449.8 L744.8,450.3 L745.3,450.8 L745.8,451.3 L746.3,451.8 L746.9,452.3 L747.4,452.8 L747.9,453.4 L748.4,453.9 L748.9,454.5 L749.4,455.1 L749.9,455.6 L750.4,456.2 L750.9,456.8 L751.4,457.3 L751.9,457.9 L752.4,458.5 L753.0,459.0 L753.5,459.6 L754.0,460.1 L754.5,460.7 L755.0,461.2 L755.5,461.7 L756.0,462.3 L756.5,462.8 L757.0,463.3 L757.5,463.8 L758.0,464.2 L758.6,464.7 L759.1,465.2 L759.6,465.6 L760.1,466.0 L760.6,466.5 L761.1,466.9 L761.6,467.3 L762.1,467.6 L762.6,468.0 L763.1,468.4 L763.6,468.7 L764.2,469.0 L764.7,469.3 L765.2,469.6 L765.7,469.9 L766.2,470.2 L766.7,470.5 L767.2,470.7 L767.7,470.9 L768.2,471.2 L768.7,471.4 L769.2,471.6 L769.7,471.8 L770.3,472.0 L770.8,472.1 L771.3,472.3 L771.8,472.5 L772.3,472.6 L772.8,472.7 L773.3,472.9 L773.8,473.0 L774.3,473.1 L774.8,473.2 L775.3,473.3 L775.9,473.4 L776.4,473.5 L776.9,473.6 L777.4,473.6 L777.9,473.7 L778.4,473.8 L778.9,473.8 L779.4,473.9 L779.9,473.9 L780.4,474.0 L780.9,474.0 L781.5,474.1 L782.0,474.1" fill="none" stroke="#000" stroke-width="0.9"/>
<rect x="726.5" y="447.0" width="16.7" height="27.5" fill="#0f0"/>
<line x1="734.8" y1="447.0" x2="734.8" y2="474.5" stroke="#000" stroke-width="1.1" />
<line x1="695.86" y1="447.0" x2="695.86" y2="474.5" stroke="#000" stroke-width="1" />
<line x1="701.3" y1="473.7" x2="704.3" y2="472.7" stroke="#f00" stroke-width="1" />
<line x1="767.3" y1="473.7" x2="770.3" y2="472.7" stroke="#f00" stroke-width="1" />
<line x1="605.5" y1="447.0" x2="778.5" y2="447.0" stroke="#000" stroke-width="2" />
<line x1="605.5" y1="474.5" x2="778.5" y2="474.5" stroke="#000" stroke-width="1.2" />
<line x1="605.5" y1="461.5" x2="778.5" y2="461.5" stroke="#000" stroke-width="1" />
<line x1="605.5" y1="447.0" x2="605.5" y2="480.5" stroke="#000" stroke-width="1.3" />
<line x1="603.9" y1="447.0" x2="607.1" y2="447.0" stroke="#000" stroke-width="1" />
<line x1="603.9" y1="453.7" x2="607.1" y2="453.7" stroke="#000" stroke-width="1" />
<line x1="603.9" y1="460.4" x2="607.1" y2="460.4" stroke="#000" stroke-width="1" />
<line x1="603.9" y1="467.1" x2="607.1" y2="467.1" stroke="#000" stroke-width="1" />
<line x1="603.9" y1="473.8" x2="607.1" y2="473.8" stroke="#000" stroke-width="1" />
<line x1="603.9" y1="480.5" x2="607.1" y2="480.5" stroke="#000" stroke-width="1" />
<line x1="778.5" y1="447.0" x2="778.5" y2="480.5" stroke="#000" stroke-width="1.3" />
<line x1="605.5" y1="474.5" x2="605.5" y2="476.0" stroke="#000" stroke-width="1" />
<line x1="616.3125" y1="474.5" x2="616.3125" y2="476.0" stroke="#000" stroke-width="1" />
<line x1="627.125" y1="474.5" x2="627.125" y2="476.0" stroke="#000" stroke-width="1" />
<line x1="637.9375" y1="474.5" x2="637.9375" y2="476.0" stroke="#000" stroke-width="1" />
<line x1="648.75" y1="474.5" x2="648.75" y2="476.0" stroke="#000" stroke-width="1" />
<line x1="659.5625" y1="474.5" x2="659.5625" y2="476.0" stroke="#000" stroke-width="1" />
<line x1="670.375" y1="474.5" x2="670.375" y2="476.0" stroke="#000" stroke-width="1" />
<line x1="681.1875" y1="474.5" x2="681.1875" y2="476.0" stroke="#000" stroke-width="1" />
<line x1="692.0" y1="474.5" x2="692.0" y2="476.0" stroke="#000" stroke-width="1" />
<line x1="702.8125" y1="474.5" x2="702.8125" y2="476.0" stroke="#000" stroke-width="1" />
<line x1="713.625" y1="474.5" x2="713.625" y2="476.0" stroke="#000" stroke-width="1" />
<line x1="724.4375" y1="474.5" x2="724.4375" y2="476.0" stroke="#000" stroke-width="1" />
<line x1="735.25" y1="474.5" x2="735.25" y2="476.0" stroke="#000" stroke-width="1" />
<line x1="746.0625" y1="474.5" x2="746.0625" y2="476.0" stroke="#000" stroke-width="1" />
<line x1="756.875" y1="474.5" x2="756.875" y2="476.0" stroke="#000" stroke-width="1" />
<line x1="767.6875" y1="474.5" x2="767.6875" y2="476.0" stroke="#000" stroke-width="1" />
<line x1="778.5" y1="474.5" x2="778.5" y2="476.0" stroke="#000" stroke-width="1" />
<text x="592.3" y="448.2" font-size="3.4" fill="#000" stroke="#000" stroke-width="0.06">2.800</text>
<text x="592.3" y="454.9" font-size="3.4" fill="#000" stroke="#000" stroke-width="0.06">2.100</text>
<text x="592.3" y="461.59999999999997" font-size="3.4" fill="#000" stroke="#000" stroke-width="0.06">1.400</text>
<text x="592.3" y="468.3" font-size="3.4" fill="#000" stroke="#000" stroke-width="0.06">0.700</text>
<text x="592.3" y="475.0" font-size="3.4" fill="#000" stroke="#000" stroke-width="0.06">0.000</text>
<text x="592.3" y="481.7" font-size="3.4" fill="#000" stroke="#000" stroke-width="0.06">-0.700</text>
<text x="780" y="448.2" font-size="3.4" fill="#000" stroke="#000" stroke-width="0.06">5.594 max</text>
<text x="780" y="462.7" font-size="3.4" fill="#000" stroke="#000" stroke-width="0.06">4.110 avg</text>
<text x="780" y="474.7" font-size="3.4" fill="#000" stroke="#000" stroke-width="0.06">2.833 min</text>
<text x="780" y="477.1" font-size="3.4" fill="#000" stroke="#000" stroke-width="0.06">2.627 MG</text>
<path d="M704.8,472 L708.2,472 L706.5,467.8 Z" fill="none" stroke="#000" stroke-width="0.7"/>
<text x="608.96" y="485.3" font-size="3.4" fill="#f00" stroke="#f00" stroke-width="0.06" text-anchor="middle">7.2°</text>
<text x="648.75" y="485.3" font-size="3.4" fill="#0c0" stroke="#0c0" stroke-width="0.06" text-anchor="middle">90.0°</text>
<text x="695.46" y="485.3" font-size="3.4" fill="#f00" stroke="#f00" stroke-width="0.06" text-anchor="middle">187.2°</text>
<text x="735.25" y="485.3" font-size="3.4" fill="#0c0" stroke="#0c0" stroke-width="0.06" text-anchor="middle">270.0°</text>
<text x="605.5" y="489.6" font-size="3.4" fill="#000" stroke="#000" stroke-width="0.06" text-anchor="middle">0.0°</text>
<text x="616.3125" y="489.6" font-size="3.4" fill="#000" stroke="#000" stroke-width="0.06" text-anchor="middle">22.5°</text>
<text x="627.125" y="489.6" font-size="3.4" fill="#000" stroke="#000" stroke-width="0.06" text-anchor="middle">45.0°</text>
<text x="637.9375" y="489.6" font-size="3.4" fill="#000" stroke="#000" stroke-width="0.06" text-anchor="middle">67.5°</text>
<text x="648.75" y="489.6" font-size="3.4" fill="#000" stroke="#000" stroke-width="0.06" text-anchor="middle">90.0°</text>
<text x="659.5625" y="489.6" font-size="3.4" fill="#000" stroke="#000" stroke-width="0.06" text-anchor="middle">112.5°</text>
<text x="670.375" y="489.6" font-size="3.4" fill="#000" stroke="#000" stroke-width="0.06" text-anchor="middle">135.0°</text>
<text x="681.1875" y="489.6" font-size="3.4" fill="#000" stroke="#000" stroke-width="0.06" text-anchor="middle">157.5°</text>
<text x="692.0" y="489.6" font-size="3.4" fill="#000" stroke="#000" stroke-width="0.06" text-anchor="middle">180.0°</text>
<text x="702.8125" y="489.6" font-size="3.4" fill="#000" stroke="#000" stroke-width="0.06" text-anchor="middle">202.5°</text>
<text x="713.625" y="489.6" font-size="3.4" fill="#000" stroke="#000" stroke-width="0.06" text-anchor="middle">225.0°</text>
<text x="724.4375" y="489.6" font-size="3.4" fill="#000" stroke="#000" stroke-width="0.06" text-anchor="middle">247.5°</text>
<text x="735.25" y="489.6" font-size="3.4" fill="#000" stroke="#000" stroke-width="0.06" text-anchor="middle">270.0°</text>
<text x="746.0625" y="489.6" font-size="3.4" fill="#000" stroke="#000" stroke-width="0.06" text-anchor="middle">292.5°</text>
<text x="756.875" y="489.6" font-size="3.4" fill="#000" stroke="#000" stroke-width="0.06" text-anchor="middle">315.0°</text>
<text x="767.6875" y="489.6" font-size="3.4" fill="#000" stroke="#000" stroke-width="0.06" text-anchor="middle">337.5°</text>
<text x="778.5" y="489.6" font-size="3.4" fill="#000" stroke="#000" stroke-width="0.06" text-anchor="middle">360.0°</text>
<text x="592" y="499.6" font-size="3.35" fill="#000" stroke="#000" stroke-width="0.06" font-weight="bold">Radius deviation, mm</text>
<text x="797" y="499.6" font-size="3.35" fill="#000" stroke="#000" stroke-width="0.06" text-anchor="end" font-weight="bold">Radius, mm</text>
<polygon points="615.1,529.5 615.6,529.5 616.1,529.5 616.6,529.5 617.0,529.4 617.5,529.3 618.0,529.2 618.5,529.1 619.0,528.9 619.4,528.8 619.9,528.6 620.4,528.4 620.9,528.3 621.4,528.1 621.8,527.8 622.3,527.6 622.8,527.4 623.3,527.2 623.8,526.9 624.2,526.7 624.7,526.4 625.2,526.1 625.7,525.8 626.2,525.6 626.6,525.3 627.1,525.0 627.6,524.6 628.1,524.3 628.6,524.0 629.0,523.7 629.5,523.3 630.0,523.0 630.5,522.6 631.0,522.3 631.5,521.9 631.9,521.6 632.4,521.2 632.9,520.8 633.4,520.4 633.9,520.0 634.3,519.6 634.8,519.2 635.3,518.8 635.8,518.4 636.3,517.9 636.7,517.5 637.2,517.1 637.7,516.6 638.2,516.2 638.7,515.7 639.1,515.3 639.6,514.8 640.1,514.4 640.6,513.9 641.1,513.4 641.5,512.9 642.0,512.4 642.5,512.0 643.0,511.5 643.5,511.0 643.9,510.4 644.4,509.9 644.9,509.4 645.4,508.9 645.9,508.4 646.3,507.8 646.8,507.3 647.3,506.8 647.8,506.2 648.3,505.7 648.8,505.1 649.2,505.7 649.7,506.2 650.2,506.8 650.7,507.3 651.2,507.8 651.6,508.4 652.1,508.9 652.6,509.4 653.1,509.9 653.6,510.4 654.0,511.0 654.5,511.5 655.0,512.0 655.5,512.4 656.0,512.9 656.4,513.4 656.9,513.9 657.4,514.4 657.9,514.8 658.4,515.3 658.8,515.7 659.3,516.2 659.8,516.6 660.3,517.1 660.8,517.5 661.2,517.9 661.7,518.4 662.2,518.8 662.7,519.2 663.2,519.6 663.6,520.0 664.1,520.4 664.6,520.8 665.1,521.2 665.6,521.6 666.0,521.9 666.5,522.3 667.0,522.6 667.5,523.0 668.0,523.3 668.5,523.7 668.9,524.0 669.4,524.3 669.9,524.6 670.4,525.0 670.9,525.3 671.3,525.6 671.8,525.8 672.3,526.1 672.8,526.4 673.3,526.7 673.7,526.9 674.2,527.2 674.7,527.4 675.2,527.6 675.7,527.8 676.1,528.1 676.6,528.3 677.1,528.4 677.6,528.6 678.1,528.8 678.5,528.9 679.0,529.1 679.5,529.2 680.0,529.3 680.5,529.4 680.9,529.5 681.4,529.5 681.9,529.5 682.4,529.5" fill="#c0c0c0" stroke="none"/>
<path d="M615.1,529.5 L615.6,529.5 L616.1,529.5 L616.6,529.5 L617.0,529.4 L617.5,529.3 L618.0,529.2 L618.5,529.1 L619.0,528.9 L619.4,528.8 L619.9,528.6 L620.4,528.4 L620.9,528.3 L621.4,528.1 L621.8,527.8 L622.3,527.6 L622.8,527.4 L623.3,527.2 L623.8,526.9 L624.2,526.7 L624.7,526.4 L625.2,526.1 L625.7,525.8 L626.2,525.6 L626.6,525.3 L627.1,525.0 L627.6,524.6 L628.1,524.3 L628.6,524.0 L629.0,523.7 L629.5,523.3 L630.0,523.0 L630.5,522.6 L631.0,522.3 L631.5,521.9 L631.9,521.6 L632.4,521.2 L632.9,520.8 L633.4,520.4 L633.9,520.0 L634.3,519.6 L634.8,519.2 L635.3,518.8 L635.8,518.4 L636.3,517.9 L636.7,517.5 L637.2,517.1 L637.7,516.6 L638.2,516.2 L638.7,515.7 L639.1,515.3 L639.6,514.8 L640.1,514.4 L640.6,513.9 L641.1,513.4 L641.5,512.9 L642.0,512.4 L642.5,512.0 L643.0,511.5 L643.5,511.0 L643.9,510.4 L644.4,509.9 L644.9,509.4 L645.4,508.9 L645.9,508.4 L646.3,507.8 L646.8,507.3 L647.3,506.8 L647.8,506.2 L648.3,505.7 L648.8,505.1 L649.2,505.7 L649.7,506.2 L650.2,506.8 L650.7,507.3 L651.2,507.8 L651.6,508.4 L652.1,508.9 L652.6,509.4 L653.1,509.9 L653.6,510.4 L654.0,511.0 L654.5,511.5 L655.0,512.0 L655.5,512.4 L656.0,512.9 L656.4,513.4 L656.9,513.9 L657.4,514.4 L657.9,514.8 L658.4,515.3 L658.8,515.7 L659.3,516.2 L659.8,516.6 L660.3,517.1 L660.8,517.5 L661.2,517.9 L661.7,518.4 L662.2,518.8 L662.7,519.2 L663.2,519.6 L663.6,520.0 L664.1,520.4 L664.6,520.8 L665.1,521.2 L665.6,521.6 L666.0,521.9 L666.5,522.3 L667.0,522.6 L667.5,523.0 L668.0,523.3 L668.5,523.7 L668.9,524.0 L669.4,524.3 L669.9,524.6 L670.4,525.0 L670.9,525.3 L671.3,525.6 L671.8,525.8 L672.3,526.1 L672.8,526.4 L673.3,526.7 L673.7,526.9 L674.2,527.2 L674.7,527.4 L675.2,527.6 L675.7,527.8 L676.1,528.1 L676.6,528.3 L677.1,528.4 L677.6,528.6 L678.1,528.8 L678.5,528.9 L679.0,529.1 L679.5,529.2 L680.0,529.3 L680.5,529.4 L680.9,529.5 L681.4,529.5 L681.9,529.5 L682.4,529.5" fill="none" stroke="#f00" stroke-width="1.2"/>
<path d="M647.3,506.5 L648.8,503.9 L650.2,506.5" fill="none" stroke="#000" stroke-width="0.8"/>
<polygon points="701.6,529.5 702.1,529.5 702.6,529.5 703.1,529.5 703.5,529.4 704.0,529.3 704.5,529.2 705.0,529.1 705.5,528.9 705.9,528.8 706.4,528.6 706.9,528.4 707.4,528.3 707.9,528.1 708.3,527.8 708.8,527.6 709.3,527.4 709.8,527.2 710.3,526.9 710.7,526.7 711.2,526.4 711.7,526.1 712.2,525.8 712.7,525.6 713.1,525.3 713.6,525.0 714.1,524.6 714.6,524.3 715.1,524.0 715.5,523.7 716.0,523.3 716.5,523.0 717.0,522.6 717.5,522.3 718.0,521.9 718.4,521.6 718.9,521.2 719.4,520.8 719.9,520.4 720.4,520.0 720.8,519.6 721.3,519.2 721.8,518.8 722.3,518.4 722.8,517.9 723.2,517.5 723.7,517.1 724.2,516.6 724.7,516.2 725.2,515.7 725.6,515.3 726.1,514.8 726.6,514.4 727.1,513.9 727.6,513.4 728.0,512.9 728.5,512.4 729.0,512.0 729.5,511.5 730.0,511.0 730.4,510.4 730.9,509.9 731.4,509.4 731.9,508.9 732.4,508.4 732.8,507.8 733.3,507.3 733.8,506.8 734.3,506.2 734.8,505.7 735.2,505.1 735.7,505.7 736.2,506.2 736.7,506.8 737.2,507.3 737.7,507.8 738.1,508.4 738.6,508.9 739.1,509.4 739.6,509.9 740.1,510.4 740.5,511.0 741.0,511.5 741.5,512.0 742.0,512.4 742.5,512.9 742.9,513.4 743.4,513.9 743.9,514.4 744.4,514.8 744.9,515.3 745.3,515.7 745.8,516.2 746.3,516.6 746.8,517.1 747.3,517.5 747.7,517.9 748.2,518.4 748.7,518.8 749.2,519.2 749.7,519.6 750.1,520.0 750.6,520.4 751.1,520.8 751.6,521.2 752.1,521.6 752.5,521.9 753.0,522.3 753.5,522.6 754.0,523.0 754.5,523.3 755.0,523.7 755.4,524.0 755.9,524.3 756.4,524.6 756.9,525.0 757.4,525.3 757.8,525.6 758.3,525.8 758.8,526.1 759.3,526.4 759.8,526.7 760.2,526.9 760.7,527.2 761.2,527.4 761.7,527.6 762.2,527.8 762.6,528.1 763.1,528.3 763.6,528.4 764.1,528.6 764.6,528.8 765.0,528.9 765.5,529.1 766.0,529.2 766.5,529.3 767.0,529.4 767.4,529.5 767.9,529.5 768.4,529.5 768.9,529.5" fill="#c0c0c0" stroke="none"/>
<path d="M701.6,529.5 L702.1,529.5 L702.6,529.5 L703.1,529.5 L703.5,529.4 L704.0,529.3 L704.5,529.2 L705.0,529.1 L705.5,528.9 L705.9,528.8 L706.4,528.6 L706.9,528.4 L707.4,528.3 L707.9,528.1 L708.3,527.8 L708.8,527.6 L709.3,527.4 L709.8,527.2 L710.3,526.9 L710.7,526.7 L711.2,526.4 L711.7,526.1 L712.2,525.8 L712.7,525.6 L713.1,525.3 L713.6,525.0 L714.1,524.6 L714.6,524.3 L715.1,524.0 L715.5,523.7 L716.0,523.3 L716.5,523.0 L717.0,522.6 L717.5,522.3 L718.0,521.9 L718.4,521.6 L718.9,521.2 L719.4,520.8 L719.9,520.4 L720.4,520.0 L720.8,519.6 L721.3,519.2 L721.8,518.8 L722.3,518.4 L722.8,517.9 L723.2,517.5 L723.7,517.1 L724.2,516.6 L724.7,516.2 L725.2,515.7 L725.6,515.3 L726.1,514.8 L726.6,514.4 L727.1,513.9 L727.6,513.4 L728.0,512.9 L728.5,512.4 L729.0,512.0 L729.5,511.5 L730.0,511.0 L730.4,510.4 L730.9,509.9 L731.4,509.4 L731.9,508.9 L732.4,508.4 L732.8,507.8 L733.3,507.3 L733.8,506.8 L734.3,506.2 L734.8,505.7 L735.2,505.1 L735.7,505.7 L736.2,506.2 L736.7,506.8 L737.2,507.3 L737.7,507.8 L738.1,508.4 L738.6,508.9 L739.1,509.4 L739.6,509.9 L740.1,510.4 L740.5,511.0 L741.0,511.5 L741.5,512.0 L742.0,512.4 L742.5,512.9 L742.9,513.4 L743.4,513.9 L743.9,514.4 L744.4,514.8 L744.9,515.3 L745.3,515.7 L745.8,516.2 L746.3,516.6 L746.8,517.1 L747.3,517.5 L747.7,517.9 L748.2,518.4 L748.7,518.8 L749.2,519.2 L749.7,519.6 L750.1,520.0 L750.6,520.4 L751.1,520.8 L751.6,521.2 L752.1,521.6 L752.5,521.9 L753.0,522.3 L753.5,522.6 L754.0,523.0 L754.5,523.3 L755.0,523.7 L755.4,524.0 L755.9,524.3 L756.4,524.6 L756.9,525.0 L757.4,525.3 L757.8,525.6 L758.3,525.8 L758.8,526.1 L759.3,526.4 L759.8,526.7 L760.2,526.9 L760.7,527.2 L761.2,527.4 L761.7,527.6 L762.2,527.8 L762.6,528.1 L763.1,528.3 L763.6,528.4 L764.1,528.6 L764.6,528.8 L765.0,528.9 L765.5,529.1 L766.0,529.2 L766.5,529.3 L767.0,529.4 L767.4,529.5 L767.9,529.5 L768.4,529.5 L768.9,529.5" fill="none" stroke="#f00" stroke-width="1.2"/>
<path d="M733.8,506.5 L735.2,503.9 L736.7,506.5" fill="none" stroke="#000" stroke-width="0.8"/>
<line x1="605.5" y1="503.0" x2="778.5" y2="503.0" stroke="#000" stroke-width="2" />
<line x1="605.5" y1="529.5" x2="778.5" y2="529.5" stroke="#000" stroke-width="1.2" />
<line x1="605.5" y1="503.0" x2="605.5" y2="529.5" stroke="#000" stroke-width="1.3" />
<line x1="603.9" y1="503.0" x2="607.1" y2="503.0" stroke="#000" stroke-width="1" />
<line x1="603.9" y1="509.625" x2="607.1" y2="509.625" stroke="#000" stroke-width="1" />
<line x1="603.9" y1="516.25" x2="607.1" y2="516.25" stroke="#000" stroke-width="1" />
<line x1="603.9" y1="522.875" x2="607.1" y2="522.875" stroke="#000" stroke-width="1" />
<line x1="603.9" y1="529.5" x2="607.1" y2="529.5" stroke="#000" stroke-width="1" />
<line x1="778.5" y1="503.0" x2="778.5" y2="529.5" stroke="#000" stroke-width="1.3" />
<line x1="605.5" y1="529.5" x2="605.5" y2="531.0" stroke="#000" stroke-width="1" />
<line x1="616.3125" y1="529.5" x2="616.3125" y2="531.0" stroke="#000" stroke-width="1" />
<line x1="627.125" y1="529.5" x2="627.125" y2="531.0" stroke="#000" stroke-width="1" />
<line x1="637.9375" y1="529.5" x2="637.9375" y2="531.0" stroke="#000" stroke-width="1" />
<line x1="648.75" y1="529.5" x2="648.75" y2="531.0" stroke="#000" stroke-width="1" />
<line x1="659.5625" y1="529.5" x2="659.5625" y2="531.0" stroke="#000" stroke-width="1" />
<line x1="670.375" y1="529.5" x2="670.375" y2="531.0" stroke="#000" stroke-width="1" />
<line x1="681.1875" y1="529.5" x2="681.1875" y2="531.0" stroke="#000" stroke-width="1" />
<line x1="692.0" y1="529.5" x2="692.0" y2="531.0" stroke="#000" stroke-width="1" />
<line x1="702.8125" y1="529.5" x2="702.8125" y2="531.0" stroke="#000" stroke-width="1" />
<line x1="713.625" y1="529.5" x2="713.625" y2="531.0" stroke="#000" stroke-width="1" />
<line x1="724.4375" y1="529.5" x2="724.4375" y2="531.0" stroke="#000" stroke-width="1" />
<line x1="735.25" y1="529.5" x2="735.25" y2="531.0" stroke="#000" stroke-width="1" />
<line x1="746.0625" y1="529.5" x2="746.0625" y2="531.0" stroke="#000" stroke-width="1" />
<line x1="756.875" y1="529.5" x2="756.875" y2="531.0" stroke="#000" stroke-width="1" />
<line x1="767.6875" y1="529.5" x2="767.6875" y2="531.0" stroke="#000" stroke-width="1" />
<line x1="778.5" y1="529.5" x2="778.5" y2="531.0" stroke="#000" stroke-width="1" />
<text x="592.3" y="504.2" font-size="3.4" fill="#000" stroke="#000" stroke-width="0.06">1.500</text>
<text x="592.3" y="510.825" font-size="3.4" fill="#000" stroke="#000" stroke-width="0.06">1.125</text>
<text x="592.3" y="517.45" font-size="3.4" fill="#000" stroke="#000" stroke-width="0.06">0.750</text>
<text x="592.3" y="524.075" font-size="3.4" fill="#000" stroke="#000" stroke-width="0.06">0.375</text>
<text x="592.3" y="530.7" font-size="3.4" fill="#000" stroke="#000" stroke-width="0.06">0.000</text>
<text x="780" y="504.2" font-size="3.4" fill="#000" stroke="#000" stroke-width="0.06">2.831 max</text>
<text x="780" y="530.7" font-size="3.4" fill="#000" stroke="#000" stroke-width="0.06">1.416 MG</text>
<path d="M704.8,529 L708.2,529 L706.5,524.8 Z" fill="none" stroke="#000" stroke-width="0.7"/>
<text x="605.5" y="538.9" font-size="3.4" fill="#000" stroke="#000" stroke-width="0.06" text-anchor="middle">0.0°</text>
<text x="616.3125" y="538.9" font-size="3.4" fill="#000" stroke="#000" stroke-width="0.06" text-anchor="middle">22.5°</text>
<text x="627.125" y="538.9" font-size="3.4" fill="#000" stroke="#000" stroke-width="0.06" text-anchor="middle">45.0°</text>
<text x="637.9375" y="538.9" font-size="3.4" fill="#000" stroke="#000" stroke-width="0.06" text-anchor="middle">67.5°</text>
<text x="648.75" y="538.9" font-size="3.4" fill="#000" stroke="#000" stroke-width="0.06" text-anchor="middle">90.0°</text>
<text x="659.5625" y="538.9" font-size="3.4" fill="#000" stroke="#000" stroke-width="0.06" text-anchor="middle">112.5°</text>
<text x="670.375" y="538.9" font-size="3.4" fill="#000" stroke="#000" stroke-width="0.06" text-anchor="middle">135.0°</text>
<text x="681.1875" y="538.9" font-size="3.4" fill="#000" stroke="#000" stroke-width="0.06" text-anchor="middle">157.5°</text>
<text x="692.0" y="538.9" font-size="3.4" fill="#000" stroke="#000" stroke-width="0.06" text-anchor="middle">180.0°</text>
<text x="702.8125" y="538.9" font-size="3.4" fill="#000" stroke="#000" stroke-width="0.06" text-anchor="middle">202.5°</text>
<text x="713.625" y="538.9" font-size="3.4" fill="#000" stroke="#000" stroke-width="0.06" text-anchor="middle">225.0°</text>
<text x="724.4375" y="538.9" font-size="3.4" fill="#000" stroke="#000" stroke-width="0.06" text-anchor="middle">247.5°</text>
<text x="735.25" y="538.9" font-size="3.4" fill="#000" stroke="#000" stroke-width="0.06" text-anchor="middle">270.0°</text>
<text x="746.0625" y="538.9" font-size="3.4" fill="#000" stroke="#000" stroke-width="0.06" text-anchor="middle">292.5°</text>
<text x="756.875" y="538.9" font-size="3.4" fill="#000" stroke="#000" stroke-width="0.06" text-anchor="middle">315.0°</text>
<text x="767.6875" y="538.9" font-size="3.4" fill="#000" stroke="#000" stroke-width="0.06" text-anchor="middle">337.5°</text>
<text x="778.5" y="538.9" font-size="3.4" fill="#000" stroke="#000" stroke-width="0.06" text-anchor="middle">360.0°</text>
</svg></body></html>
